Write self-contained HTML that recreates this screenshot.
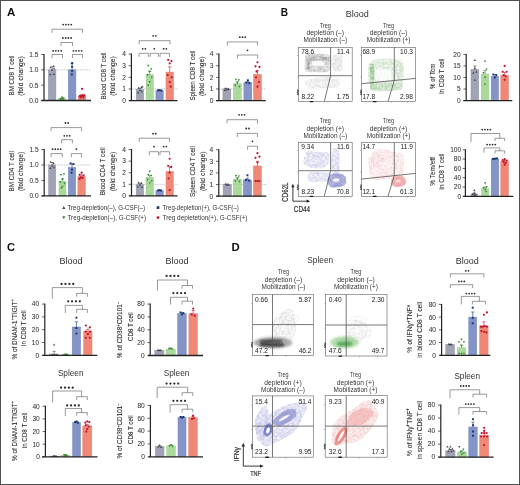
<!DOCTYPE html><html><head><meta charset="utf-8"><style>html,body{margin:0;padding:0;background:#fff;}svg{display:block;will-change:transform;}text{font-family:"Liberation Sans", sans-serif;}</style></head><body>
<svg width="520" height="485" viewBox="0 0 520 485">
<defs><filter id="bl1" x="-50%" y="-50%" width="200%" height="200%"><feGaussianBlur stdDeviation="1.2"/></filter><filter id="bl2" x="-50%" y="-50%" width="200%" height="200%"><feGaussianBlur stdDeviation="2.2"/></filter><filter id="bl05" x="-50%" y="-50%" width="200%" height="200%"><feGaussianBlur stdDeviation="0.5"/></filter><filter id="bl08" x="-50%" y="-50%" width="200%" height="200%"><feGaussianBlur stdDeviation="0.8"/></filter><filter id="tex" x="-20%" y="-20%" width="140%" height="140%"><feTurbulence type="fractalNoise" baseFrequency="0.4" numOctaves="2" seed="3" result="n"/><feColorMatrix in="n" type="matrix" values="0 0 0 0 0  0 0 0 0 0  0 0 0 0 0  0 0 0 1.5 -0.1" result="na"/><feComposite in="SourceGraphic" in2="na" operator="in"/></filter></defs>
<rect x="0.00" y="0.00" width="520.00" height="485.00" fill="#fff"/>
<text x="7.00" y="15.96" font-size="11" text-anchor="start" font-weight="bold" fill="#111" textLength="8.30" lengthAdjust="spacingAndGlyphs">A</text>
<text x="280.80" y="16.46" font-size="11" text-anchor="start" font-weight="bold" fill="#111" textLength="7.30" lengthAdjust="spacingAndGlyphs">B</text>
<text x="7.00" y="250.96" font-size="11" text-anchor="start" font-weight="bold" fill="#111" textLength="8.00" lengthAdjust="spacingAndGlyphs">C</text>
<text x="231.50" y="250.96" font-size="11" text-anchor="start" font-weight="bold" fill="#111" textLength="8.20" lengthAdjust="spacingAndGlyphs">D</text>
<line x1="44.00" y1="69.83" x2="91.00" y2="69.83" stroke="#b4b8c0" stroke-width="0.7" stroke-dasharray="0.9,0.9"/>
<rect x="48.30" y="69.83" width="7.60" height="30.67" fill="#a1a3b4" stroke="#9093a6" stroke-width="0.5"/>
<rect x="58.50" y="98.35" width="7.20" height="2.15" fill="#abd99c" stroke="#98cc88" stroke-width="0.5"/>
<rect x="68.30" y="69.83" width="7.60" height="30.67" fill="#8494c6" stroke="#7385ba" stroke-width="0.5"/>
<rect x="78.20" y="95.90" width="7.60" height="4.60" fill="#f08878" stroke="#e67a6a" stroke-width="0.5"/>
<line x1="44.00" y1="69.83" x2="91.00" y2="69.83" stroke="#a8aebb" stroke-width="0.6" stroke-dasharray="0.9,0.9" opacity="0.6"/>
<line x1="52.10" y1="69.83" x2="52.10" y2="66.77" stroke="#45454f" stroke-width="0.6"/>
<line x1="50.50" y1="66.77" x2="53.70" y2="66.77" stroke="#45454f" stroke-width="0.6"/>
<path d="M50.60 66.23L51.75 68.30L49.45 68.30Z" fill="#45454f"/>
<path d="M53.60 65.00L54.75 67.07L52.45 67.07Z" fill="#45454f"/>
<path d="M52.10 68.68L53.25 70.75L50.95 70.75Z" fill="#45454f"/>
<path d="M50.30 73.28L51.45 75.35L49.15 75.35Z" fill="#45454f"/>
<path d="M53.90 72.98L55.05 75.05L52.75 75.05Z" fill="#45454f"/>
<path d="M54.10 67.15L55.25 69.22L52.95 69.22Z" fill="#45454f"/>
<line x1="62.10" y1="98.35" x2="62.10" y2="97.74" stroke="#3a8332" stroke-width="0.6"/>
<line x1="60.50" y1="97.74" x2="63.70" y2="97.74" stroke="#3a8332" stroke-width="0.6"/>
<path d="M60.60 100.12L61.75 98.05L59.45 98.05Z" fill="#3a8332"/>
<path d="M63.60 99.50L64.75 97.43L62.45 97.43Z" fill="#3a8332"/>
<path d="M62.10 98.58L63.25 96.51L60.95 96.51Z" fill="#3a8332"/>
<path d="M61.10 100.73L62.25 98.66L59.95 98.66Z" fill="#3a8332"/>
<path d="M63.10 100.42L64.25 98.35L61.95 98.35Z" fill="#3a8332"/>
<line x1="72.10" y1="69.83" x2="72.10" y2="63.70" stroke="#1a3673" stroke-width="0.6"/>
<line x1="70.50" y1="63.70" x2="73.70" y2="63.70" stroke="#1a3673" stroke-width="0.6"/>
<rect x="71.12" y="62.11" width="1.95" height="1.95" fill="#1a3673"/>
<rect x="71.12" y="65.79" width="1.95" height="1.95" fill="#1a3673"/>
<rect x="71.12" y="69.78" width="1.95" height="1.95" fill="#1a3673"/>
<rect x="70.82" y="73.46" width="1.95" height="1.95" fill="#1a3673"/>
<line x1="82.00" y1="95.90" x2="82.00" y2="94.37" stroke="#c0102a" stroke-width="0.6"/>
<line x1="80.40" y1="94.37" x2="83.60" y2="94.37" stroke="#c0102a" stroke-width="0.6"/>
<circle cx="82.00" cy="88.85" r="1.09" fill="#c0102a"/>
<circle cx="80.00" cy="95.90" r="1.09" fill="#c0102a"/>
<circle cx="81.50" cy="96.21" r="1.09" fill="#c0102a"/>
<circle cx="83.00" cy="95.59" r="1.09" fill="#c0102a"/>
<circle cx="84.50" cy="95.29" r="1.09" fill="#c0102a"/>
<circle cx="80.50" cy="97.43" r="1.09" fill="#c0102a"/>
<circle cx="83.50" cy="97.43" r="1.09" fill="#c0102a"/>
<line x1="44.00" y1="54.00" x2="44.00" y2="100.50" stroke="#222" stroke-width="1.2"/>
<line x1="41.50" y1="100.50" x2="91.00" y2="100.50" stroke="#222" stroke-width="1.3"/>
<line x1="41.20" y1="100.50" x2="44.00" y2="100.50" stroke="#222" stroke-width="0.7"/>
<text x="38.40" y="102.88" font-size="6.6" text-anchor="end" font-weight="normal" fill="#333" stroke="#333" stroke-width="0.05">0.0</text>
<line x1="41.20" y1="85.17" x2="44.00" y2="85.17" stroke="#222" stroke-width="0.7"/>
<text x="38.40" y="87.54" font-size="6.6" text-anchor="end" font-weight="normal" fill="#333" stroke="#333" stroke-width="0.05">0.5</text>
<line x1="41.20" y1="69.83" x2="44.00" y2="69.83" stroke="#222" stroke-width="0.7"/>
<text x="38.40" y="72.21" font-size="6.6" text-anchor="end" font-weight="normal" fill="#333" stroke="#333" stroke-width="0.05">1.0</text>
<line x1="41.20" y1="54.50" x2="44.00" y2="54.50" stroke="#222" stroke-width="0.7"/>
<text x="38.40" y="56.88" font-size="6.6" text-anchor="end" font-weight="normal" fill="#333" stroke="#333" stroke-width="0.05">1.5</text>
<path d="M52.00 32.80V29.20H82.50V32.80" fill="none" stroke="#555" stroke-width="0.6"/>
<circle cx="63.12" cy="24.60" r="0.89" fill="#2a2a2a"/>
<circle cx="65.84" cy="24.60" r="0.89" fill="#2a2a2a"/>
<circle cx="68.56" cy="24.60" r="0.89" fill="#2a2a2a"/>
<circle cx="71.28" cy="24.60" r="0.89" fill="#2a2a2a"/>
<path d="M61.00 46.10V42.50H72.50V46.10" fill="none" stroke="#555" stroke-width="0.6"/>
<circle cx="62.92" cy="38.00" r="0.89" fill="#2a2a2a"/>
<circle cx="65.64" cy="38.00" r="0.89" fill="#2a2a2a"/>
<circle cx="68.36" cy="38.00" r="0.89" fill="#2a2a2a"/>
<circle cx="71.08" cy="38.00" r="0.89" fill="#2a2a2a"/>
<path d="M52.00 58.10V54.50H62.50V58.10" fill="none" stroke="#555" stroke-width="0.6"/>
<circle cx="53.12" cy="50.80" r="0.89" fill="#2a2a2a"/>
<circle cx="55.84" cy="50.80" r="0.89" fill="#2a2a2a"/>
<circle cx="58.56" cy="50.80" r="0.89" fill="#2a2a2a"/>
<circle cx="61.28" cy="50.80" r="0.89" fill="#2a2a2a"/>
<path d="M72.50 58.10V54.50H82.50V58.10" fill="none" stroke="#555" stroke-width="0.6"/>
<circle cx="73.42" cy="50.80" r="0.89" fill="#2a2a2a"/>
<circle cx="76.14" cy="50.80" r="0.89" fill="#2a2a2a"/>
<circle cx="78.86" cy="50.80" r="0.89" fill="#2a2a2a"/>
<circle cx="81.58" cy="50.80" r="0.89" fill="#2a2a2a"/>
<text transform="translate(13.58,75.50) rotate(-90)" x="0" y="0" font-size="8.0" text-anchor="middle" font-weight="normal" fill="#333" textLength="40.00" lengthAdjust="spacingAndGlyphs" stroke="#333" stroke-width="0.12">BM CD8 T cell</text>
<text transform="translate(23.18,76.00) rotate(-90)" x="0" y="0" font-size="8.0" text-anchor="middle" font-weight="normal" fill="#333" textLength="39.60" lengthAdjust="spacingAndGlyphs" stroke="#333" stroke-width="0.12">(fold change)</text>
<line x1="131.40" y1="88.97" x2="177.50" y2="88.97" stroke="#b4b8c0" stroke-width="0.7" stroke-dasharray="0.9,0.9"/>
<rect x="136.20" y="89.56" width="7.50" height="11.04" fill="#a1a3b4" stroke="#9093a6" stroke-width="0.5"/>
<rect x="146.10" y="74.44" width="7.20" height="26.16" fill="#abd99c" stroke="#98cc88" stroke-width="0.5"/>
<rect x="155.90" y="90.72" width="7.40" height="9.88" fill="#8494c6" stroke="#7385ba" stroke-width="0.5"/>
<rect x="166.00" y="72.12" width="7.40" height="28.48" fill="#f08878" stroke="#e67a6a" stroke-width="0.5"/>
<line x1="131.40" y1="88.97" x2="177.50" y2="88.97" stroke="#a8aebb" stroke-width="0.6" stroke-dasharray="0.9,0.9" opacity="0.6"/>
<line x1="139.95" y1="89.56" x2="139.95" y2="88.16" stroke="#45454f" stroke-width="0.6"/>
<line x1="138.35" y1="88.16" x2="141.55" y2="88.16" stroke="#45454f" stroke-width="0.6"/>
<path d="M138.45 86.66L139.60 88.73L137.30 88.73Z" fill="#45454f"/>
<path d="M141.45 86.08L142.60 88.15L140.30 88.15Z" fill="#45454f"/>
<path d="M139.95 88.99L141.10 91.06L138.80 91.06Z" fill="#45454f"/>
<path d="M138.15 91.31L139.30 93.38L137.00 93.38Z" fill="#45454f"/>
<path d="M141.75 90.15L142.90 92.22L140.60 92.22Z" fill="#45454f"/>
<path d="M142.45 85.50L143.60 87.57L141.30 87.57Z" fill="#45454f"/>
<line x1="149.70" y1="74.44" x2="149.70" y2="71.54" stroke="#3a8332" stroke-width="0.6"/>
<line x1="148.10" y1="71.54" x2="151.30" y2="71.54" stroke="#3a8332" stroke-width="0.6"/>
<path d="M148.20 66.88L149.35 64.80L147.05 64.80Z" fill="#3a8332"/>
<path d="M151.20 70.36L152.35 68.29L150.05 68.29Z" fill="#3a8332"/>
<path d="M149.70 72.69L150.85 70.62L148.55 70.62Z" fill="#3a8332"/>
<path d="M147.70 76.17L148.85 74.10L146.55 74.10Z" fill="#3a8332"/>
<path d="M151.70 78.50L152.85 76.43L150.55 76.43Z" fill="#3a8332"/>
<path d="M149.70 83.15L150.85 81.08L148.55 81.08Z" fill="#3a8332"/>
<path d="M148.20 86.64L149.35 84.57L147.05 84.57Z" fill="#3a8332"/>
<line x1="159.60" y1="90.72" x2="159.60" y2="90.25" stroke="#1a3673" stroke-width="0.6"/>
<line x1="158.00" y1="90.25" x2="161.20" y2="90.25" stroke="#1a3673" stroke-width="0.6"/>
<rect x="157.12" y="89.39" width="1.95" height="1.95" fill="#1a3673"/>
<rect x="158.62" y="89.16" width="1.95" height="1.95" fill="#1a3673"/>
<rect x="160.42" y="89.62" width="1.95" height="1.95" fill="#1a3673"/>
<line x1="169.70" y1="72.12" x2="169.70" y2="66.89" stroke="#c0102a" stroke-width="0.6"/>
<line x1="168.10" y1="66.89" x2="171.30" y2="66.89" stroke="#c0102a" stroke-width="0.6"/>
<circle cx="168.20" cy="59.91" r="1.09" fill="#c0102a"/>
<circle cx="171.50" cy="61.08" r="1.09" fill="#c0102a"/>
<circle cx="169.70" cy="63.40" r="1.09" fill="#c0102a"/>
<circle cx="167.70" cy="75.02" r="1.09" fill="#c0102a"/>
<circle cx="171.70" cy="77.35" r="1.09" fill="#c0102a"/>
<circle cx="169.70" cy="82.00" r="1.09" fill="#c0102a"/>
<circle cx="170.70" cy="86.65" r="1.09" fill="#c0102a"/>
<line x1="131.40" y1="53.60" x2="131.40" y2="100.60" stroke="#222" stroke-width="1.2"/>
<line x1="129.00" y1="100.60" x2="177.50" y2="100.60" stroke="#222" stroke-width="1.3"/>
<line x1="128.60" y1="100.60" x2="131.40" y2="100.60" stroke="#222" stroke-width="0.7"/>
<text x="125.80" y="102.98" font-size="6.6" text-anchor="end" font-weight="normal" fill="#333" stroke="#333" stroke-width="0.05">0</text>
<line x1="128.60" y1="88.97" x2="131.40" y2="88.97" stroke="#222" stroke-width="0.7"/>
<text x="125.80" y="91.35" font-size="6.6" text-anchor="end" font-weight="normal" fill="#333" stroke="#333" stroke-width="0.05">1</text>
<line x1="128.60" y1="77.35" x2="131.40" y2="77.35" stroke="#222" stroke-width="0.7"/>
<text x="125.80" y="79.73" font-size="6.6" text-anchor="end" font-weight="normal" fill="#333" stroke="#333" stroke-width="0.05">2</text>
<line x1="128.60" y1="65.72" x2="131.40" y2="65.72" stroke="#222" stroke-width="0.7"/>
<text x="125.80" y="68.10" font-size="6.6" text-anchor="end" font-weight="normal" fill="#333" stroke="#333" stroke-width="0.05">3</text>
<line x1="128.60" y1="54.10" x2="131.40" y2="54.10" stroke="#222" stroke-width="0.7"/>
<text x="125.80" y="56.48" font-size="6.6" text-anchor="end" font-weight="normal" fill="#333" stroke="#333" stroke-width="0.05">4</text>
<path d="M139.10 44.30V40.70H170.00V44.30" fill="none" stroke="#555" stroke-width="0.6"/>
<circle cx="153.14" cy="35.80" r="0.89" fill="#2a2a2a"/>
<circle cx="155.86" cy="35.80" r="0.89" fill="#2a2a2a"/>
<path d="M139.10 56.90V53.30H148.40V56.90" fill="none" stroke="#555" stroke-width="0.6"/>
<circle cx="142.64" cy="48.80" r="0.89" fill="#2a2a2a"/>
<circle cx="145.36" cy="48.80" r="0.89" fill="#2a2a2a"/>
<path d="M150.20 56.90V53.30H158.40V56.90" fill="none" stroke="#555" stroke-width="0.6"/>
<circle cx="154.30" cy="48.80" r="0.89" fill="#2a2a2a"/>
<path d="M160.10 56.90V53.30H169.40V56.90" fill="none" stroke="#555" stroke-width="0.6"/>
<circle cx="163.64" cy="48.80" r="0.89" fill="#2a2a2a"/>
<circle cx="166.36" cy="48.80" r="0.89" fill="#2a2a2a"/>
<text transform="translate(106.38,76.00) rotate(-90)" x="0" y="0" font-size="8.0" text-anchor="middle" font-weight="normal" fill="#333" textLength="47.00" lengthAdjust="spacingAndGlyphs" stroke="#333" stroke-width="0.12">Blood CD8 T cell</text>
<text transform="translate(114.98,76.00) rotate(-90)" x="0" y="0" font-size="8.0" text-anchor="middle" font-weight="normal" fill="#333" textLength="39.50" lengthAdjust="spacingAndGlyphs" stroke="#333" stroke-width="0.12">(fold change)</text>
<line x1="218.90" y1="88.97" x2="265.80" y2="88.97" stroke="#b4b8c0" stroke-width="0.7" stroke-dasharray="0.9,0.9"/>
<rect x="222.90" y="88.97" width="7.90" height="11.62" fill="#a1a3b4" stroke="#9093a6" stroke-width="0.5"/>
<rect x="233.40" y="83.74" width="7.90" height="16.86" fill="#abd99c" stroke="#98cc88" stroke-width="0.5"/>
<rect x="243.90" y="82.58" width="7.90" height="18.02" fill="#8494c6" stroke="#7385ba" stroke-width="0.5"/>
<rect x="253.60" y="74.44" width="7.80" height="26.16" fill="#f08878" stroke="#e67a6a" stroke-width="0.5"/>
<line x1="218.90" y1="88.97" x2="265.80" y2="88.97" stroke="#a8aebb" stroke-width="0.6" stroke-dasharray="0.9,0.9" opacity="0.6"/>
<line x1="226.85" y1="88.97" x2="226.85" y2="88.39" stroke="#45454f" stroke-width="0.6"/>
<line x1="225.25" y1="88.39" x2="228.45" y2="88.39" stroke="#45454f" stroke-width="0.6"/>
<path d="M225.35 87.24L226.50 89.31L224.20 89.31Z" fill="#45454f"/>
<path d="M228.35 87.82L229.50 89.89L227.20 89.89Z" fill="#45454f"/>
<path d="M226.85 88.41L228.00 90.48L225.70 90.48Z" fill="#45454f"/>
<path d="M224.85 88.99L226.00 91.06L223.70 91.06Z" fill="#45454f"/>
<line x1="237.35" y1="83.74" x2="237.35" y2="81.42" stroke="#3a8332" stroke-width="0.6"/>
<line x1="235.75" y1="81.42" x2="238.95" y2="81.42" stroke="#3a8332" stroke-width="0.6"/>
<path d="M235.85 80.83L237.00 78.75L234.70 78.75Z" fill="#3a8332"/>
<path d="M238.85 81.41L240.00 79.34L237.70 79.34Z" fill="#3a8332"/>
<path d="M237.35 84.31L238.50 82.24L236.20 82.24Z" fill="#3a8332"/>
<path d="M235.35 86.64L236.50 84.57L234.20 84.57Z" fill="#3a8332"/>
<path d="M239.35 87.80L240.50 85.73L238.20 85.73Z" fill="#3a8332"/>
<line x1="247.85" y1="82.58" x2="247.85" y2="81.42" stroke="#1a3673" stroke-width="0.6"/>
<line x1="246.25" y1="81.42" x2="249.45" y2="81.42" stroke="#1a3673" stroke-width="0.6"/>
<rect x="246.87" y="79.28" width="1.95" height="1.95" fill="#1a3673"/>
<rect x="245.37" y="81.60" width="1.95" height="1.95" fill="#1a3673"/>
<rect x="248.37" y="82.18" width="1.95" height="1.95" fill="#1a3673"/>
<line x1="257.50" y1="74.44" x2="257.50" y2="70.38" stroke="#c0102a" stroke-width="0.6"/>
<line x1="255.90" y1="70.38" x2="259.10" y2="70.38" stroke="#c0102a" stroke-width="0.6"/>
<circle cx="255.50" cy="66.31" r="1.09" fill="#c0102a"/>
<circle cx="257.50" cy="62.24" r="1.09" fill="#c0102a"/>
<circle cx="259.50" cy="66.89" r="1.09" fill="#c0102a"/>
<circle cx="256.50" cy="71.54" r="1.09" fill="#c0102a"/>
<circle cx="259.00" cy="82.00" r="1.09" fill="#c0102a"/>
<circle cx="257.50" cy="86.65" r="1.09" fill="#c0102a"/>
<circle cx="256.00" cy="77.35" r="1.09" fill="#c0102a"/>
<line x1="218.90" y1="53.60" x2="218.90" y2="100.60" stroke="#222" stroke-width="1.2"/>
<line x1="216.00" y1="100.60" x2="265.80" y2="100.60" stroke="#222" stroke-width="1.3"/>
<line x1="216.10" y1="100.60" x2="218.90" y2="100.60" stroke="#222" stroke-width="0.7"/>
<text x="213.30" y="102.98" font-size="6.6" text-anchor="end" font-weight="normal" fill="#333" stroke="#333" stroke-width="0.05">0</text>
<line x1="216.10" y1="88.97" x2="218.90" y2="88.97" stroke="#222" stroke-width="0.7"/>
<text x="213.30" y="91.35" font-size="6.6" text-anchor="end" font-weight="normal" fill="#333" stroke="#333" stroke-width="0.05">1</text>
<line x1="216.10" y1="77.35" x2="218.90" y2="77.35" stroke="#222" stroke-width="0.7"/>
<text x="213.30" y="79.73" font-size="6.6" text-anchor="end" font-weight="normal" fill="#333" stroke="#333" stroke-width="0.05">2</text>
<line x1="216.10" y1="65.72" x2="218.90" y2="65.72" stroke="#222" stroke-width="0.7"/>
<text x="213.30" y="68.10" font-size="6.6" text-anchor="end" font-weight="normal" fill="#333" stroke="#333" stroke-width="0.05">3</text>
<line x1="216.10" y1="54.10" x2="218.90" y2="54.10" stroke="#222" stroke-width="0.7"/>
<text x="213.30" y="56.48" font-size="6.6" text-anchor="end" font-weight="normal" fill="#333" stroke="#333" stroke-width="0.05">4</text>
<path d="M227.30 45.50V41.90H257.60V45.50" fill="none" stroke="#555" stroke-width="0.6"/>
<circle cx="239.78" cy="37.20" r="0.89" fill="#2a2a2a"/>
<circle cx="242.50" cy="37.20" r="0.89" fill="#2a2a2a"/>
<circle cx="245.22" cy="37.20" r="0.89" fill="#2a2a2a"/>
<path d="M237.40 58.60V55.00H257.60V58.60" fill="none" stroke="#555" stroke-width="0.6"/>
<circle cx="247.50" cy="50.30" r="0.89" fill="#2a2a2a"/>
<text transform="translate(195.08,75.60) rotate(-90)" x="0" y="0" font-size="8.0" text-anchor="middle" font-weight="normal" fill="#333" textLength="50.00" lengthAdjust="spacingAndGlyphs" stroke="#333" stroke-width="0.12">Spleen CD8 T cell</text>
<text transform="translate(204.38,76.30) rotate(-90)" x="0" y="0" font-size="8.0" text-anchor="middle" font-weight="normal" fill="#333" textLength="39.50" lengthAdjust="spacingAndGlyphs" stroke="#333" stroke-width="0.12">(fold change)</text>
<line x1="44.20" y1="164.97" x2="91.00" y2="164.97" stroke="#b4b8c0" stroke-width="0.7" stroke-dasharray="0.9,0.9"/>
<rect x="48.60" y="164.97" width="7.10" height="30.93" fill="#a1a3b4" stroke="#9093a6" stroke-width="0.5"/>
<rect x="59.00" y="181.36" width="6.90" height="14.54" fill="#abd99c" stroke="#98cc88" stroke-width="0.5"/>
<rect x="68.30" y="167.44" width="7.40" height="28.46" fill="#8494c6" stroke="#7385ba" stroke-width="0.5"/>
<rect x="77.90" y="176.72" width="7.40" height="19.18" fill="#f08878" stroke="#e67a6a" stroke-width="0.5"/>
<line x1="44.20" y1="164.97" x2="91.00" y2="164.97" stroke="#a8aebb" stroke-width="0.6" stroke-dasharray="0.9,0.9" opacity="0.6"/>
<line x1="52.15" y1="164.97" x2="52.15" y2="162.49" stroke="#45454f" stroke-width="0.6"/>
<line x1="50.55" y1="162.49" x2="53.75" y2="162.49" stroke="#45454f" stroke-width="0.6"/>
<path d="M50.65 160.72L51.80 162.79L49.50 162.79Z" fill="#45454f"/>
<path d="M53.65 162.27L54.80 164.34L52.50 164.34Z" fill="#45454f"/>
<path d="M52.15 164.74L53.30 166.81L51.00 166.81Z" fill="#45454f"/>
<path d="M50.35 166.91L51.50 168.98L49.20 168.98Z" fill="#45454f"/>
<path d="M53.95 166.29L55.10 168.36L52.80 168.36Z" fill="#45454f"/>
<line x1="62.45" y1="181.36" x2="62.45" y2="179.51" stroke="#3a8332" stroke-width="0.6"/>
<line x1="60.85" y1="179.51" x2="64.05" y2="179.51" stroke="#3a8332" stroke-width="0.6"/>
<path d="M60.95 176.02L62.10 173.95L59.80 173.95Z" fill="#3a8332"/>
<path d="M63.95 175.40L65.10 173.33L62.80 173.33Z" fill="#3a8332"/>
<path d="M62.45 180.04L63.60 177.97L61.30 177.97Z" fill="#3a8332"/>
<path d="M60.45 183.13L61.60 181.06L59.30 181.06Z" fill="#3a8332"/>
<path d="M64.45 184.68L65.60 182.61L63.30 182.61Z" fill="#3a8332"/>
<path d="M62.45 187.77L63.60 185.70L61.30 185.70Z" fill="#3a8332"/>
<path d="M61.45 189.32L62.60 187.25L60.30 187.25Z" fill="#3a8332"/>
<line x1="72.00" y1="167.44" x2="72.00" y2="163.73" stroke="#1a3673" stroke-width="0.6"/>
<line x1="70.40" y1="163.73" x2="73.60" y2="163.73" stroke="#1a3673" stroke-width="0.6"/>
<rect x="69.52" y="162.44" width="1.95" height="1.95" fill="#1a3673"/>
<rect x="72.52" y="163.06" width="1.95" height="1.95" fill="#1a3673"/>
<rect x="71.02" y="168.63" width="1.95" height="1.95" fill="#1a3673"/>
<rect x="70.52" y="171.72" width="1.95" height="1.95" fill="#1a3673"/>
<line x1="81.60" y1="176.72" x2="81.60" y2="174.87" stroke="#c0102a" stroke-width="0.6"/>
<line x1="80.00" y1="174.87" x2="83.20" y2="174.87" stroke="#c0102a" stroke-width="0.6"/>
<circle cx="81.60" cy="172.70" r="1.09" fill="#c0102a"/>
<circle cx="79.60" cy="174.87" r="1.09" fill="#c0102a"/>
<circle cx="83.60" cy="175.48" r="1.09" fill="#c0102a"/>
<circle cx="80.60" cy="177.34" r="1.09" fill="#c0102a"/>
<circle cx="82.60" cy="177.96" r="1.09" fill="#c0102a"/>
<circle cx="79.60" cy="178.89" r="1.09" fill="#c0102a"/>
<line x1="44.20" y1="149.00" x2="44.20" y2="195.90" stroke="#222" stroke-width="1.2"/>
<line x1="41.70" y1="195.90" x2="91.00" y2="195.90" stroke="#222" stroke-width="1.3"/>
<line x1="41.40" y1="195.90" x2="44.20" y2="195.90" stroke="#222" stroke-width="0.7"/>
<text x="38.60" y="198.28" font-size="6.6" text-anchor="end" font-weight="normal" fill="#333" stroke="#333" stroke-width="0.05">0.0</text>
<line x1="41.40" y1="180.43" x2="44.20" y2="180.43" stroke="#222" stroke-width="0.7"/>
<text x="38.60" y="182.81" font-size="6.6" text-anchor="end" font-weight="normal" fill="#333" stroke="#333" stroke-width="0.05">0.5</text>
<line x1="41.40" y1="164.97" x2="44.20" y2="164.97" stroke="#222" stroke-width="0.7"/>
<text x="38.60" y="167.34" font-size="6.6" text-anchor="end" font-weight="normal" fill="#333" stroke="#333" stroke-width="0.05">1.0</text>
<line x1="41.40" y1="149.50" x2="44.20" y2="149.50" stroke="#222" stroke-width="0.7"/>
<text x="38.60" y="151.88" font-size="6.6" text-anchor="end" font-weight="normal" fill="#333" stroke="#333" stroke-width="0.05">1.5</text>
<path d="M51.00 131.20V127.60H81.60V131.20" fill="none" stroke="#555" stroke-width="0.6"/>
<circle cx="65.44" cy="123.00" r="0.89" fill="#2a2a2a"/>
<circle cx="68.16" cy="123.00" r="0.89" fill="#2a2a2a"/>
<path d="M61.60 143.30V139.70H72.40V143.30" fill="none" stroke="#555" stroke-width="0.6"/>
<circle cx="64.28" cy="135.80" r="0.89" fill="#2a2a2a"/>
<circle cx="67.00" cy="135.80" r="0.89" fill="#2a2a2a"/>
<circle cx="69.72" cy="135.80" r="0.89" fill="#2a2a2a"/>
<path d="M51.00 157.20V153.60H62.20V157.20" fill="none" stroke="#555" stroke-width="0.6"/>
<circle cx="52.52" cy="149.20" r="0.89" fill="#2a2a2a"/>
<circle cx="55.24" cy="149.20" r="0.89" fill="#2a2a2a"/>
<circle cx="57.96" cy="149.20" r="0.89" fill="#2a2a2a"/>
<circle cx="60.68" cy="149.20" r="0.89" fill="#2a2a2a"/>
<path d="M71.40 157.20V153.60H81.60V157.20" fill="none" stroke="#555" stroke-width="0.6"/>
<circle cx="76.40" cy="149.20" r="0.89" fill="#2a2a2a"/>
<text transform="translate(13.78,171.30) rotate(-90)" x="0" y="0" font-size="8.0" text-anchor="middle" font-weight="normal" fill="#333" textLength="40.20" lengthAdjust="spacingAndGlyphs" stroke="#333" stroke-width="0.12">BM CD4 T cell</text>
<text transform="translate(22.88,171.30) rotate(-90)" x="0" y="0" font-size="8.0" text-anchor="middle" font-weight="normal" fill="#333" textLength="39.20" lengthAdjust="spacingAndGlyphs" stroke="#333" stroke-width="0.12">(fold change)</text>
<line x1="131.50" y1="184.30" x2="177.60" y2="184.30" stroke="#b4b8c0" stroke-width="0.7" stroke-dasharray="0.9,0.9"/>
<rect x="136.20" y="184.30" width="7.40" height="11.60" fill="#a1a3b4" stroke="#9093a6" stroke-width="0.5"/>
<rect x="146.00" y="177.34" width="7.40" height="18.56" fill="#abd99c" stroke="#98cc88" stroke-width="0.5"/>
<rect x="155.90" y="190.68" width="7.40" height="5.22" fill="#8494c6" stroke="#7385ba" stroke-width="0.5"/>
<rect x="166.00" y="171.54" width="7.30" height="24.36" fill="#f08878" stroke="#e67a6a" stroke-width="0.5"/>
<line x1="131.50" y1="184.30" x2="177.60" y2="184.30" stroke="#a8aebb" stroke-width="0.6" stroke-dasharray="0.9,0.9" opacity="0.6"/>
<line x1="139.90" y1="184.30" x2="139.90" y2="183.14" stroke="#45454f" stroke-width="0.6"/>
<line x1="138.30" y1="183.14" x2="141.50" y2="183.14" stroke="#45454f" stroke-width="0.6"/>
<path d="M138.40 181.41L139.55 183.48L137.25 183.48Z" fill="#45454f"/>
<path d="M141.40 181.99L142.55 184.06L140.25 184.06Z" fill="#45454f"/>
<path d="M139.90 183.73L141.05 185.80L138.75 185.80Z" fill="#45454f"/>
<path d="M137.90 185.47L139.05 187.54L136.75 187.54Z" fill="#45454f"/>
<path d="M141.90 186.05L143.05 188.12L140.75 188.12Z" fill="#45454f"/>
<line x1="149.70" y1="177.34" x2="149.70" y2="175.60" stroke="#3a8332" stroke-width="0.6"/>
<line x1="148.10" y1="175.60" x2="151.30" y2="175.60" stroke="#3a8332" stroke-width="0.6"/>
<path d="M149.70 172.69L150.85 170.62L148.55 170.62Z" fill="#3a8332"/>
<path d="M148.20 176.17L149.35 174.10L147.05 174.10Z" fill="#3a8332"/>
<path d="M151.20 176.75L152.35 174.68L150.05 174.68Z" fill="#3a8332"/>
<path d="M147.70 180.81L148.85 178.74L146.55 178.74Z" fill="#3a8332"/>
<path d="M151.70 181.97L152.85 179.90L150.55 179.90Z" fill="#3a8332"/>
<path d="M149.70 184.29L150.85 182.22L148.55 182.22Z" fill="#3a8332"/>
<line x1="159.60" y1="190.68" x2="159.60" y2="190.33" stroke="#1a3673" stroke-width="0.6"/>
<line x1="158.00" y1="190.33" x2="161.20" y2="190.33" stroke="#1a3673" stroke-width="0.6"/>
<rect x="157.12" y="189.47" width="1.95" height="1.95" fill="#1a3673"/>
<rect x="158.62" y="189.12" width="1.95" height="1.95" fill="#1a3673"/>
<rect x="160.12" y="189.59" width="1.95" height="1.95" fill="#1a3673"/>
<line x1="169.65" y1="171.54" x2="169.65" y2="166.90" stroke="#c0102a" stroke-width="0.6"/>
<line x1="168.05" y1="166.90" x2="171.25" y2="166.90" stroke="#c0102a" stroke-width="0.6"/>
<circle cx="169.65" cy="158.78" r="1.09" fill="#c0102a"/>
<circle cx="168.15" cy="165.74" r="1.09" fill="#c0102a"/>
<circle cx="171.15" cy="166.90" r="1.09" fill="#c0102a"/>
<circle cx="169.65" cy="172.70" r="1.09" fill="#c0102a"/>
<circle cx="168.65" cy="178.50" r="1.09" fill="#c0102a"/>
<circle cx="169.65" cy="190.10" r="1.09" fill="#c0102a"/>
<line x1="131.50" y1="149.00" x2="131.50" y2="195.90" stroke="#222" stroke-width="1.2"/>
<line x1="129.30" y1="195.90" x2="177.60" y2="195.90" stroke="#222" stroke-width="1.3"/>
<line x1="128.70" y1="195.90" x2="131.50" y2="195.90" stroke="#222" stroke-width="0.7"/>
<text x="125.90" y="198.28" font-size="6.6" text-anchor="end" font-weight="normal" fill="#333" stroke="#333" stroke-width="0.05">0</text>
<line x1="128.70" y1="184.30" x2="131.50" y2="184.30" stroke="#222" stroke-width="0.7"/>
<text x="125.90" y="186.68" font-size="6.6" text-anchor="end" font-weight="normal" fill="#333" stroke="#333" stroke-width="0.05">1</text>
<line x1="128.70" y1="172.70" x2="131.50" y2="172.70" stroke="#222" stroke-width="0.7"/>
<text x="125.90" y="175.08" font-size="6.6" text-anchor="end" font-weight="normal" fill="#333" stroke="#333" stroke-width="0.05">2</text>
<line x1="128.70" y1="161.10" x2="131.50" y2="161.10" stroke="#222" stroke-width="0.7"/>
<text x="125.90" y="163.48" font-size="6.6" text-anchor="end" font-weight="normal" fill="#333" stroke="#333" stroke-width="0.05">3</text>
<line x1="128.70" y1="149.50" x2="131.50" y2="149.50" stroke="#222" stroke-width="0.7"/>
<text x="125.90" y="151.88" font-size="6.6" text-anchor="end" font-weight="normal" fill="#333" stroke="#333" stroke-width="0.05">4</text>
<path d="M139.20 141.80V138.20H169.60V141.80" fill="none" stroke="#555" stroke-width="0.6"/>
<circle cx="153.04" cy="133.70" r="0.89" fill="#2a2a2a"/>
<circle cx="155.76" cy="133.70" r="0.89" fill="#2a2a2a"/>
<path d="M149.40 155.30V151.70H158.50V155.30" fill="none" stroke="#555" stroke-width="0.6"/>
<circle cx="154.00" cy="146.60" r="0.89" fill="#2a2a2a"/>
<path d="M160.00 155.30V151.70H169.60V155.30" fill="none" stroke="#555" stroke-width="0.6"/>
<circle cx="163.64" cy="146.60" r="0.89" fill="#2a2a2a"/>
<circle cx="166.36" cy="146.60" r="0.89" fill="#2a2a2a"/>
<text transform="translate(105.48,171.30) rotate(-90)" x="0" y="0" font-size="8.0" text-anchor="middle" font-weight="normal" fill="#333" textLength="47.70" lengthAdjust="spacingAndGlyphs" stroke="#333" stroke-width="0.12">Blood CD4 T cell</text>
<text transform="translate(114.98,171.60) rotate(-90)" x="0" y="0" font-size="8.0" text-anchor="middle" font-weight="normal" fill="#333" textLength="39.50" lengthAdjust="spacingAndGlyphs" stroke="#333" stroke-width="0.12">(fold change)</text>
<line x1="218.80" y1="184.57" x2="266.30" y2="184.57" stroke="#b4b8c0" stroke-width="0.7" stroke-dasharray="0.9,0.9"/>
<rect x="223.10" y="184.57" width="8.30" height="11.62" fill="#a1a3b4" stroke="#9093a6" stroke-width="0.5"/>
<rect x="233.30" y="179.34" width="8.10" height="16.86" fill="#abd99c" stroke="#98cc88" stroke-width="0.5"/>
<rect x="243.30" y="179.92" width="8.30" height="16.28" fill="#8494c6" stroke="#7385ba" stroke-width="0.5"/>
<rect x="253.50" y="165.97" width="7.90" height="30.22" fill="#f08878" stroke="#e67a6a" stroke-width="0.5"/>
<line x1="218.80" y1="184.57" x2="266.30" y2="184.57" stroke="#a8aebb" stroke-width="0.6" stroke-dasharray="0.9,0.9" opacity="0.6"/>
<line x1="227.25" y1="184.57" x2="227.25" y2="183.99" stroke="#45454f" stroke-width="0.6"/>
<line x1="225.65" y1="183.99" x2="228.85" y2="183.99" stroke="#45454f" stroke-width="0.6"/>
<path d="M225.75 182.84L226.90 184.91L224.60 184.91Z" fill="#45454f"/>
<path d="M228.75 183.42L229.90 185.49L227.60 185.49Z" fill="#45454f"/>
<path d="M227.25 184.01L228.40 186.08L226.10 186.08Z" fill="#45454f"/>
<line x1="237.35" y1="179.34" x2="237.35" y2="177.60" stroke="#3a8332" stroke-width="0.6"/>
<line x1="235.75" y1="177.60" x2="238.95" y2="177.60" stroke="#3a8332" stroke-width="0.6"/>
<path d="M235.85 177.01L237.00 174.94L234.70 174.94Z" fill="#3a8332"/>
<path d="M238.85 177.59L240.00 175.52L237.70 175.52Z" fill="#3a8332"/>
<path d="M237.35 179.91L238.50 177.84L236.20 177.84Z" fill="#3a8332"/>
<path d="M235.35 182.24L236.50 180.17L234.20 180.17Z" fill="#3a8332"/>
<path d="M239.35 182.82L240.50 180.75L238.20 180.75Z" fill="#3a8332"/>
<line x1="247.45" y1="179.92" x2="247.45" y2="178.18" stroke="#1a3673" stroke-width="0.6"/>
<line x1="245.85" y1="178.18" x2="249.05" y2="178.18" stroke="#1a3673" stroke-width="0.6"/>
<rect x="246.47" y="174.30" width="1.95" height="1.95" fill="#1a3673"/>
<rect x="244.97" y="178.95" width="1.95" height="1.95" fill="#1a3673"/>
<rect x="247.97" y="179.53" width="1.95" height="1.95" fill="#1a3673"/>
<line x1="257.45" y1="165.97" x2="257.45" y2="161.32" stroke="#c0102a" stroke-width="0.6"/>
<line x1="255.85" y1="161.32" x2="259.05" y2="161.32" stroke="#c0102a" stroke-width="0.6"/>
<circle cx="257.45" cy="153.19" r="1.09" fill="#c0102a"/>
<circle cx="255.45" cy="157.84" r="1.09" fill="#c0102a"/>
<circle cx="259.45" cy="156.67" r="1.09" fill="#c0102a"/>
<circle cx="257.45" cy="162.49" r="1.09" fill="#c0102a"/>
<circle cx="255.45" cy="181.09" r="1.09" fill="#c0102a"/>
<circle cx="259.45" cy="181.09" r="1.09" fill="#c0102a"/>
<circle cx="257.45" cy="181.09" r="1.09" fill="#c0102a"/>
<line x1="218.80" y1="149.20" x2="218.80" y2="196.20" stroke="#222" stroke-width="1.2"/>
<line x1="216.30" y1="196.20" x2="266.30" y2="196.20" stroke="#222" stroke-width="1.3"/>
<line x1="216.00" y1="196.20" x2="218.80" y2="196.20" stroke="#222" stroke-width="0.7"/>
<text x="213.20" y="198.58" font-size="6.6" text-anchor="end" font-weight="normal" fill="#333" stroke="#333" stroke-width="0.05">0</text>
<line x1="216.00" y1="184.57" x2="218.80" y2="184.57" stroke="#222" stroke-width="0.7"/>
<text x="213.20" y="186.95" font-size="6.6" text-anchor="end" font-weight="normal" fill="#333" stroke="#333" stroke-width="0.05">1</text>
<line x1="216.00" y1="172.95" x2="218.80" y2="172.95" stroke="#222" stroke-width="0.7"/>
<text x="213.20" y="175.33" font-size="6.6" text-anchor="end" font-weight="normal" fill="#333" stroke="#333" stroke-width="0.05">2</text>
<line x1="216.00" y1="161.32" x2="218.80" y2="161.32" stroke="#222" stroke-width="0.7"/>
<text x="213.20" y="163.70" font-size="6.6" text-anchor="end" font-weight="normal" fill="#333" stroke="#333" stroke-width="0.05">3</text>
<line x1="216.00" y1="149.70" x2="218.80" y2="149.70" stroke="#222" stroke-width="0.7"/>
<text x="213.20" y="152.08" font-size="6.6" text-anchor="end" font-weight="normal" fill="#333" stroke="#333" stroke-width="0.05">4</text>
<path d="M227.00 123.30V119.70H257.50V123.30" fill="none" stroke="#555" stroke-width="0.6"/>
<circle cx="239.08" cy="114.80" r="0.89" fill="#2a2a2a"/>
<circle cx="241.80" cy="114.80" r="0.89" fill="#2a2a2a"/>
<circle cx="244.52" cy="114.80" r="0.89" fill="#2a2a2a"/>
<path d="M237.30 137.00V133.40H257.50V137.00" fill="none" stroke="#555" stroke-width="0.6"/>
<circle cx="246.24" cy="128.50" r="0.89" fill="#2a2a2a"/>
<circle cx="248.96" cy="128.50" r="0.89" fill="#2a2a2a"/>
<path d="M247.60 149.80V146.20H257.50V149.80" fill="none" stroke="#555" stroke-width="0.6"/>
<circle cx="252.50" cy="141.30" r="0.89" fill="#2a2a2a"/>
<text transform="translate(195.08,171.60) rotate(-90)" x="0" y="0" font-size="8.0" text-anchor="middle" font-weight="normal" fill="#333" textLength="50.80" lengthAdjust="spacingAndGlyphs" stroke="#333" stroke-width="0.12">Spleen CD4 T cell</text>
<text transform="translate(204.58,171.30) rotate(-90)" x="0" y="0" font-size="8.0" text-anchor="middle" font-weight="normal" fill="#333" textLength="39.50" lengthAdjust="spacingAndGlyphs" stroke="#333" stroke-width="0.12">(fold change)</text>
<path d="M63.80 206.00L65.40 208.88L62.20 208.88Z" fill="#45454f"/>
<text x="67.50" y="210.08" font-size="6.9" text-anchor="start" font-weight="normal" fill="#333" textLength="77.50" lengthAdjust="spacingAndGlyphs">Treg-depletion(–), G-CSF(–)</text>
<path d="M63.80 219.20L65.40 216.32L62.20 216.32Z" fill="#3a8332"/>
<text x="67.50" y="219.98" font-size="6.9" text-anchor="start" font-weight="normal" fill="#333" textLength="78.50" lengthAdjust="spacingAndGlyphs">Treg-depletion(–), G-CSF(+)</text>
<rect x="156.64" y="206.24" width="2.72" height="2.72" fill="#1a3673"/>
<text x="162.50" y="210.08" font-size="6.9" text-anchor="start" font-weight="normal" fill="#333" textLength="76.30" lengthAdjust="spacingAndGlyphs">Treg-depletion(+), G-CSF(–)</text>
<circle cx="158.00" cy="217.60" r="1.38" fill="#c0102a"/>
<text x="162.50" y="219.98" font-size="6.9" text-anchor="start" font-weight="normal" fill="#333" textLength="85.00" lengthAdjust="spacingAndGlyphs">Treg depletetion(+), G-CSF(+)</text>
<text x="357.30" y="17.44" font-size="9" text-anchor="middle" font-weight="normal" fill="#333">Blood</text>
<text x="325.30" y="27.88" font-size="6.9" text-anchor="middle" font-weight="normal" fill="#333" textLength="11.00" lengthAdjust="spacingAndGlyphs">Treg</text>
<text x="325.30" y="35.08" font-size="6.9" text-anchor="middle" font-weight="normal" fill="#333" textLength="37.50" lengthAdjust="spacingAndGlyphs">depletion (–)</text>
<text x="325.30" y="42.28" font-size="6.9" text-anchor="middle" font-weight="normal" fill="#333" textLength="43.80" lengthAdjust="spacingAndGlyphs">Mobilization (–)</text>
<text x="388.60" y="27.88" font-size="6.9" text-anchor="middle" font-weight="normal" fill="#333" textLength="11.00" lengthAdjust="spacingAndGlyphs">Treg</text>
<text x="388.60" y="35.08" font-size="6.9" text-anchor="middle" font-weight="normal" fill="#333" textLength="37.50" lengthAdjust="spacingAndGlyphs">depletion (–)</text>
<text x="388.60" y="42.28" font-size="6.9" text-anchor="middle" font-weight="normal" fill="#333" textLength="43.80" lengthAdjust="spacingAndGlyphs">Mobilization (+)</text>
<text x="325.30" y="123.48" font-size="6.9" text-anchor="middle" font-weight="normal" fill="#333" textLength="11.00" lengthAdjust="spacingAndGlyphs">Treg</text>
<text x="325.30" y="130.58" font-size="6.9" text-anchor="middle" font-weight="normal" fill="#333" textLength="37.50" lengthAdjust="spacingAndGlyphs">depletion (+)</text>
<text x="325.30" y="137.88" font-size="6.9" text-anchor="middle" font-weight="normal" fill="#333" textLength="43.80" lengthAdjust="spacingAndGlyphs">Mobilization (–)</text>
<text x="388.60" y="123.48" font-size="6.9" text-anchor="middle" font-weight="normal" fill="#333" textLength="11.00" lengthAdjust="spacingAndGlyphs">Treg</text>
<text x="388.60" y="130.58" font-size="6.9" text-anchor="middle" font-weight="normal" fill="#333" textLength="37.50" lengthAdjust="spacingAndGlyphs">depletion (+)</text>
<text x="388.60" y="137.88" font-size="6.9" text-anchor="middle" font-weight="normal" fill="#333" textLength="43.80" lengthAdjust="spacingAndGlyphs">Mobilization (+)</text>
<g filter="url(#tex)">
<path d="M330.60 63.00 L330.34 67.01 L330.00 68.19 L329.64 69.00 L329.30 69.66 L328.95 70.24 L328.55 70.77 L328.02 71.23 L327.30 71.58 L326.31 71.81 L324.99 71.92 L323.14 71.92 L317.50 71.87 L311.94 71.80 L310.17 71.73 L308.84 71.67 L307.72 71.57 L306.76 71.39 L305.99 71.09 L305.43 70.63 L305.10 70.00 L304.96 69.20 L304.97 68.20 L305.05 66.89 L305.15 63.00 L305.23 59.17 L305.29 57.93 L305.37 57.00 L305.50 56.23 L305.74 55.56 L306.13 55.00 L306.70 54.56 L307.48 54.22 L308.50 54.00 L309.85 53.89 L311.74 53.89 L317.50 53.98 L323.10 54.14 L324.76 54.36 L325.90 54.60 L326.82 54.84 L327.64 55.08 L328.41 55.33 L329.14 55.64 L329.79 56.06 L330.29 56.68 L330.61 57.56 L330.70 58.87Z" fill="#c4c4c4" opacity="0.85"/>
<path d="M330.60 63.00 L330.34 67.01 L330.00 68.19 L329.64 69.00 L329.30 69.66 L328.95 70.24 L328.55 70.77 L328.02 71.23 L327.30 71.58 L326.31 71.81 L324.99 71.92 L323.14 71.92 L317.50 71.87 L311.94 71.80 L310.17 71.73 L308.84 71.67 L307.72 71.57 L306.76 71.39 L305.99 71.09 L305.43 70.63 L305.10 70.00 L304.96 69.20 L304.97 68.20 L305.05 66.89 L305.15 63.00 L305.23 59.17 L305.29 57.93 L305.37 57.00 L305.50 56.23 L305.74 55.56 L306.13 55.00 L306.70 54.56 L307.48 54.22 L308.50 54.00 L309.85 53.89 L311.74 53.89 L317.50 53.98 L323.10 54.14 L324.76 54.36 L325.90 54.60 L326.82 54.84 L327.64 55.08 L328.41 55.33 L329.14 55.64 L329.79 56.06 L330.29 56.68 L330.61 57.56 L330.70 58.87Z" fill="none" stroke="#999999" stroke-width="0.55" opacity="0.7"/>
<path d="M328.46 63.00 L328.11 66.31 L327.81 67.28 L327.62 68.00 L327.52 68.65 L327.41 69.27 L327.20 69.82 L326.80 70.27 L326.15 70.58 L325.25 70.75 L324.06 70.81 L322.43 70.80 L317.50 70.76 L312.63 70.71 L311.10 70.62 L310.01 70.49 L309.18 70.29 L308.54 70.00 L308.04 69.65 L307.64 69.23 L307.28 68.77 L306.93 68.23 L306.59 67.53 L306.30 66.50 L306.14 63.00 L306.15 59.45 L306.36 58.37 L306.73 57.68 L307.21 57.19 L307.72 56.81 L308.20 56.46 L308.66 56.09 L309.17 55.71 L309.86 55.36 L310.87 55.10 L312.44 55.00 L317.50 55.06 L322.39 55.26 L323.77 55.54 L324.69 55.80 L325.48 56.01 L326.25 56.16 L327.05 56.29 L327.81 56.48 L328.43 56.83 L328.82 57.40 L328.93 58.26 L328.78 59.48Z" fill="none" stroke="#999999" stroke-width="0.55" opacity="0.7"/>
<path d="M326.49 63.00 L326.62 65.85 L326.69 66.82 L326.65 67.52 L326.44 68.05 L326.08 68.43 L325.60 68.69 L325.03 68.89 L324.42 69.06 L323.72 69.22 L322.87 69.39 L321.63 69.53 L317.50 69.62 L313.31 69.63 L312.01 69.54 L311.12 69.38 L310.47 69.16 L309.94 68.91 L309.49 68.63 L309.10 68.31 L308.78 67.92 L308.53 67.43 L308.39 66.78 L308.34 65.86 L308.36 63.00 L308.42 60.16 L308.47 59.25 L308.51 58.56 L308.58 57.97 L308.74 57.46 L309.06 57.07 L309.57 56.80 L310.29 56.69 L311.19 56.69 L312.27 56.77 L313.61 56.85 L317.50 56.88 L321.40 56.83 L322.77 56.73 L323.87 56.63 L324.80 56.60 L325.54 56.72 L326.03 57.00 L326.29 57.44 L326.37 57.99 L326.36 58.62 L326.34 59.33 L326.38 60.22Z" fill="none" stroke="#999999" stroke-width="0.55" opacity="0.7"/>
<path d="M324.88 63.00 L324.90 65.31 L324.84 66.05 L324.71 66.56 L324.54 66.97 L324.32 67.32 L324.08 67.63 L323.78 67.91 L323.38 68.15 L322.82 68.32 L322.04 68.41 L320.91 68.40 L317.50 68.32 L314.22 68.18 L313.26 68.04 L312.59 67.92 L312.01 67.81 L311.48 67.71 L310.99 67.57 L310.59 67.37 L310.29 67.07 L310.11 66.65 L310.03 66.10 L310.00 65.34 L310.00 63.00 L310.00 60.66 L310.00 59.89 L310.04 59.31 L310.17 58.86 L310.44 58.53 L310.84 58.32 L311.37 58.21 L311.98 58.17 L312.65 58.15 L313.38 58.10 L314.34 58.00 L317.50 57.86 L320.84 57.71 L322.03 57.61 L322.90 57.60 L323.54 57.71 L323.97 57.94 L324.23 58.27 L324.38 58.65 L324.48 59.06 L324.58 59.50 L324.69 60.02 L324.80 60.72Z" fill="none" stroke="#999999" stroke-width="0.55" opacity="0.7"/>
<path d="M323.36 63.00 L323.37 64.83 L323.31 65.41 L323.19 65.81 L323.03 66.12 L322.82 66.36 L322.56 66.56 L322.24 66.71 L321.86 66.81 L321.38 66.89 L320.80 66.93 L319.99 66.94 L317.50 66.95 L315.00 66.95 L314.19 66.94 L313.58 66.92 L313.09 66.86 L312.69 66.76 L312.38 66.60 L312.15 66.38 L311.99 66.11 L311.88 65.78 L311.81 65.36 L311.77 64.79 L311.75 63.00 L311.76 61.21 L311.82 60.64 L311.93 60.25 L312.11 59.96 L312.34 59.74 L312.61 59.56 L312.90 59.41 L313.23 59.26 L313.61 59.11 L314.11 58.97 L314.88 58.85 L317.50 58.79 L320.16 58.79 L320.98 58.86 L321.50 59.00 L321.86 59.18 L322.12 59.39 L322.33 59.60 L322.53 59.82 L322.74 60.04 L322.94 60.31 L323.13 60.66 L323.27 61.20Z" fill="none" stroke="#999999" stroke-width="0.55" opacity="0.7"/>
</g>
<path d="M306.5 57.5 Q317 55.5 329 57.5 L329 61 Q317 59.5 310.5 61.5 L310 69.5 L306.5 69.5 Z" fill="#9a9a9a" opacity="0.7" filter="url(#tex)"/>
<path d="M324.63 63.50 L324.56 64.42 L324.43 64.78 L324.24 65.04 L324.00 65.25 L323.74 65.43 L323.42 65.59 L323.04 65.71 L322.58 65.82 L322.01 65.90 L321.29 65.95 L320.33 65.97 L318.00 65.99 L315.66 65.98 L314.68 65.96 L313.94 65.93 L313.33 65.86 L312.84 65.76 L312.46 65.63 L312.18 65.46 L311.98 65.26 L311.84 65.03 L311.73 64.75 L311.64 64.39 L311.57 63.50 L311.54 62.60 L311.56 62.22 L311.67 61.93 L311.87 61.71 L312.17 61.54 L312.54 61.40 L312.97 61.29 L313.45 61.20 L314.01 61.12 L314.70 61.05 L315.63 60.99 L318.00 60.96 L320.38 60.97 L321.34 61.02 L322.03 61.09 L322.55 61.20 L322.98 61.31 L323.35 61.44 L323.68 61.59 L323.99 61.75 L324.26 61.95 L324.47 62.21 L324.60 62.58Z" fill="#ffffff" opacity="0.85" filter="url(#bl05)"/>
<path d="M324.63 63.50 L324.56 64.42 L324.43 64.78 L324.24 65.04 L324.00 65.25 L323.74 65.43 L323.42 65.59 L323.04 65.71 L322.58 65.82 L322.01 65.90 L321.29 65.95 L320.33 65.97 L318.00 65.99 L315.66 65.98 L314.68 65.96 L313.94 65.93 L313.33 65.86 L312.84 65.76 L312.46 65.63 L312.18 65.46 L311.98 65.26 L311.84 65.03 L311.73 64.75 L311.64 64.39 L311.57 63.50 L311.54 62.60 L311.56 62.22 L311.67 61.93 L311.87 61.71 L312.17 61.54 L312.54 61.40 L312.97 61.29 L313.45 61.20 L314.01 61.12 L314.70 61.05 L315.63 60.99 L318.00 60.96 L320.38 60.97 L321.34 61.02 L322.03 61.09 L322.55 61.20 L322.98 61.31 L323.35 61.44 L323.68 61.59 L323.99 61.75 L324.26 61.95 L324.47 62.21 L324.60 62.58Z" fill="none" stroke="#cfcfcf" stroke-width="0.4" opacity="0.5"/>
<g filter="url(#tex)">
<path d="M341.73 63.00 L341.76 65.64 L341.89 66.88 L342.03 67.99 L342.10 68.97 L342.03 69.77 L341.79 70.33 L341.42 70.65 L340.97 70.80 L340.47 70.88 L339.92 70.97 L339.22 71.11 L337.50 71.26 L335.73 71.33 L335.00 71.27 L334.48 71.02 L334.12 70.60 L333.86 70.09 L333.66 69.56 L333.46 69.05 L333.23 68.54 L332.99 67.96 L332.76 67.19 L332.59 66.04 L332.52 63.00 L332.55 59.93 L332.67 58.73 L332.83 57.86 L333.00 57.16 L333.18 56.54 L333.39 55.98 L333.66 55.51 L334.03 55.19 L334.52 55.08 L335.12 55.15 L335.87 55.34 L337.50 55.53 L339.07 55.60 L339.77 55.51 L340.41 55.29 L341.03 55.06 L341.61 54.98 L342.06 55.21 L342.32 55.78 L342.37 56.68 L342.23 57.79 L342.02 59.01 L341.82 60.32Z" fill="#dedede" opacity="0.8"/>
<path d="M341.73 63.00 L341.76 65.64 L341.89 66.88 L342.03 67.99 L342.10 68.97 L342.03 69.77 L341.79 70.33 L341.42 70.65 L340.97 70.80 L340.47 70.88 L339.92 70.97 L339.22 71.11 L337.50 71.26 L335.73 71.33 L335.00 71.27 L334.48 71.02 L334.12 70.60 L333.86 70.09 L333.66 69.56 L333.46 69.05 L333.23 68.54 L332.99 67.96 L332.76 67.19 L332.59 66.04 L332.52 63.00 L332.55 59.93 L332.67 58.73 L332.83 57.86 L333.00 57.16 L333.18 56.54 L333.39 55.98 L333.66 55.51 L334.03 55.19 L334.52 55.08 L335.12 55.15 L335.87 55.34 L337.50 55.53 L339.07 55.60 L339.77 55.51 L340.41 55.29 L341.03 55.06 L341.61 54.98 L342.06 55.21 L342.32 55.78 L342.37 56.68 L342.23 57.79 L342.02 59.01 L341.82 60.32Z" fill="none" stroke="#b8b8b8" stroke-width="0.45" opacity="0.7"/>
<path d="M340.98 63.00 L340.91 65.12 L340.88 65.99 L340.86 66.69 L340.83 67.32 L340.75 67.86 L340.60 68.29 L340.37 68.60 L340.07 68.78 L339.72 68.89 L339.30 68.96 L338.78 69.03 L337.50 69.11 L336.19 69.17 L335.63 69.18 L335.21 69.09 L334.89 68.88 L334.65 68.55 L334.49 68.14 L334.37 67.68 L334.26 67.20 L334.16 66.68 L334.04 66.06 L333.94 65.21 L333.87 63.00 L333.85 60.74 L333.90 59.82 L334.00 59.15 L334.13 58.63 L334.29 58.20 L334.47 57.82 L334.67 57.47 L334.91 57.18 L335.23 56.97 L335.64 56.86 L336.20 56.86 L337.50 56.96 L338.75 57.11 L339.24 57.26 L339.62 57.37 L339.97 57.44 L340.31 57.52 L340.62 57.66 L340.88 57.94 L341.06 58.38 L341.13 59.00 L341.12 59.79 L341.06 60.79Z" fill="none" stroke="#b8b8b8" stroke-width="0.45" opacity="0.7"/>
<path d="M339.75 63.00 L339.68 64.35 L339.65 64.90 L339.66 65.38 L339.70 65.86 L339.72 66.32 L339.68 66.72 L339.55 66.99 L339.33 67.11 L339.04 67.10 L338.71 67.00 L338.33 66.90 L337.50 66.84 L336.68 66.86 L336.31 66.93 L336.00 66.98 L335.74 66.95 L335.55 66.81 L335.43 66.54 L335.37 66.19 L335.35 65.79 L335.32 65.39 L335.27 64.97 L335.18 64.44 L335.08 63.00 L335.00 61.45 L334.97 60.76 L335.02 60.28 L335.15 59.95 L335.33 59.75 L335.53 59.63 L335.72 59.53 L335.91 59.42 L336.09 59.26 L336.32 59.10 L336.64 58.95 L337.50 58.87 L338.38 58.87 L338.73 58.94 L338.99 59.05 L339.20 59.17 L339.40 59.30 L339.58 59.45 L339.74 59.65 L339.85 59.95 L339.91 60.35 L339.90 60.88 L339.83 61.55Z" fill="none" stroke="#b8b8b8" stroke-width="0.45" opacity="0.7"/>
</g>
<g filter="url(#tex)">
<path d="M339.30 82.15 L338.98 83.43 L338.72 84.17 L338.61 84.82 L338.54 85.45 L338.30 86.08 L337.66 86.66 L336.47 87.13 L334.72 87.45 L332.54 87.62 L330.10 87.67 L327.42 87.70 L323.25 87.83 L319.18 88.03 L316.65 88.20 L314.37 88.35 L312.30 88.41 L310.55 88.30 L309.25 88.01 L308.40 87.57 L307.90 87.04 L307.53 86.47 L307.10 85.87 L306.53 85.18 L305.90 83.90 L305.42 82.53 L305.37 81.69 L305.86 81.00 L306.88 80.45 L308.28 80.04 L309.83 79.72 L311.36 79.43 L312.81 79.13 L314.27 78.78 L315.99 78.39 L318.30 78.01 L322.72 77.61 L327.29 77.36 L329.89 77.35 L331.89 77.48 L333.50 77.69 L334.90 77.94 L336.19 78.20 L337.40 78.49 L338.44 78.87 L339.20 79.37 L339.56 80.01 L339.55 80.81Z" fill="#e4e4e4" opacity="0.7"/>
<path d="M339.30 82.15 L338.98 83.43 L338.72 84.17 L338.61 84.82 L338.54 85.45 L338.30 86.08 L337.66 86.66 L336.47 87.13 L334.72 87.45 L332.54 87.62 L330.10 87.67 L327.42 87.70 L323.25 87.83 L319.18 88.03 L316.65 88.20 L314.37 88.35 L312.30 88.41 L310.55 88.30 L309.25 88.01 L308.40 87.57 L307.90 87.04 L307.53 86.47 L307.10 85.87 L306.53 85.18 L305.90 83.90 L305.42 82.53 L305.37 81.69 L305.86 81.00 L306.88 80.45 L308.28 80.04 L309.83 79.72 L311.36 79.43 L312.81 79.13 L314.27 78.78 L315.99 78.39 L318.30 78.01 L322.72 77.61 L327.29 77.36 L329.89 77.35 L331.89 77.48 L333.50 77.69 L334.90 77.94 L336.19 78.20 L337.40 78.49 L338.44 78.87 L339.20 79.37 L339.56 80.01 L339.55 80.81Z" fill="none" stroke="#c4c4c4" stroke-width="0.45" opacity="0.6"/>
<path d="M336.64 82.28 L336.50 83.36 L336.33 83.99 L336.09 84.52 L335.68 85.00 L335.02 85.42 L334.06 85.76 L332.84 86.02 L331.44 86.21 L329.94 86.36 L328.35 86.52 L326.50 86.72 L323.21 87.02 L319.71 87.33 L317.48 87.53 L315.57 87.61 L313.98 87.56 L312.75 87.36 L311.87 87.05 L311.29 86.66 L310.92 86.23 L310.65 85.77 L310.44 85.27 L310.26 84.68 L310.12 83.67 L310.08 82.66 L310.16 82.05 L310.36 81.53 L310.65 81.05 L311.06 80.60 L311.63 80.16 L312.44 79.76 L313.57 79.42 L315.06 79.16 L316.93 79.00 L319.19 78.95 L322.79 78.91 L326.10 78.93 L327.87 79.01 L329.34 79.07 L330.75 79.09 L332.18 79.09 L333.59 79.15 L334.85 79.29 L335.83 79.57 L336.45 79.98 L336.73 80.52 L336.74 81.18Z" fill="none" stroke="#c4c4c4" stroke-width="0.45" opacity="0.6"/>
<path d="M332.14 82.52 L332.43 83.25 L332.83 83.73 L333.15 84.18 L333.21 84.61 L332.87 84.99 L332.12 85.27 L331.03 85.46 L329.75 85.56 L328.41 85.62 L327.06 85.67 L325.58 85.75 L323.15 85.90 L320.67 86.06 L319.16 86.15 L317.88 86.18 L316.79 86.14 L315.85 86.04 L315.02 85.90 L314.26 85.74 L313.54 85.53 L312.91 85.26 L312.45 84.91 L312.23 84.42 L312.31 83.56 L312.68 82.73 L313.25 82.28 L313.87 81.94 L314.43 81.65 L314.87 81.36 L315.25 81.07 L315.69 80.76 L316.32 80.46 L317.24 80.21 L318.49 80.03 L320.11 79.93 L322.83 79.84 L325.45 79.78 L326.93 79.78 L328.19 79.78 L329.37 79.78 L330.46 79.83 L331.36 79.96 L331.98 80.19 L332.27 80.52 L332.28 80.92 L332.15 81.35 L332.06 81.80Z" fill="none" stroke="#c4c4c4" stroke-width="0.45" opacity="0.6"/>
<path d="M329.42 82.66 L329.60 83.18 L329.71 83.50 L329.65 83.78 L329.40 84.01 L328.99 84.20 L328.46 84.36 L327.90 84.50 L327.31 84.64 L326.68 84.78 L325.92 84.92 L324.93 85.05 L323.11 85.17 L321.30 85.23 L320.33 85.19 L319.61 85.10 L319.04 85.00 L318.52 84.91 L317.97 84.83 L317.39 84.76 L316.82 84.65 L316.35 84.49 L316.07 84.25 L316.00 83.93 L316.11 83.36 L316.32 82.82 L316.55 82.52 L316.73 82.27 L316.87 82.03 L317.03 81.80 L317.29 81.58 L317.75 81.39 L318.43 81.26 L319.27 81.19 L320.22 81.17 L321.27 81.16 L322.90 81.10 L324.52 81.01 L325.55 80.91 L326.52 80.81 L327.44 80.76 L328.22 80.78 L328.79 80.89 L329.10 81.09 L329.21 81.34 L329.20 81.61 L329.19 81.88 L329.26 82.17Z" fill="none" stroke="#c4c4c4" stroke-width="0.45" opacity="0.6"/>
</g>
<rect x="298.30" y="47.40" width="53.90" height="54.10" fill="none" stroke="#6a6a6a" stroke-width="0.65"/>
<line x1="297.10" y1="55.52" x2="298.30" y2="55.52" stroke="#777" stroke-width="0.5"/>
<line x1="297.10" y1="77.16" x2="298.30" y2="77.16" stroke="#777" stroke-width="0.5"/>
<line x1="327.94" y1="101.50" x2="327.94" y2="102.70" stroke="#777" stroke-width="0.5"/>
<line x1="344.12" y1="101.50" x2="344.12" y2="102.70" stroke="#777" stroke-width="0.5"/>
<rect x="309.62" y="100.90" width="3.8" height="1.3" rx="0.6" fill="#1a1a1a"/>
<path d="M297.00 90.14h1.2v1.6h-0.9v1.2h0.9v1.6h-1.2" fill="none" stroke="#222" stroke-width="0.8"/>
<path d="M298.30 75.7H352.20M330.6 47.40V75.7L324.3 101.50" fill="none" stroke="#555" stroke-width="0.8"/>
<text x="301.30" y="53.88" font-size="6.6" text-anchor="start" font-weight="normal" fill="#222">78.6</text>
<text x="349.30" y="53.88" font-size="6.6" text-anchor="end" font-weight="normal" fill="#222">11.4</text>
<text x="301.40" y="98.68" font-size="6.6" text-anchor="start" font-weight="normal" fill="#222">8.22</text>
<text x="349.30" y="98.68" font-size="6.6" text-anchor="end" font-weight="normal" fill="#222">1.75</text>
<g filter="url(#tex)">
<path d="M403.28 75.00 L403.18 81.96 L402.96 84.13 L402.63 85.66 L402.14 86.81 L401.46 87.68 L400.60 88.31 L399.58 88.77 L398.43 89.12 L397.15 89.47 L395.62 89.86 L393.46 90.31 L386.00 90.74 L378.18 91.04 L375.58 91.08 L373.83 90.79 L372.66 90.15 L371.94 89.25 L371.51 88.21 L371.19 87.15 L370.80 86.12 L370.28 85.08 L369.63 83.81 L369.00 81.89 L368.53 75.00 L368.38 67.86 L368.61 65.64 L369.17 64.21 L369.95 63.26 L370.82 62.55 L371.65 61.92 L372.45 61.27 L373.30 60.58 L374.36 59.91 L375.88 59.37 L378.23 59.07 L386.00 59.06 L393.65 59.31 L395.87 59.76 L397.35 60.28 L398.50 60.81 L399.51 61.31 L400.46 61.81 L401.35 62.41 L402.11 63.21 L402.70 64.30 L403.08 65.81 L403.26 68.01Z" fill="#d8e8d4" opacity="0.9"/>
<path d="M403.28 75.00 L403.18 81.96 L402.96 84.13 L402.63 85.66 L402.14 86.81 L401.46 87.68 L400.60 88.31 L399.58 88.77 L398.43 89.12 L397.15 89.47 L395.62 89.86 L393.46 90.31 L386.00 90.74 L378.18 91.04 L375.58 91.08 L373.83 90.79 L372.66 90.15 L371.94 89.25 L371.51 88.21 L371.19 87.15 L370.80 86.12 L370.28 85.08 L369.63 83.81 L369.00 81.89 L368.53 75.00 L368.38 67.86 L368.61 65.64 L369.17 64.21 L369.95 63.26 L370.82 62.55 L371.65 61.92 L372.45 61.27 L373.30 60.58 L374.36 59.91 L375.88 59.37 L378.23 59.07 L386.00 59.06 L393.65 59.31 L395.87 59.76 L397.35 60.28 L398.50 60.81 L399.51 61.31 L400.46 61.81 L401.35 62.41 L402.11 63.21 L402.70 64.30 L403.08 65.81 L403.26 68.01Z" fill="none" stroke="#9fc497" stroke-width="0.5" opacity="0.7"/>
<path d="M400.97 75.00 L401.01 81.08 L401.06 83.11 L401.05 84.65 L400.89 85.90 L400.47 86.86 L399.72 87.51 L398.67 87.85 L397.38 87.92 L395.91 87.86 L394.28 87.78 L392.24 87.81 L386.00 87.97 L379.55 88.24 L377.25 88.52 L375.45 88.68 L374.01 88.62 L372.90 88.28 L372.12 87.65 L371.63 86.78 L371.35 85.72 L371.22 84.47 L371.18 82.98 L371.20 81.00 L371.28 75.00 L371.43 69.09 L371.64 67.27 L371.90 65.97 L372.20 64.90 L372.51 63.94 L372.89 63.05 L373.39 62.22 L374.12 61.50 L375.19 60.97 L376.73 60.69 L379.02 60.68 L386.00 60.90 L392.69 61.27 L394.62 61.70 L395.94 62.10 L397.04 62.46 L398.04 62.79 L398.96 63.18 L399.74 63.73 L400.33 64.51 L400.71 65.57 L400.89 66.98 L400.95 68.94Z" fill="none" stroke="#9fc497" stroke-width="0.5" opacity="0.7"/>
<path d="M398.99 75.00 L398.86 80.21 L398.84 81.91 L398.88 83.25 L398.85 84.40 L398.61 85.34 L398.06 85.99 L397.18 86.33 L396.04 86.40 L394.73 86.32 L393.28 86.23 L391.49 86.26 L386.00 86.46 L380.27 86.76 L378.19 87.06 L376.60 87.19 L375.38 87.06 L374.53 86.63 L374.00 85.94 L373.72 85.07 L373.56 84.10 L373.42 83.06 L373.24 81.87 L373.05 80.25 L372.91 75.00 L372.90 69.69 L373.06 68.03 L373.36 66.90 L373.75 66.03 L374.16 65.29 L374.58 64.59 L375.05 63.90 L375.66 63.25 L376.55 62.74 L377.87 62.45 L379.88 62.44 L386.00 62.68 L391.80 63.10 L393.42 63.55 L394.54 63.92 L395.53 64.18 L396.51 64.34 L397.48 64.54 L398.33 64.89 L398.95 65.52 L399.28 66.49 L399.32 67.83 L399.18 69.66Z" fill="none" stroke="#9fc497" stroke-width="0.5" opacity="0.7"/>
<path d="M397.48 75.00 L397.43 79.63 L397.33 81.10 L397.18 82.17 L396.95 83.02 L396.59 83.68 L396.06 84.17 L395.35 84.48 L394.50 84.65 L393.51 84.75 L392.37 84.84 L390.86 84.97 L386.00 85.16 L380.96 85.35 L379.22 85.47 L377.96 85.43 L377.03 85.19 L376.39 84.74 L375.99 84.13 L375.73 83.42 L375.51 82.68 L375.27 81.88 L374.97 80.94 L374.67 79.59 L374.44 75.00 L374.38 70.29 L374.52 68.82 L374.88 67.87 L375.37 67.22 L375.92 66.73 L376.46 66.30 L376.96 65.84 L377.49 65.34 L378.17 64.84 L379.15 64.42 L380.72 64.18 L386.00 64.15 L391.20 64.34 L392.68 64.68 L393.63 65.10 L394.35 65.51 L394.98 65.90 L395.59 66.26 L396.18 66.65 L396.70 67.17 L397.10 67.89 L397.36 68.88 L397.48 70.35Z" fill="none" stroke="#9fc497" stroke-width="0.5" opacity="0.7"/>
<path d="M394.85 75.00 L394.80 78.57 L394.89 79.79 L395.02 80.78 L395.07 81.64 L394.92 82.32 L394.55 82.79 L393.96 83.07 L393.23 83.21 L392.40 83.30 L391.46 83.43 L390.19 83.60 L386.00 83.80 L381.64 83.94 L380.21 83.94 L379.26 83.74 L378.65 83.35 L378.28 82.83 L378.04 82.26 L377.82 81.71 L377.54 81.19 L377.18 80.65 L376.77 79.97 L376.42 78.88 L376.20 75.00 L376.16 71.01 L376.30 69.78 L376.58 68.96 L376.91 68.35 L377.27 67.84 L377.64 67.38 L378.08 66.97 L378.66 66.66 L379.44 66.49 L380.48 66.48 L381.91 66.60 L386.00 66.79 L389.93 66.94 L391.19 66.99 L392.23 66.92 L393.22 66.80 L394.16 66.73 L394.94 66.84 L395.48 67.23 L395.69 67.90 L395.62 68.83 L395.36 69.96 L395.06 71.33Z" fill="none" stroke="#9fc497" stroke-width="0.5" opacity="0.7"/>
<path d="M393.82 75.00 L393.81 78.16 L393.66 79.13 L393.41 79.75 L393.11 80.21 L392.81 80.59 L392.52 80.94 L392.20 81.29 L391.82 81.61 L391.29 81.86 L390.55 82.02 L389.45 82.08 L386.00 82.06 L382.60 81.98 L381.55 81.87 L380.80 81.74 L380.20 81.59 L379.71 81.38 L379.33 81.08 L379.07 80.69 L378.91 80.19 L378.81 79.61 L378.73 78.91 L378.61 78.00 L378.44 75.00 L378.25 71.86 L378.11 70.75 L378.11 69.94 L378.30 69.37 L378.70 69.01 L379.26 68.86 L379.91 68.83 L380.57 68.84 L381.21 68.78 L381.86 68.61 L382.76 68.35 L386.00 68.04 L389.52 67.79 L390.74 67.69 L391.56 67.79 L392.09 68.08 L392.40 68.51 L392.58 69.00 L392.73 69.48 L392.91 69.94 L393.16 70.41 L393.44 71.00 L393.68 71.89Z" fill="none" stroke="#9fc497" stroke-width="0.5" opacity="0.7"/>
</g>
<g filter="url(#tex)"><path d="M369.5 64 L374 64 L374.2 89.5 L370 89.5 Z" fill="#7fb877" opacity="0.75"/>
<path d="M370 84 Q386 82 402 84 L402 90 Q386 91.5 370 90 Z" fill="#a9d1a1" opacity="0.6"/></g>
<path d="M391.68 75.00 L391.69 77.23 L391.57 78.13 L391.32 78.78 L390.96 79.27 L390.52 79.65 L390.02 79.96 L389.48 80.22 L388.87 80.45 L388.16 80.66 L387.28 80.83 L386.06 80.95 L383.00 81.02 L379.91 81.02 L378.63 80.96 L377.68 80.84 L376.91 80.66 L376.27 80.42 L375.75 80.12 L375.34 79.74 L375.04 79.27 L374.85 78.70 L374.74 78.02 L374.70 77.12 L374.71 75.00 L374.73 72.88 L374.78 72.00 L374.87 71.31 L375.03 70.73 L375.30 70.24 L375.71 69.85 L376.24 69.55 L376.91 69.34 L377.72 69.21 L378.69 69.12 L379.95 69.06 L383.00 69.04 L386.06 69.04 L387.33 69.10 L388.27 69.22 L389.01 69.41 L389.60 69.68 L390.07 70.01 L390.45 70.39 L390.78 70.83 L391.07 71.33 L391.34 71.95 L391.55 72.81Z" fill="#ffffff" opacity="0.75" filter="url(#bl05)"/>
<path d="M391.68 75.00 L391.69 77.23 L391.57 78.13 L391.32 78.78 L390.96 79.27 L390.52 79.65 L390.02 79.96 L389.48 80.22 L388.87 80.45 L388.16 80.66 L387.28 80.83 L386.06 80.95 L383.00 81.02 L379.91 81.02 L378.63 80.96 L377.68 80.84 L376.91 80.66 L376.27 80.42 L375.75 80.12 L375.34 79.74 L375.04 79.27 L374.85 78.70 L374.74 78.02 L374.70 77.12 L374.71 75.00 L374.73 72.88 L374.78 72.00 L374.87 71.31 L375.03 70.73 L375.30 70.24 L375.71 69.85 L376.24 69.55 L376.91 69.34 L377.72 69.21 L378.69 69.12 L379.95 69.06 L383.00 69.04 L386.06 69.04 L387.33 69.10 L388.27 69.22 L389.01 69.41 L389.60 69.68 L390.07 70.01 L390.45 70.39 L390.78 70.83 L391.07 71.33 L391.34 71.95 L391.55 72.81Z" fill="none" stroke="#d6e8d2" stroke-width="0.4" opacity="0.4"/>
<path d="M402.66 68.00 L402.59 71.16 L402.44 72.32 L402.24 73.06 L402.03 73.59 L401.85 74.06 L401.70 74.56 L401.58 75.16 L401.44 75.81 L401.24 76.44 L400.90 76.92 L400.37 77.17 L399.00 77.15 L397.67 76.89 L397.19 76.49 L396.87 76.05 L396.61 75.63 L396.38 75.27 L396.15 74.92 L395.94 74.51 L395.77 73.96 L395.65 73.23 L395.59 72.28 L395.58 71.01 L395.59 68.00 L395.59 64.99 L395.58 63.70 L395.58 62.66 L395.61 61.75 L395.70 60.99 L395.88 60.42 L396.14 60.08 L396.48 59.93 L396.86 59.92 L397.29 59.97 L397.80 59.99 L399.00 59.96 L400.21 59.89 L400.74 59.84 L401.15 59.88 L401.49 60.05 L401.76 60.35 L401.97 60.78 L402.15 61.30 L402.31 61.89 L402.45 62.60 L402.58 63.51 L402.65 64.78Z" fill="none" stroke="#b5d6ae" stroke-width="0.45" opacity="0.6"/>
<path d="M401.20 68.00 L401.09 69.84 L400.97 70.47 L400.86 70.91 L400.80 71.32 L400.76 71.74 L400.72 72.18 L400.66 72.60 L400.54 72.93 L400.36 73.12 L400.10 73.18 L399.77 73.14 L399.00 73.05 L398.26 72.97 L397.95 72.91 L397.71 72.88 L397.49 72.82 L397.31 72.69 L397.17 72.44 L397.08 72.08 L397.04 71.62 L397.02 71.09 L397.02 70.49 L397.01 69.76 L396.98 68.00 L396.95 66.20 L396.93 65.40 L396.95 64.79 L397.00 64.30 L397.08 63.93 L397.20 63.64 L397.34 63.41 L397.50 63.21 L397.68 63.03 L397.91 62.89 L398.22 62.81 L399.00 62.81 L399.76 62.93 L400.04 63.12 L400.23 63.36 L400.38 63.58 L400.53 63.76 L400.69 63.90 L400.87 64.03 L401.04 64.24 L401.18 64.59 L401.26 65.16 L401.26 66.01Z" fill="none" stroke="#b5d6ae" stroke-width="0.45" opacity="0.6"/>
<rect x="361.50" y="47.40" width="54.10" height="54.10" fill="none" stroke="#6a6a6a" stroke-width="0.65"/>
<line x1="360.30" y1="55.52" x2="361.50" y2="55.52" stroke="#777" stroke-width="0.5"/>
<line x1="360.30" y1="77.16" x2="361.50" y2="77.16" stroke="#777" stroke-width="0.5"/>
<line x1="391.25" y1="101.50" x2="391.25" y2="102.70" stroke="#777" stroke-width="0.5"/>
<line x1="407.49" y1="101.50" x2="407.49" y2="102.70" stroke="#777" stroke-width="0.5"/>
<rect x="372.86" y="100.90" width="3.8" height="1.3" rx="0.6" fill="#1a1a1a"/>
<path d="M360.20 90.14h1.2v1.6h-0.9v1.2h0.9v1.6h-1.2" fill="none" stroke="#222" stroke-width="0.8"/>
<path d="M361.50 83.7L415.60 78.4M394.3 47.40V80.4L388.0 101.50" fill="none" stroke="#555" stroke-width="0.8"/>
<text x="362.40" y="53.88" font-size="6.6" text-anchor="start" font-weight="normal" fill="#222">68.9</text>
<text x="412.90" y="53.88" font-size="6.6" text-anchor="end" font-weight="normal" fill="#222">10.3</text>
<text x="362.40" y="98.68" font-size="6.6" text-anchor="start" font-weight="normal" fill="#222">17.8</text>
<text x="412.90" y="98.68" font-size="6.6" text-anchor="end" font-weight="normal" fill="#222">2.98</text>
<g filter="url(#tex)">
<path d="M328.67 159.50 L328.54 161.49 L328.36 162.65 L328.04 163.60 L327.53 164.40 L326.85 165.05 L326.05 165.61 L325.18 166.13 L324.24 166.64 L323.15 167.16 L321.77 167.62 L319.91 167.95 L316.50 168.05 L313.10 167.91 L311.29 167.53 L309.98 167.01 L308.96 166.46 L308.04 165.96 L307.09 165.53 L306.07 165.10 L305.08 164.57 L304.27 163.85 L303.82 162.87 L303.77 161.61 L304.09 159.50 L304.58 157.53 L305.04 156.45 L305.34 155.53 L305.47 154.60 L305.57 153.64 L305.88 152.70 L306.58 151.93 L307.77 151.45 L309.41 151.33 L311.33 151.54 L313.44 151.93 L316.50 152.32 L319.30 152.57 L320.98 152.60 L322.60 152.48 L324.26 152.34 L325.88 152.34 L327.26 152.61 L328.26 153.19 L328.82 154.03 L329.00 155.05 L328.94 156.19 L328.80 157.46Z" fill="#d7d8ef" opacity="0.9"/>
<path d="M328.67 159.50 L328.54 161.49 L328.36 162.65 L328.04 163.60 L327.53 164.40 L326.85 165.05 L326.05 165.61 L325.18 166.13 L324.24 166.64 L323.15 167.16 L321.77 167.62 L319.91 167.95 L316.50 168.05 L313.10 167.91 L311.29 167.53 L309.98 167.01 L308.96 166.46 L308.04 165.96 L307.09 165.53 L306.07 165.10 L305.08 164.57 L304.27 163.85 L303.82 162.87 L303.77 161.61 L304.09 159.50 L304.58 157.53 L305.04 156.45 L305.34 155.53 L305.47 154.60 L305.57 153.64 L305.88 152.70 L306.58 151.93 L307.77 151.45 L309.41 151.33 L311.33 151.54 L313.44 151.93 L316.50 152.32 L319.30 152.57 L320.98 152.60 L322.60 152.48 L324.26 152.34 L325.88 152.34 L327.26 152.61 L328.26 153.19 L328.82 154.03 L329.00 155.05 L328.94 156.19 L328.80 157.46Z" fill="none" stroke="#a3a5d6" stroke-width="0.45" opacity="0.7"/>
<path d="M326.57 159.50 L326.26 161.12 L325.85 161.99 L325.44 162.68 L325.10 163.31 L324.78 163.94 L324.40 164.55 L323.83 165.09 L322.98 165.48 L321.86 165.67 L320.49 165.65 L318.92 165.49 L316.50 165.30 L314.20 165.18 L312.81 165.18 L311.49 165.27 L310.17 165.35 L308.91 165.30 L307.87 165.02 L307.19 164.49 L306.94 163.74 L307.04 162.87 L307.33 161.94 L307.61 160.97 L307.74 159.50 L307.67 158.04 L307.47 157.10 L307.31 156.23 L307.33 155.43 L307.64 154.75 L308.26 154.23 L309.13 153.87 L310.16 153.65 L311.29 153.50 L312.53 153.39 L313.99 153.30 L316.50 153.25 L319.01 153.28 L320.45 153.42 L321.57 153.66 L322.49 153.98 L323.27 154.33 L324.00 154.70 L324.73 155.09 L325.44 155.53 L326.06 156.10 L326.49 156.84 L326.67 157.82Z" fill="none" stroke="#a3a5d6" stroke-width="0.45" opacity="0.7"/>
<path d="M323.23 159.50 L323.53 160.67 L323.78 161.44 L323.81 162.10 L323.53 162.62 L322.95 162.96 L322.16 163.12 L321.30 163.17 L320.50 163.19 L319.79 163.28 L319.10 163.50 L318.24 163.81 L316.50 164.14 L314.53 164.38 L313.29 164.44 L312.34 164.30 L311.67 163.96 L311.26 163.50 L311.01 163.01 L310.81 162.55 L310.59 162.12 L310.29 161.71 L309.97 161.24 L309.67 160.63 L309.47 159.50 L309.39 158.32 L309.45 157.62 L309.61 157.05 L309.85 156.55 L310.17 156.10 L310.60 155.72 L311.17 155.43 L311.89 155.24 L312.74 155.17 L313.71 155.20 L314.79 155.27 L316.50 155.33 L318.19 155.33 L319.25 155.27 L320.23 155.20 L321.16 155.20 L321.97 155.32 L322.57 155.61 L322.91 156.06 L323.00 156.61 L322.96 157.20 L322.93 157.79 L323.01 158.42Z" fill="none" stroke="#a3a5d6" stroke-width="0.45" opacity="0.7"/>
<path d="M321.43 159.50 L321.39 160.31 L321.16 160.74 L320.81 161.03 L320.43 161.24 L320.09 161.43 L319.80 161.61 L319.52 161.81 L319.20 162.00 L318.80 162.14 L318.27 162.23 L317.61 162.25 L316.50 162.21 L315.43 162.16 L314.80 162.11 L314.25 162.09 L313.73 162.06 L313.22 162.00 L312.79 161.88 L312.46 161.67 L312.27 161.38 L312.21 161.03 L312.22 160.64 L312.26 160.20 L312.30 159.50 L312.31 158.81 L312.34 158.39 L312.42 158.05 L312.59 157.76 L312.84 157.54 L313.16 157.36 L313.51 157.22 L313.86 157.07 L314.23 156.89 L314.67 156.69 L315.28 156.49 L316.50 156.36 L317.77 156.35 L318.47 156.47 L318.91 156.72 L319.17 157.04 L319.30 157.36 L319.43 157.63 L319.64 157.82 L319.98 157.96 L320.42 158.11 L320.88 158.33 L321.25 158.71Z" fill="none" stroke="#a3a5d6" stroke-width="0.45" opacity="0.7"/>
</g>
<g filter="url(#tex)">
<path d="M339.17 162.00 L339.10 165.31 L339.04 167.23 L339.00 168.91 L338.93 170.45 L338.80 171.83 L338.59 172.97 L338.29 173.82 L337.92 174.40 L337.49 174.75 L337.02 175.00 L336.46 175.21 L335.50 175.40 L334.51 175.53 L333.92 175.49 L333.44 175.19 L333.04 174.59 L332.73 173.72 L332.50 172.65 L332.32 171.46 L332.17 170.21 L332.02 168.88 L331.87 167.36 L331.75 165.45 L331.67 162.00 L331.66 158.47 L331.72 156.42 L331.85 154.80 L332.03 153.45 L332.24 152.30 L332.48 151.26 L332.75 150.33 L333.07 149.53 L333.46 148.93 L333.93 148.59 L334.52 148.55 L335.50 148.75 L336.44 149.09 L336.97 149.47 L337.41 149.79 L337.83 150.08 L338.23 150.42 L338.61 150.94 L338.93 151.77 L339.17 152.97 L339.29 154.53 L339.30 156.38 L339.25 158.55Z" fill="#d6d7ef" opacity="0.85"/>
<path d="M339.17 162.00 L339.10 165.31 L339.04 167.23 L339.00 168.91 L338.93 170.45 L338.80 171.83 L338.59 172.97 L338.29 173.82 L337.92 174.40 L337.49 174.75 L337.02 175.00 L336.46 175.21 L335.50 175.40 L334.51 175.53 L333.92 175.49 L333.44 175.19 L333.04 174.59 L332.73 173.72 L332.50 172.65 L332.32 171.46 L332.17 170.21 L332.02 168.88 L331.87 167.36 L331.75 165.45 L331.67 162.00 L331.66 158.47 L331.72 156.42 L331.85 154.80 L332.03 153.45 L332.24 152.30 L332.48 151.26 L332.75 150.33 L333.07 149.53 L333.46 148.93 L333.93 148.59 L334.52 148.55 L335.50 148.75 L336.44 149.09 L336.97 149.47 L337.41 149.79 L337.83 150.08 L338.23 150.42 L338.61 150.94 L338.93 151.77 L339.17 152.97 L339.29 154.53 L339.30 156.38 L339.25 158.55Z" fill="none" stroke="#a9abd9" stroke-width="0.45" opacity="0.7"/>
<path d="M338.17 162.00 L338.08 164.37 L338.04 165.75 L338.04 167.01 L338.05 168.29 L338.04 169.55 L337.94 170.66 L337.74 171.48 L337.44 171.91 L337.06 171.98 L336.65 171.82 L336.20 171.61 L335.50 171.49 L334.81 171.52 L334.37 171.64 L333.98 171.69 L333.64 171.53 L333.37 171.05 L333.18 170.26 L333.07 169.25 L333.00 168.15 L332.95 167.04 L332.87 165.89 L332.75 164.53 L332.63 162.00 L332.53 159.27 L332.51 157.59 L332.60 156.27 L332.77 155.28 L333.02 154.61 L333.29 154.14 L333.56 153.76 L333.81 153.36 L334.08 152.90 L334.38 152.42 L334.77 152.02 L335.50 151.81 L336.24 151.81 L336.67 152.02 L337.01 152.37 L337.30 152.77 L337.57 153.22 L337.83 153.73 L338.05 154.39 L338.23 155.28 L338.32 156.43 L338.33 157.82 L338.27 159.46Z" fill="none" stroke="#a9abd9" stroke-width="0.45" opacity="0.7"/>
<path d="M337.44 162.00 L337.43 163.78 L337.37 164.76 L337.28 165.51 L337.17 166.11 L337.06 166.65 L336.97 167.21 L336.86 167.78 L336.74 168.34 L336.56 168.80 L336.33 169.07 L336.02 169.11 L335.50 168.94 L335.02 168.63 L334.77 168.27 L334.57 167.95 L334.39 167.70 L334.21 167.49 L334.02 167.24 L333.86 166.89 L333.73 166.37 L333.64 165.68 L333.59 164.82 L333.57 163.77 L333.58 162.00 L333.59 160.24 L333.61 159.21 L333.65 158.36 L333.73 157.64 L333.84 157.07 L334.00 156.67 L334.18 156.40 L334.37 156.23 L334.57 156.05 L334.78 155.83 L335.03 155.54 L335.50 155.22 L336.01 154.99 L336.33 154.92 L336.58 155.09 L336.77 155.48 L336.90 156.05 L336.99 156.70 L337.06 157.35 L337.14 157.97 L337.22 158.60 L337.32 159.32 L337.40 160.26Z" fill="none" stroke="#a9abd9" stroke-width="0.45" opacity="0.7"/>
</g>
<g filter="url(#tex)">
<path d="M330.57 177.00 L330.37 178.23 L330.20 178.94 L330.01 179.55 L329.68 180.09 L329.10 180.53 L328.24 180.86 L327.14 181.05 L325.90 181.15 L324.60 181.21 L323.26 181.28 L321.73 181.41 L319.00 181.60 L316.02 181.80 L314.07 181.95 L312.39 181.97 L310.99 181.82 L309.95 181.51 L309.27 181.06 L308.89 180.54 L308.69 179.98 L308.57 179.42 L308.47 178.83 L308.37 178.15 L308.30 177.00 L308.28 175.84 L308.35 175.15 L308.49 174.56 L308.70 174.02 L308.98 173.50 L309.41 173.00 L310.06 172.55 L311.01 172.19 L312.31 171.98 L313.96 171.93 L315.94 172.06 L319.00 172.30 L321.74 172.58 L323.16 172.82 L324.35 172.98 L325.54 173.06 L326.81 173.11 L328.10 173.20 L329.27 173.41 L330.16 173.77 L330.69 174.29 L330.86 174.94 L330.77 175.73Z" fill="#d8d9f0" opacity="0.85"/>
<path d="M330.57 177.00 L330.37 178.23 L330.20 178.94 L330.01 179.55 L329.68 180.09 L329.10 180.53 L328.24 180.86 L327.14 181.05 L325.90 181.15 L324.60 181.21 L323.26 181.28 L321.73 181.41 L319.00 181.60 L316.02 181.80 L314.07 181.95 L312.39 181.97 L310.99 181.82 L309.95 181.51 L309.27 181.06 L308.89 180.54 L308.69 179.98 L308.57 179.42 L308.47 178.83 L308.37 178.15 L308.30 177.00 L308.28 175.84 L308.35 175.15 L308.49 174.56 L308.70 174.02 L308.98 173.50 L309.41 173.00 L310.06 172.55 L311.01 172.19 L312.31 171.98 L313.96 171.93 L315.94 172.06 L319.00 172.30 L321.74 172.58 L323.16 172.82 L324.35 172.98 L325.54 173.06 L326.81 173.11 L328.10 173.20 L329.27 173.41 L330.16 173.77 L330.69 174.29 L330.86 174.94 L330.77 175.73Z" fill="none" stroke="#adafdb" stroke-width="0.45" opacity="0.7"/>
<path d="M325.95 177.00 L326.23 177.78 L326.66 178.33 L327.05 178.87 L327.20 179.37 L326.96 179.79 L326.32 180.06 L325.37 180.17 L324.26 180.17 L323.13 180.10 L322.03 180.04 L320.87 180.02 L319.00 180.05 L317.07 180.11 L315.88 180.13 L314.86 180.11 L313.99 180.01 L313.25 179.86 L312.59 179.68 L311.96 179.46 L311.36 179.21 L310.82 178.90 L310.43 178.49 L310.28 177.94 L310.42 177.00 L310.84 176.12 L311.41 175.68 L312.01 175.38 L312.50 175.12 L312.85 174.85 L313.09 174.53 L313.37 174.19 L313.81 173.87 L314.51 173.63 L315.52 173.50 L316.83 173.49 L319.00 173.57 L321.06 173.68 L322.22 173.77 L323.22 173.83 L324.18 173.88 L325.08 173.97 L325.82 174.15 L326.29 174.45 L326.44 174.85 L326.32 175.30 L326.08 175.77 L325.91 176.25Z" fill="none" stroke="#adafdb" stroke-width="0.45" opacity="0.7"/>
<path d="M323.26 177.00 L323.42 177.48 L323.52 177.78 L323.50 178.04 L323.33 178.25 L323.02 178.41 L322.64 178.52 L322.24 178.61 L321.84 178.71 L321.42 178.82 L320.92 178.93 L320.25 179.01 L319.00 179.04 L317.76 179.00 L317.11 178.89 L316.66 178.76 L316.31 178.62 L315.98 178.51 L315.60 178.42 L315.18 178.34 L314.75 178.23 L314.40 178.07 L314.19 177.83 L314.17 177.52 L314.31 177.00 L314.51 176.52 L314.71 176.26 L314.85 176.04 L314.92 175.82 L314.99 175.60 L315.15 175.39 L315.45 175.23 L315.93 175.15 L316.53 175.15 L317.21 175.20 L317.92 175.26 L319.00 175.30 L320.06 175.28 L320.77 175.22 L321.47 175.15 L322.14 175.11 L322.71 175.15 L323.10 175.29 L323.27 175.50 L323.28 175.76 L323.20 176.03 L323.13 176.28 L323.15 176.55Z" fill="none" stroke="#adafdb" stroke-width="0.45" opacity="0.7"/>
</g>
<path d="M345.69 179.72 L345.79 181.01 L345.78 181.98 L345.66 182.86 L345.39 183.68 L344.92 184.41 L344.26 185.03 L343.41 185.52 L342.43 185.88 L341.36 186.14 L340.24 186.35 L339.01 186.55 L337.35 186.78 L335.65 187.00 L334.33 187.13 L333.12 187.15 L332.00 187.03 L331.02 186.74 L330.19 186.30 L329.51 185.73 L328.99 185.06 L328.60 184.31 L328.32 183.48 L328.13 182.54 L328.02 181.27 L328.01 180.00 L328.14 179.07 L328.37 178.25 L328.69 177.50 L329.09 176.79 L329.59 176.13 L330.21 175.50 L330.98 174.94 L331.93 174.48 L333.06 174.13 L334.40 173.92 L336.22 173.81 L337.99 173.82 L339.24 173.95 L340.32 174.14 L341.31 174.36 L342.23 174.64 L343.08 174.99 L343.84 175.44 L344.48 176.01 L344.97 176.71 L345.31 177.51 L345.54 178.44Z" fill="#c0c2e6" opacity="0.85" filter="url(#bl05)"/>
<path d="M345.69 179.72 L345.79 181.01 L345.78 181.98 L345.66 182.86 L345.39 183.68 L344.92 184.41 L344.26 185.03 L343.41 185.52 L342.43 185.88 L341.36 186.14 L340.24 186.35 L339.01 186.55 L337.35 186.78 L335.65 187.00 L334.33 187.13 L333.12 187.15 L332.00 187.03 L331.02 186.74 L330.19 186.30 L329.51 185.73 L328.99 185.06 L328.60 184.31 L328.32 183.48 L328.13 182.54 L328.02 181.27 L328.01 180.00 L328.14 179.07 L328.37 178.25 L328.69 177.50 L329.09 176.79 L329.59 176.13 L330.21 175.50 L330.98 174.94 L331.93 174.48 L333.06 174.13 L334.40 173.92 L336.22 173.81 L337.99 173.82 L339.24 173.95 L340.32 174.14 L341.31 174.36 L342.23 174.64 L343.08 174.99 L343.84 175.44 L344.48 176.01 L344.97 176.71 L345.31 177.51 L345.54 178.44Z" fill="none" stroke="#6466b8" stroke-width="0.6" opacity="0.75"/>
<path d="M344.30 179.84 L344.31 180.93 L344.28 181.73 L344.19 182.47 L344.01 183.17 L343.68 183.81 L343.15 184.35 L342.45 184.78 L341.61 185.09 L340.69 185.31 L339.73 185.48 L338.68 185.66 L337.27 185.87 L335.81 186.08 L334.67 186.21 L333.63 186.23 L332.69 186.09 L331.89 185.80 L331.24 185.38 L330.73 184.86 L330.32 184.29 L329.98 183.67 L329.68 183.00 L329.44 182.23 L329.25 181.16 L329.19 180.07 L329.28 179.26 L329.51 178.56 L329.84 177.93 L330.24 177.35 L330.70 176.80 L331.24 176.28 L331.88 175.80 L332.67 175.39 L333.62 175.08 L334.76 174.91 L336.30 174.83 L337.80 174.87 L338.85 175.01 L339.75 175.17 L340.59 175.34 L341.40 175.53 L342.18 175.78 L342.89 176.12 L343.48 176.60 L343.90 177.20 L344.15 177.92 L344.26 178.75Z" fill="none" stroke="#6466b8" stroke-width="0.6" opacity="0.75"/>
<path d="M343.11 179.95 L343.14 180.86 L343.08 181.53 L342.94 182.14 L342.71 182.68 L342.37 183.18 L341.92 183.61 L341.36 183.96 L340.72 184.24 L340.01 184.47 L339.25 184.66 L338.39 184.84 L337.20 185.03 L335.97 185.18 L335.03 185.24 L334.20 185.20 L333.46 185.05 L332.83 184.78 L332.32 184.43 L331.90 184.02 L331.54 183.57 L331.21 183.10 L330.91 182.57 L330.65 181.95 L330.45 181.06 L330.37 180.14 L330.46 179.46 L330.69 178.87 L331.03 178.36 L331.43 177.92 L331.88 177.51 L332.36 177.13 L332.88 176.75 L333.49 176.40 L334.22 176.10 L335.11 175.88 L336.38 175.74 L337.65 175.71 L338.55 175.81 L339.30 175.98 L339.97 176.19 L340.57 176.43 L341.14 176.69 L341.67 177.00 L342.14 177.38 L342.53 177.84 L342.82 178.39 L343.00 179.04Z" fill="none" stroke="#6466b8" stroke-width="0.6" opacity="0.75"/>
<path d="M341.47 180.09 L341.49 180.77 L341.51 181.27 L341.50 181.75 L341.41 182.20 L341.20 182.62 L340.87 182.97 L340.43 183.26 L339.92 183.48 L339.36 183.66 L338.76 183.83 L338.08 183.99 L337.12 184.15 L336.13 184.27 L335.39 184.29 L334.75 184.20 L334.21 184.02 L333.77 183.77 L333.41 183.48 L333.08 183.17 L332.77 182.85 L332.46 182.51 L332.17 182.12 L331.93 181.65 L331.76 180.94 L331.70 180.21 L331.78 179.67 L331.95 179.21 L332.18 178.79 L332.47 178.42 L332.80 178.07 L333.18 177.76 L333.64 177.48 L334.19 177.28 L334.83 177.14 L335.55 177.07 L336.50 177.03 L337.42 177.01 L338.10 177.01 L338.73 177.01 L339.35 177.03 L339.96 177.09 L340.51 177.25 L340.95 177.52 L341.26 177.89 L341.43 178.35 L341.48 178.86 L341.47 179.40Z" fill="none" stroke="#6466b8" stroke-width="0.6" opacity="0.75"/>
<path d="M340.44 180.18 L340.47 180.71 L340.41 181.09 L340.27 181.43 L340.09 181.72 L339.88 181.98 L339.65 182.23 L339.38 182.46 L339.07 182.67 L338.70 182.85 L338.26 182.99 L337.75 183.09 L337.03 183.15 L336.32 183.18 L335.81 183.16 L335.36 183.11 L334.94 183.02 L334.58 182.90 L334.25 182.73 L333.99 182.52 L333.78 182.27 L333.61 181.98 L333.48 181.66 L333.36 181.31 L333.24 180.81 L333.15 180.29 L333.11 179.89 L333.16 179.53 L333.31 179.21 L333.56 178.94 L333.88 178.73 L334.26 178.57 L334.64 178.44 L335.03 178.32 L335.44 178.18 L335.90 178.03 L336.57 177.87 L337.29 177.75 L337.84 177.71 L338.32 177.75 L338.72 177.88 L339.05 178.07 L339.32 178.29 L339.55 178.52 L339.77 178.77 L339.98 179.02 L340.17 179.32 L340.34 179.67Z" fill="none" stroke="#6466b8" stroke-width="0.6" opacity="0.75"/>
<path d="M339.46 179.70 L339.50 179.96 L339.48 180.23 L339.38 180.49 L339.20 180.75 L338.94 180.99 L338.62 181.21 L338.25 181.39 L337.86 181.54 L337.46 181.68 L337.04 181.80 L336.62 181.90 L336.17 181.98 L335.72 182.03 L335.25 182.04 L334.80 182.00 L334.38 181.91 L334.00 181.78 L333.66 181.62 L333.37 181.44 L333.11 181.24 L332.89 181.03 L332.71 180.80 L332.56 180.56 L332.48 180.31 L332.47 180.04 L332.53 179.78 L332.68 179.51 L332.88 179.27 L333.14 179.03 L333.45 178.82 L333.78 178.63 L334.14 178.45 L334.52 178.30 L334.94 178.17 L335.37 178.06 L335.82 177.99 L336.29 177.95 L336.75 177.96 L337.19 178.01 L337.62 178.09 L338.00 178.22 L338.34 178.38 L338.63 178.56 L338.87 178.77 L339.08 178.98 L339.24 179.21 L339.37 179.45Z" fill="#f5f5fb" opacity="0.9"/>
<path d="M339.46 179.70 L339.50 179.96 L339.48 180.23 L339.38 180.49 L339.20 180.75 L338.94 180.99 L338.62 181.21 L338.25 181.39 L337.86 181.54 L337.46 181.68 L337.04 181.80 L336.62 181.90 L336.17 181.98 L335.72 182.03 L335.25 182.04 L334.80 182.00 L334.38 181.91 L334.00 181.78 L333.66 181.62 L333.37 181.44 L333.11 181.24 L332.89 181.03 L332.71 180.80 L332.56 180.56 L332.48 180.31 L332.47 180.04 L332.53 179.78 L332.68 179.51 L332.88 179.27 L333.14 179.03 L333.45 178.82 L333.78 178.63 L334.14 178.45 L334.52 178.30 L334.94 178.17 L335.37 178.06 L335.82 177.99 L336.29 177.95 L336.75 177.96 L337.19 178.01 L337.62 178.09 L338.00 178.22 L338.34 178.38 L338.63 178.56 L338.87 178.77 L339.08 178.98 L339.24 179.21 L339.37 179.45Z" fill="none" stroke="#8e90cf" stroke-width="0.5" opacity="0.6"/>
<rect x="298.30" y="142.40" width="53.90" height="54.00" fill="none" stroke="#6a6a6a" stroke-width="0.65"/>
<line x1="297.10" y1="150.50" x2="298.30" y2="150.50" stroke="#777" stroke-width="0.5"/>
<line x1="297.10" y1="172.10" x2="298.30" y2="172.10" stroke="#777" stroke-width="0.5"/>
<line x1="327.94" y1="196.40" x2="327.94" y2="197.60" stroke="#777" stroke-width="0.5"/>
<line x1="344.12" y1="196.40" x2="344.12" y2="197.60" stroke="#777" stroke-width="0.5"/>
<rect x="309.62" y="195.80" width="3.8" height="1.3" rx="0.6" fill="#1a1a1a"/>
<path d="M297.00 185.06h1.2v1.6h-0.9v1.2h0.9v1.6h-1.2" fill="none" stroke="#222" stroke-width="0.8"/>
<path d="M298.30 170.7H352.20M330.6 142.40V170.7L324.3 196.40" fill="none" stroke="#555" stroke-width="0.8"/>
<text x="301.30" y="148.88" font-size="6.6" text-anchor="start" font-weight="normal" fill="#222">9.34</text>
<text x="349.30" y="148.88" font-size="6.6" text-anchor="end" font-weight="normal" fill="#222">11.6</text>
<text x="301.40" y="193.68" font-size="6.6" text-anchor="start" font-weight="normal" fill="#222">8.23</text>
<text x="349.30" y="193.68" font-size="6.6" text-anchor="end" font-weight="normal" fill="#222">70.8</text>
<g filter="url(#tex)">
<path d="M402.96 165.00 L402.70 168.58 L402.64 170.73 L402.66 172.67 L402.53 174.50 L401.97 176.09 L400.82 177.28 L399.11 177.96 L397.01 178.16 L394.76 178.06 L392.49 177.94 L390.06 178.01 L386.00 178.36 L381.66 178.90 L378.77 179.40 L376.21 179.60 L374.03 179.30 L372.38 178.46 L371.29 177.19 L370.65 175.66 L370.25 174.05 L369.91 172.41 L369.52 170.68 L369.12 168.62 L368.84 165.00 L368.83 161.32 L369.16 159.20 L369.80 157.54 L370.61 156.16 L371.47 154.91 L372.34 153.68 L373.29 152.44 L374.49 151.25 L376.13 150.28 L378.33 149.71 L381.21 149.66 L386.00 150.09 L390.42 150.84 L392.69 151.67 L394.47 152.37 L396.17 152.85 L397.95 153.19 L399.77 153.59 L401.45 154.27 L402.73 155.39 L403.44 156.97 L403.59 158.94 L403.33 161.28Z" fill="#fae4e4" opacity="0.85"/>
<path d="M402.96 165.00 L402.70 168.58 L402.64 170.73 L402.66 172.67 L402.53 174.50 L401.97 176.09 L400.82 177.28 L399.11 177.96 L397.01 178.16 L394.76 178.06 L392.49 177.94 L390.06 178.01 L386.00 178.36 L381.66 178.90 L378.77 179.40 L376.21 179.60 L374.03 179.30 L372.38 178.46 L371.29 177.19 L370.65 175.66 L370.25 174.05 L369.91 172.41 L369.52 170.68 L369.12 168.62 L368.84 165.00 L368.83 161.32 L369.16 159.20 L369.80 157.54 L370.61 156.16 L371.47 154.91 L372.34 153.68 L373.29 152.44 L374.49 151.25 L376.13 150.28 L378.33 149.71 L381.21 149.66 L386.00 150.09 L390.42 150.84 L392.69 151.67 L394.47 152.37 L396.17 152.85 L397.95 153.19 L399.77 153.59 L401.45 154.27 L402.73 155.39 L403.44 156.97 L403.59 158.94 L403.33 161.28Z" fill="none" stroke="#e79c9c" stroke-width="0.45" opacity="0.75"/>
<path d="M400.84 165.00 L400.72 168.16 L400.50 169.99 L400.18 171.53 L399.69 172.86 L398.94 173.98 L397.88 174.85 L396.55 175.43 L395.02 175.78 L393.36 175.98 L391.60 176.16 L389.56 176.41 L386.00 176.75 L382.23 177.08 L379.85 177.26 L377.85 177.16 L376.22 176.69 L375.02 175.86 L374.20 174.78 L373.64 173.58 L373.18 172.37 L372.67 171.14 L372.07 169.80 L371.47 168.12 L371.02 165.00 L370.90 161.76 L371.22 159.91 L371.93 158.52 L372.91 157.48 L373.99 156.66 L375.02 155.90 L375.98 155.10 L376.97 154.21 L378.16 153.31 L379.76 152.55 L381.97 152.10 L386.00 152.04 L389.94 152.37 L392.02 153.00 L393.54 153.75 L394.78 154.50 L395.92 155.19 L397.06 155.84 L398.19 156.54 L399.21 157.41 L400.03 158.54 L400.56 159.98 L400.81 161.82Z" fill="none" stroke="#e79c9c" stroke-width="0.45" opacity="0.75"/>
<path d="M396.57 165.00 L396.48 167.25 L396.63 168.66 L396.84 169.99 L396.88 171.25 L396.55 172.33 L395.82 173.13 L394.74 173.64 L393.46 173.92 L392.11 174.11 L390.68 174.34 L389.01 174.65 L386.00 174.99 L382.81 175.22 L380.88 175.20 L379.40 174.83 L378.34 174.15 L377.65 173.26 L377.18 172.31 L376.75 171.42 L376.21 170.62 L375.52 169.82 L374.76 168.87 L374.08 167.56 L373.66 165.00 L373.60 162.34 L373.89 160.83 L374.43 159.67 L375.09 158.73 L375.78 157.90 L376.50 157.13 L377.33 156.43 L378.36 155.87 L379.66 155.54 L381.23 155.50 L383.09 155.69 L386.00 156.00 L388.73 156.26 L390.34 156.36 L391.86 156.26 L393.45 156.10 L395.06 156.04 L396.49 156.31 L397.52 157.00 L398.00 158.11 L397.93 159.51 L397.49 161.04 L396.96 162.65Z" fill="none" stroke="#e79c9c" stroke-width="0.45" opacity="0.75"/>
<path d="M395.26 165.00 L395.24 166.98 L394.97 168.09 L394.51 168.92 L393.96 169.57 L393.42 170.15 L392.89 170.71 L392.33 171.26 L391.68 171.78 L390.84 172.21 L389.76 172.49 L388.37 172.60 L386.00 172.56 L383.68 172.43 L382.37 172.24 L381.29 172.02 L380.35 171.75 L379.53 171.40 L378.86 170.91 L378.38 170.29 L378.07 169.55 L377.88 168.74 L377.71 167.85 L377.49 166.82 L377.19 165.00 L376.86 163.04 L376.64 161.78 L376.67 160.70 L377.05 159.86 L377.77 159.29 L378.76 159.00 L379.85 158.92 L380.89 158.90 L381.84 158.79 L382.75 158.52 L383.84 158.08 L386.00 157.59 L388.44 157.20 L389.99 157.05 L391.20 157.24 L392.08 157.74 L392.64 158.44 L392.99 159.21 L393.28 159.94 L393.63 160.62 L394.07 161.28 L394.57 162.05 L395.01 163.07Z" fill="none" stroke="#e79c9c" stroke-width="0.45" opacity="0.75"/>
<path d="M392.45 165.00 L392.43 166.38 L392.26 167.16 L391.96 167.74 L391.58 168.20 L391.17 168.59 L390.75 168.94 L390.32 169.27 L389.83 169.57 L389.24 169.83 L388.51 170.01 L387.58 170.07 L386.00 170.03 L384.47 169.90 L383.62 169.74 L382.93 169.57 L382.29 169.43 L381.65 169.30 L381.02 169.12 L380.44 168.86 L379.97 168.46 L379.68 167.91 L379.60 167.20 L379.71 166.35 L379.95 165.00 L380.24 163.77 L380.51 163.11 L380.73 162.57 L380.89 162.06 L381.03 161.55 L381.23 161.05 L381.52 160.57 L381.96 160.18 L382.57 159.88 L383.34 159.70 L384.32 159.63 L386.00 159.67 L387.62 159.80 L388.51 160.01 L389.17 160.27 L389.70 160.57 L390.15 160.90 L390.55 161.23 L390.93 161.58 L391.31 161.95 L391.70 162.38 L392.05 162.92 L392.31 163.65Z" fill="none" stroke="#e79c9c" stroke-width="0.45" opacity="0.75"/>
</g>
<g filter="url(#tex)">
<path d="M382.54 160.00 L382.68 160.95 L382.65 161.93 L382.44 162.87 L382.04 163.71 L381.52 164.42 L380.93 165.01 L380.31 165.50 L379.69 165.93 L379.05 166.31 L378.39 166.62 L377.71 166.83 L377.00 166.91 L376.29 166.84 L375.61 166.62 L374.95 166.29 L374.33 165.90 L373.72 165.45 L373.12 164.93 L372.55 164.34 L372.05 163.64 L371.64 162.82 L371.38 161.92 L371.29 160.96 L371.35 160.00 L371.54 159.09 L371.81 158.23 L372.13 157.43 L372.48 156.68 L372.86 155.96 L373.28 155.27 L373.76 154.63 L374.30 154.05 L374.90 153.55 L375.56 153.15 L376.26 152.85 L377.00 152.68 L377.76 152.66 L378.51 152.82 L379.22 153.18 L379.84 153.73 L380.36 154.42 L380.77 155.20 L381.10 156.00 L381.38 156.78 L381.67 157.54 L381.97 158.31 L382.28 159.12Z" fill="none" stroke="#e59a9a" stroke-width="0.45" opacity="0.7"/>
<path d="M380.84 160.00 L380.78 160.63 L380.66 161.25 L380.48 161.84 L380.25 162.38 L379.96 162.89 L379.63 163.35 L379.28 163.78 L378.90 164.18 L378.49 164.56 L378.03 164.89 L377.53 165.13 L377.00 165.22 L376.47 165.15 L375.97 164.90 L375.53 164.52 L375.15 164.08 L374.81 163.63 L374.48 163.20 L374.14 162.79 L373.78 162.37 L373.43 161.88 L373.14 161.32 L372.96 160.68 L372.93 160.00 L373.04 159.34 L373.24 158.72 L373.50 158.16 L373.77 157.63 L374.05 157.12 L374.33 156.61 L374.66 156.11 L375.04 155.67 L375.48 155.34 L375.98 155.15 L376.49 155.10 L377.00 155.16 L377.49 155.29 L377.96 155.46 L378.42 155.63 L378.89 155.84 L379.35 156.11 L379.78 156.46 L380.16 156.91 L380.46 157.46 L380.67 158.06 L380.80 158.71 L380.85 159.36Z" fill="none" stroke="#e59a9a" stroke-width="0.45" opacity="0.7"/>
<path d="M379.26 160.00 L379.32 160.39 L379.31 160.79 L379.20 161.16 L379.00 161.47 L378.74 161.69 L378.46 161.85 L378.20 161.98 L377.97 162.13 L377.76 162.33 L377.54 162.56 L377.29 162.80 L377.00 162.97 L376.69 163.04 L376.37 162.98 L376.09 162.80 L375.85 162.54 L375.65 162.24 L375.48 161.94 L375.32 161.64 L375.18 161.34 L375.05 161.03 L374.96 160.70 L374.90 160.35 L374.88 160.00 L374.88 159.65 L374.91 159.29 L374.96 158.93 L375.04 158.56 L375.16 158.20 L375.33 157.88 L375.56 157.62 L375.84 157.45 L376.15 157.37 L376.45 157.36 L376.73 157.38 L377.00 157.40 L377.27 157.39 L377.55 157.39 L377.84 157.41 L378.13 157.50 L378.39 157.69 L378.60 157.96 L378.75 158.29 L378.86 158.63 L378.95 158.97 L379.04 159.30 L379.15 159.64Z" fill="none" stroke="#e59a9a" stroke-width="0.45" opacity="0.7"/>
</g>
<path d="M405.51 180.89 L405.73 181.85 L405.82 182.61 L405.74 183.30 L405.46 183.91 L404.98 184.43 L404.35 184.85 L403.64 185.19 L402.89 185.47 L402.10 185.73 L401.27 185.99 L400.31 186.23 L398.93 186.47 L397.51 186.63 L396.45 186.65 L395.53 186.55 L394.73 186.35 L394.04 186.06 L393.43 185.72 L392.89 185.33 L392.40 184.90 L391.98 184.40 L391.63 183.81 L391.40 183.12 L391.26 182.13 L391.25 181.14 L391.37 180.42 L391.59 179.79 L391.89 179.21 L392.27 178.68 L392.74 178.21 L393.32 177.78 L394.00 177.43 L394.79 177.14 L395.67 176.92 L396.68 176.74 L398.07 176.57 L399.47 176.44 L400.53 176.39 L401.49 176.42 L402.35 176.54 L403.10 176.79 L403.71 177.16 L404.18 177.62 L404.51 178.15 L404.77 178.72 L405.00 179.31 L405.25 179.97Z" fill="#f5b4b4" opacity="0.85" filter="url(#bl05)"/>
<path d="M405.51 180.89 L405.73 181.85 L405.82 182.61 L405.74 183.30 L405.46 183.91 L404.98 184.43 L404.35 184.85 L403.64 185.19 L402.89 185.47 L402.10 185.73 L401.27 185.99 L400.31 186.23 L398.93 186.47 L397.51 186.63 L396.45 186.65 L395.53 186.55 L394.73 186.35 L394.04 186.06 L393.43 185.72 L392.89 185.33 L392.40 184.90 L391.98 184.40 L391.63 183.81 L391.40 183.12 L391.26 182.13 L391.25 181.14 L391.37 180.42 L391.59 179.79 L391.89 179.21 L392.27 178.68 L392.74 178.21 L393.32 177.78 L394.00 177.43 L394.79 177.14 L395.67 176.92 L396.68 176.74 L398.07 176.57 L399.47 176.44 L400.53 176.39 L401.49 176.42 L402.35 176.54 L403.10 176.79 L403.71 177.16 L404.18 177.62 L404.51 178.15 L404.77 178.72 L405.00 179.31 L405.25 179.97Z" fill="none" stroke="#e98c8c" stroke-width="0.6" opacity="0.75"/>
<path d="M404.42 180.98 L404.43 181.79 L404.31 182.38 L404.09 182.89 L403.78 183.33 L403.42 183.73 L403.04 184.10 L402.62 184.45 L402.15 184.80 L401.59 185.13 L400.91 185.42 L400.07 185.63 L398.87 185.77 L397.67 185.80 L396.83 185.70 L396.14 185.52 L395.54 185.31 L395.00 185.08 L394.50 184.83 L394.02 184.56 L393.57 184.25 L393.17 183.87 L392.86 183.40 L392.66 182.83 L392.55 182.02 L392.54 181.21 L392.63 180.61 L392.80 180.08 L393.03 179.61 L393.34 179.17 L393.74 178.78 L394.23 178.44 L394.81 178.16 L395.47 177.95 L396.21 177.78 L397.03 177.65 L398.15 177.53 L399.28 177.43 L400.13 177.41 L400.89 177.44 L401.58 177.54 L402.19 177.72 L402.73 177.98 L403.18 178.30 L403.56 178.68 L403.87 179.12 L404.12 179.61 L404.30 180.18Z" fill="none" stroke="#e98c8c" stroke-width="0.6" opacity="0.75"/>
<path d="M402.94 181.11 L402.96 181.72 L402.94 182.17 L402.87 182.58 L402.73 182.97 L402.51 183.31 L402.21 183.62 L401.82 183.88 L401.37 184.09 L400.86 184.27 L400.30 184.42 L399.67 184.56 L398.78 184.69 L397.87 184.78 L397.19 184.79 L396.61 184.71 L396.12 184.56 L395.72 184.34 L395.39 184.09 L395.11 183.82 L394.83 183.54 L394.54 183.26 L394.23 182.94 L393.95 182.54 L393.72 181.92 L393.62 181.26 L393.68 180.77 L393.89 180.36 L394.21 180.01 L394.60 179.74 L395.01 179.50 L395.41 179.28 L395.81 179.06 L396.23 178.84 L396.73 178.63 L397.33 178.44 L398.22 178.29 L399.13 178.20 L399.81 178.21 L400.39 178.28 L400.90 178.41 L401.36 178.58 L401.76 178.78 L402.12 179.03 L402.40 179.33 L402.62 179.67 L402.78 180.06 L402.87 180.51Z" fill="none" stroke="#e98c8c" stroke-width="0.6" opacity="0.75"/>
<path d="M401.71 181.22 L401.71 181.66 L401.67 181.98 L401.58 182.27 L401.46 182.52 L401.29 182.76 L401.07 182.97 L400.82 183.16 L400.52 183.33 L400.18 183.48 L399.79 183.60 L399.34 183.70 L398.70 183.77 L398.06 183.81 L397.59 183.79 L397.19 183.74 L396.83 183.65 L396.51 183.54 L396.22 183.40 L395.96 183.23 L395.74 183.04 L395.55 182.81 L395.41 182.54 L395.32 182.22 L395.28 181.78 L395.29 181.34 L395.34 181.02 L395.43 180.74 L395.54 180.47 L395.68 180.22 L395.87 179.99 L396.11 179.78 L396.41 179.61 L396.78 179.48 L397.20 179.39 L397.68 179.34 L398.31 179.30 L398.92 179.29 L399.37 179.30 L399.78 179.33 L400.15 179.37 L400.51 179.44 L400.83 179.56 L401.11 179.71 L401.34 179.92 L401.51 180.17 L401.62 180.45 L401.68 180.78Z" fill="none" stroke="#e98c8c" stroke-width="0.6" opacity="0.75"/>
<path d="M400.95 180.74 L400.95 180.95 L400.90 181.16 L400.80 181.37 L400.64 181.57 L400.45 181.76 L400.22 181.95 L399.95 182.12 L399.65 182.28 L399.31 182.41 L398.93 182.51 L398.54 182.57 L398.14 182.60 L397.75 182.60 L397.38 182.57 L397.01 182.53 L396.66 182.47 L396.32 182.40 L395.99 182.31 L395.70 182.18 L395.46 182.03 L395.27 181.86 L395.13 181.67 L395.05 181.47 L395.02 181.26 L395.02 181.05 L395.05 180.84 L395.14 180.63 L395.29 180.42 L395.49 180.22 L395.76 180.05 L396.08 179.90 L396.42 179.78 L396.77 179.68 L397.13 179.59 L397.49 179.51 L397.86 179.44 L398.25 179.38 L398.65 179.36 L399.05 179.37 L399.43 179.43 L399.76 179.53 L400.05 179.66 L400.29 179.82 L400.49 179.99 L400.66 180.16 L400.79 180.35 L400.89 180.54Z" fill="#fbe0e0" opacity="0.9"/>
<path d="M400.95 180.74 L400.95 180.95 L400.90 181.16 L400.80 181.37 L400.64 181.57 L400.45 181.76 L400.22 181.95 L399.95 182.12 L399.65 182.28 L399.31 182.41 L398.93 182.51 L398.54 182.57 L398.14 182.60 L397.75 182.60 L397.38 182.57 L397.01 182.53 L396.66 182.47 L396.32 182.40 L395.99 182.31 L395.70 182.18 L395.46 182.03 L395.27 181.86 L395.13 181.67 L395.05 181.47 L395.02 181.26 L395.02 181.05 L395.05 180.84 L395.14 180.63 L395.29 180.42 L395.49 180.22 L395.76 180.05 L396.08 179.90 L396.42 179.78 L396.77 179.68 L397.13 179.59 L397.49 179.51 L397.86 179.44 L398.25 179.38 L398.65 179.36 L399.05 179.37 L399.43 179.43 L399.76 179.53 L400.05 179.66 L400.29 179.82 L400.49 179.99 L400.66 180.16 L400.79 180.35 L400.89 180.54Z" fill="none" stroke="#f09a9a" stroke-width="0.5" opacity="0.6"/>
<rect x="361.50" y="142.40" width="54.10" height="54.00" fill="none" stroke="#6a6a6a" stroke-width="0.65"/>
<line x1="360.30" y1="150.50" x2="361.50" y2="150.50" stroke="#777" stroke-width="0.5"/>
<line x1="360.30" y1="172.10" x2="361.50" y2="172.10" stroke="#777" stroke-width="0.5"/>
<line x1="391.25" y1="196.40" x2="391.25" y2="197.60" stroke="#777" stroke-width="0.5"/>
<line x1="407.49" y1="196.40" x2="407.49" y2="197.60" stroke="#777" stroke-width="0.5"/>
<rect x="372.86" y="195.80" width="3.8" height="1.3" rx="0.6" fill="#1a1a1a"/>
<path d="M360.20 185.06h1.2v1.6h-0.9v1.2h0.9v1.6h-1.2" fill="none" stroke="#222" stroke-width="0.8"/>
<path d="M361.50 179.1L415.60 173.4M394.3 142.40V175.4L388.0 196.40" fill="none" stroke="#555" stroke-width="0.8"/>
<text x="362.40" y="148.88" font-size="6.6" text-anchor="start" font-weight="normal" fill="#222">14.7</text>
<text x="412.90" y="148.88" font-size="6.6" text-anchor="end" font-weight="normal" fill="#222">11.9</text>
<text x="362.40" y="193.68" font-size="6.6" text-anchor="start" font-weight="normal" fill="#222">12.1</text>
<text x="412.90" y="193.68" font-size="6.6" text-anchor="end" font-weight="normal" fill="#222">61.3</text>
<path d="M292.9 201.2V186.5M292.9 201.2H307.5" fill="none" stroke="#222" stroke-width="0.9"/>
<path d="M292.9 183.8L291.3 187.3L294.5 187.3Z M310.2 201.2L306.7 199.6L306.7 202.8Z" fill="#222"/>
<text transform="translate(288.07,192.10) rotate(-90)" x="0" y="0" font-size="8.8" text-anchor="middle" font-weight="normal" fill="#333" textLength="19.20" lengthAdjust="spacingAndGlyphs" stroke="#333" stroke-width="0.22">CD62L</text>
<text x="302.00" y="211.77" font-size="8.8" text-anchor="middle" font-weight="normal" fill="#333" textLength="16.40" lengthAdjust="spacingAndGlyphs" stroke="#333" stroke-width="0.22">CD44</text>
<rect x="471.00" y="69.41" width="7.70" height="31.19" fill="#a1a3b4" stroke="#9093a6" stroke-width="0.5"/>
<rect x="481.20" y="74.03" width="7.60" height="26.56" fill="#abd99c" stroke="#98cc88" stroke-width="0.5"/>
<rect x="491.20" y="76.34" width="7.30" height="24.25" fill="#8494c6" stroke="#7385ba" stroke-width="0.5"/>
<rect x="500.80" y="75.19" width="7.70" height="25.41" fill="#f08878" stroke="#e67a6a" stroke-width="0.5"/>
<line x1="474.85" y1="69.41" x2="474.85" y2="65.95" stroke="#45454f" stroke-width="0.6"/>
<line x1="473.25" y1="65.95" x2="476.45" y2="65.95" stroke="#45454f" stroke-width="0.6"/>
<path d="M474.85 59.03L476.00 61.10L473.70 61.10Z" fill="#45454f"/>
<path d="M474.85 67.11L476.00 69.18L473.70 69.18Z" fill="#45454f"/>
<path d="M473.35 71.73L474.50 73.80L472.20 73.80Z" fill="#45454f"/>
<path d="M476.35 70.57L477.50 72.64L475.20 72.64Z" fill="#45454f"/>
<path d="M474.85 78.66L476.00 80.73L473.70 80.73Z" fill="#45454f"/>
<line x1="485.00" y1="74.03" x2="485.00" y2="70.57" stroke="#3a8332" stroke-width="0.6"/>
<line x1="483.40" y1="70.57" x2="486.60" y2="70.57" stroke="#3a8332" stroke-width="0.6"/>
<path d="M485.00 62.48L486.15 60.41L483.85 60.41Z" fill="#3a8332"/>
<path d="M486.50 70.56L487.65 68.49L485.35 68.49Z" fill="#3a8332"/>
<path d="M483.50 74.03L484.65 71.96L482.35 71.96Z" fill="#3a8332"/>
<path d="M485.00 78.65L486.15 76.58L483.85 76.58Z" fill="#3a8332"/>
<path d="M485.00 85.58L486.15 83.51L483.85 83.51Z" fill="#3a8332"/>
<line x1="494.85" y1="76.34" x2="494.85" y2="74.50" stroke="#1a3673" stroke-width="0.6"/>
<line x1="493.25" y1="74.50" x2="496.45" y2="74.50" stroke="#1a3673" stroke-width="0.6"/>
<rect x="492.37" y="73.52" width="1.95" height="1.95" fill="#1a3673"/>
<rect x="495.37" y="74.21" width="1.95" height="1.95" fill="#1a3673"/>
<rect x="493.87" y="76.52" width="1.95" height="1.95" fill="#1a3673"/>
<line x1="504.65" y1="75.19" x2="504.65" y2="72.42" stroke="#c0102a" stroke-width="0.6"/>
<line x1="503.05" y1="72.42" x2="506.25" y2="72.42" stroke="#c0102a" stroke-width="0.6"/>
<circle cx="504.65" cy="65.95" r="1.09" fill="#c0102a"/>
<circle cx="502.65" cy="71.72" r="1.09" fill="#c0102a"/>
<circle cx="506.65" cy="71.72" r="1.09" fill="#c0102a"/>
<circle cx="503.65" cy="75.19" r="1.09" fill="#c0102a"/>
<circle cx="505.65" cy="76.34" r="1.09" fill="#c0102a"/>
<circle cx="504.65" cy="79.81" r="1.09" fill="#c0102a"/>
<line x1="466.20" y1="53.90" x2="466.20" y2="100.60" stroke="#222" stroke-width="1.2"/>
<line x1="463.30" y1="100.60" x2="512.30" y2="100.60" stroke="#222" stroke-width="1.3"/>
<line x1="463.40" y1="100.60" x2="466.20" y2="100.60" stroke="#222" stroke-width="0.7"/>
<text x="460.60" y="102.98" font-size="6.6" text-anchor="end" font-weight="normal" fill="#333" stroke="#333" stroke-width="0.05">0</text>
<line x1="463.40" y1="89.05" x2="466.20" y2="89.05" stroke="#222" stroke-width="0.7"/>
<text x="460.60" y="91.43" font-size="6.6" text-anchor="end" font-weight="normal" fill="#333" stroke="#333" stroke-width="0.05">5</text>
<line x1="463.40" y1="77.50" x2="466.20" y2="77.50" stroke="#222" stroke-width="0.7"/>
<text x="460.60" y="79.88" font-size="6.6" text-anchor="end" font-weight="normal" fill="#333" stroke="#333" stroke-width="0.05">10</text>
<line x1="463.40" y1="65.95" x2="466.20" y2="65.95" stroke="#222" stroke-width="0.7"/>
<text x="460.60" y="68.33" font-size="6.6" text-anchor="end" font-weight="normal" fill="#333" stroke="#333" stroke-width="0.05">15</text>
<line x1="463.40" y1="54.40" x2="466.20" y2="54.40" stroke="#222" stroke-width="0.7"/>
<text x="460.60" y="56.78" font-size="6.6" text-anchor="end" font-weight="normal" fill="#333" stroke="#333" stroke-width="0.05">20</text>
<text transform="translate(435.38,76.30) rotate(-90)" x="0" y="0" font-size="8.0" text-anchor="middle" font-weight="normal" fill="#333" textLength="25.30" lengthAdjust="spacingAndGlyphs" stroke="#333" stroke-width="0.12">% of Tcm</text>
<text transform="translate(444.18,76.20) rotate(-90)" x="0" y="0" font-size="8.0" text-anchor="middle" font-weight="normal" fill="#333" textLength="35.30" lengthAdjust="spacingAndGlyphs" stroke="#333" stroke-width="0.12">in CD8 T cell</text>
<rect x="471.00" y="193.98" width="6.70" height="2.32" fill="#a1a3b4" stroke="#9093a6" stroke-width="0.5"/>
<rect x="481.50" y="188.40" width="7.30" height="7.91" fill="#abd99c" stroke="#98cc88" stroke-width="0.5"/>
<rect x="491.20" y="159.10" width="7.60" height="37.20" fill="#8494c6" stroke="#7385ba" stroke-width="0.5"/>
<rect x="500.80" y="160.96" width="7.70" height="35.34" fill="#f08878" stroke="#e67a6a" stroke-width="0.5"/>
<line x1="474.35" y1="193.98" x2="474.35" y2="193.05" stroke="#45454f" stroke-width="0.6"/>
<line x1="472.75" y1="193.05" x2="475.95" y2="193.05" stroke="#45454f" stroke-width="0.6"/>
<path d="M474.35 189.11L475.50 191.18L473.20 191.18Z" fill="#45454f"/>
<path d="M474.35 191.90L475.50 193.97L473.20 193.97Z" fill="#45454f"/>
<path d="M472.85 192.83L474.00 194.90L471.70 194.90Z" fill="#45454f"/>
<path d="M475.85 193.29L477.00 195.36L474.70 195.36Z" fill="#45454f"/>
<path d="M474.35 194.22L475.50 196.29L473.20 196.29Z" fill="#45454f"/>
<line x1="485.15" y1="188.40" x2="485.15" y2="187.00" stroke="#3a8332" stroke-width="0.6"/>
<line x1="483.55" y1="187.00" x2="486.75" y2="187.00" stroke="#3a8332" stroke-width="0.6"/>
<path d="M485.15 184.43L486.30 182.36L484.00 182.36Z" fill="#3a8332"/>
<path d="M486.65 188.15L487.80 186.08L485.50 186.08Z" fill="#3a8332"/>
<path d="M483.65 189.08L484.80 187.01L482.50 187.01Z" fill="#3a8332"/>
<path d="M485.15 190.94L486.30 188.87L484.00 188.87Z" fill="#3a8332"/>
<path d="M486.15 192.80L487.30 190.73L485.00 190.73Z" fill="#3a8332"/>
<line x1="495.00" y1="159.10" x2="495.00" y2="158.73" stroke="#1a3673" stroke-width="0.6"/>
<line x1="493.40" y1="158.73" x2="496.60" y2="158.73" stroke="#1a3673" stroke-width="0.6"/>
<rect x="492.02" y="157.89" width="1.95" height="1.95" fill="#1a3673"/>
<rect x="494.02" y="157.66" width="1.95" height="1.95" fill="#1a3673"/>
<rect x="496.02" y="157.43" width="1.95" height="1.95" fill="#1a3673"/>
<line x1="504.65" y1="160.96" x2="504.65" y2="160.03" stroke="#c0102a" stroke-width="0.6"/>
<line x1="503.05" y1="160.03" x2="506.25" y2="160.03" stroke="#c0102a" stroke-width="0.6"/>
<circle cx="502.65" cy="160.03" r="1.09" fill="#c0102a"/>
<circle cx="504.65" cy="159.10" r="1.09" fill="#c0102a"/>
<circle cx="506.65" cy="160.50" r="1.09" fill="#c0102a"/>
<circle cx="503.65" cy="161.89" r="1.09" fill="#c0102a"/>
<circle cx="505.65" cy="162.82" r="1.09" fill="#c0102a"/>
<circle cx="504.65" cy="164.68" r="1.09" fill="#c0102a"/>
<line x1="465.40" y1="149.30" x2="465.40" y2="196.30" stroke="#222" stroke-width="1.2"/>
<line x1="463.30" y1="196.30" x2="513.30" y2="196.30" stroke="#222" stroke-width="1.3"/>
<line x1="462.60" y1="196.30" x2="465.40" y2="196.30" stroke="#222" stroke-width="0.7"/>
<text x="461.20" y="198.68" font-size="6.6" text-anchor="end" font-weight="normal" fill="#333" stroke="#333" stroke-width="0.05">0</text>
<line x1="462.60" y1="187.00" x2="465.40" y2="187.00" stroke="#222" stroke-width="0.7"/>
<text x="461.20" y="189.38" font-size="6.6" text-anchor="end" font-weight="normal" fill="#333" stroke="#333" stroke-width="0.05">20</text>
<line x1="462.60" y1="177.70" x2="465.40" y2="177.70" stroke="#222" stroke-width="0.7"/>
<text x="461.20" y="180.08" font-size="6.6" text-anchor="end" font-weight="normal" fill="#333" stroke="#333" stroke-width="0.05">40</text>
<line x1="462.60" y1="168.40" x2="465.40" y2="168.40" stroke="#222" stroke-width="0.7"/>
<text x="461.20" y="170.78" font-size="6.6" text-anchor="end" font-weight="normal" fill="#333" stroke="#333" stroke-width="0.05">60</text>
<line x1="462.60" y1="159.10" x2="465.40" y2="159.10" stroke="#222" stroke-width="0.7"/>
<text x="461.20" y="161.48" font-size="6.6" text-anchor="end" font-weight="normal" fill="#333" stroke="#333" stroke-width="0.05">80</text>
<line x1="462.60" y1="149.80" x2="465.40" y2="149.80" stroke="#222" stroke-width="0.7"/>
<text x="461.20" y="152.18" font-size="6.6" text-anchor="end" font-weight="normal" fill="#333" stroke="#333" stroke-width="0.05">100</text>
<path d="M471.00 142.00V133.50H499.80V138.30M495.00 141.00V138.30H504.60V141.00" fill="none" stroke="#555" stroke-width="0.6"/>
<circle cx="482.22" cy="129.60" r="0.89" fill="#2a2a2a"/>
<circle cx="484.94" cy="129.60" r="0.89" fill="#2a2a2a"/>
<circle cx="487.66" cy="129.60" r="0.89" fill="#2a2a2a"/>
<circle cx="490.38" cy="129.60" r="0.89" fill="#2a2a2a"/>
<path d="M484.00 152.70V147.90H499.80V150.80M495.00 153.50V150.80H504.60V153.50" fill="none" stroke="#555" stroke-width="0.6"/>
<circle cx="487.12" cy="144.60" r="0.89" fill="#2a2a2a"/>
<circle cx="489.84" cy="144.60" r="0.89" fill="#2a2a2a"/>
<circle cx="492.56" cy="144.60" r="0.89" fill="#2a2a2a"/>
<circle cx="495.28" cy="144.60" r="0.89" fill="#2a2a2a"/>
<text transform="translate(435.08,171.50) rotate(-90)" x="0" y="0" font-size="8.0" text-anchor="middle" font-weight="normal" fill="#333" textLength="28.50" lengthAdjust="spacingAndGlyphs" stroke="#333" stroke-width="0.12">% Tem/eff</text>
<text transform="translate(444.28,171.50) rotate(-90)" x="0" y="0" font-size="8.0" text-anchor="middle" font-weight="normal" fill="#333" textLength="35.90" lengthAdjust="spacingAndGlyphs" stroke="#333" stroke-width="0.12">in CD8 T cell</text>
<text x="71.00" y="263.74" font-size="9" text-anchor="middle" font-weight="normal" fill="#333">Blood</text>
<rect x="49.70" y="354.02" width="8.80" height="1.28" fill="#a1a3b4" stroke="#9093a6" stroke-width="0.5"/>
<rect x="61.30" y="354.66" width="8.90" height="0.64" fill="#abd99c" stroke="#98cc88" stroke-width="0.5"/>
<rect x="72.20" y="327.01" width="8.40" height="28.29" fill="#8494c6" stroke="#7385ba" stroke-width="0.5"/>
<rect x="83.70" y="331.11" width="8.30" height="24.19" fill="#f08878" stroke="#e67a6a" stroke-width="0.5"/>
<line x1="54.10" y1="354.02" x2="54.10" y2="351.33" stroke="#45454f" stroke-width="0.6"/>
<line x1="52.50" y1="351.33" x2="55.70" y2="351.33" stroke="#45454f" stroke-width="0.6"/>
<path d="M54.10 343.40L55.25 345.47L52.95 345.47Z" fill="#45454f"/>
<path d="M52.10 353.51L53.25 355.58L50.95 355.58Z" fill="#45454f"/>
<path d="M54.10 353.77L55.25 355.84L52.95 355.84Z" fill="#45454f"/>
<path d="M56.10 353.51L57.25 355.58L54.95 355.58Z" fill="#45454f"/>
<line x1="65.75" y1="354.66" x2="65.75" y2="354.53" stroke="#3a8332" stroke-width="0.6"/>
<line x1="64.15" y1="354.53" x2="67.35" y2="354.53" stroke="#3a8332" stroke-width="0.6"/>
<path d="M64.25 355.94L65.40 353.87L63.10 353.87Z" fill="#3a8332"/>
<path d="M67.25 355.81L68.40 353.74L66.10 353.74Z" fill="#3a8332"/>
<path d="M65.75 355.68L66.90 353.61L64.60 353.61Z" fill="#3a8332"/>
<line x1="76.40" y1="327.01" x2="76.40" y2="321.76" stroke="#1a3673" stroke-width="0.6"/>
<line x1="74.80" y1="321.76" x2="78.00" y2="321.76" stroke="#1a3673" stroke-width="0.6"/>
<rect x="75.42" y="316.69" width="1.95" height="1.95" fill="#1a3673"/>
<rect x="75.42" y="327.06" width="1.95" height="1.95" fill="#1a3673"/>
<rect x="75.42" y="332.56" width="1.95" height="1.95" fill="#1a3673"/>
<line x1="87.85" y1="331.11" x2="87.85" y2="329.19" stroke="#c0102a" stroke-width="0.6"/>
<line x1="86.25" y1="329.19" x2="89.45" y2="329.19" stroke="#c0102a" stroke-width="0.6"/>
<circle cx="85.85" cy="325.48" r="1.09" fill="#c0102a"/>
<circle cx="89.85" cy="327.40" r="1.09" fill="#c0102a"/>
<circle cx="85.85" cy="331.62" r="1.09" fill="#c0102a"/>
<circle cx="89.85" cy="331.62" r="1.09" fill="#c0102a"/>
<circle cx="87.85" cy="334.18" r="1.09" fill="#c0102a"/>
<circle cx="85.85" cy="337.76" r="1.09" fill="#c0102a"/>
<circle cx="89.85" cy="337.76" r="1.09" fill="#c0102a"/>
<line x1="44.80" y1="303.60" x2="44.80" y2="355.30" stroke="#222" stroke-width="1.2"/>
<line x1="42.30" y1="355.30" x2="97.30" y2="355.30" stroke="#222" stroke-width="1.3"/>
<line x1="42.00" y1="355.30" x2="44.80" y2="355.30" stroke="#222" stroke-width="0.7"/>
<text x="39.20" y="357.68" font-size="6.6" text-anchor="end" font-weight="normal" fill="#333" stroke="#333" stroke-width="0.05">0</text>
<line x1="42.00" y1="342.50" x2="44.80" y2="342.50" stroke="#222" stroke-width="0.7"/>
<text x="39.20" y="344.88" font-size="6.6" text-anchor="end" font-weight="normal" fill="#333" stroke="#333" stroke-width="0.05">10</text>
<line x1="42.00" y1="329.70" x2="44.80" y2="329.70" stroke="#222" stroke-width="0.7"/>
<text x="39.20" y="332.08" font-size="6.6" text-anchor="end" font-weight="normal" fill="#333" stroke="#333" stroke-width="0.05">20</text>
<line x1="42.00" y1="316.90" x2="44.80" y2="316.90" stroke="#222" stroke-width="0.7"/>
<text x="39.20" y="319.28" font-size="6.6" text-anchor="end" font-weight="normal" fill="#333" stroke="#333" stroke-width="0.05">30</text>
<line x1="42.00" y1="304.10" x2="44.80" y2="304.10" stroke="#222" stroke-width="0.7"/>
<text x="39.20" y="306.48" font-size="6.6" text-anchor="end" font-weight="normal" fill="#333" stroke="#333" stroke-width="0.05">40</text>
<path d="M52.30 298.70V287.60H82.40V293.40M76.70 296.80V293.40H87.40V296.80" fill="none" stroke="#555" stroke-width="0.6"/>
<circle cx="61.59" cy="283.90" r="1.14" fill="#2a2a2a"/>
<circle cx="65.46" cy="283.90" r="1.14" fill="#2a2a2a"/>
<circle cx="69.34" cy="283.90" r="1.14" fill="#2a2a2a"/>
<circle cx="73.21" cy="283.90" r="1.14" fill="#2a2a2a"/>
<path d="M65.30 313.00V305.40H82.40V309.30M76.70 313.00V309.30H87.40V313.00" fill="none" stroke="#555" stroke-width="0.6"/>
<circle cx="68.19" cy="301.30" r="1.14" fill="#2a2a2a"/>
<circle cx="72.06" cy="301.30" r="1.14" fill="#2a2a2a"/>
<circle cx="75.94" cy="301.30" r="1.14" fill="#2a2a2a"/>
<circle cx="79.81" cy="301.30" r="1.14" fill="#2a2a2a"/>
<text transform="translate(16.88,329.40) rotate(-90)" x="0" y="0" font-size="8.0" text-anchor="middle" font-weight="normal" fill="#333" textLength="60.30" lengthAdjust="spacingAndGlyphs" stroke="#333" stroke-width="0.12">% of DNAM-1<tspan font-size="5" dy="-2.5">+</tspan><tspan dy="2.5">TIGIT</tspan><tspan font-size="5" dy="-2.5">+</tspan></text>
<text transform="translate(26.48,328.20) rotate(-90)" x="0" y="0" font-size="8.0" text-anchor="middle" font-weight="normal" fill="#333" textLength="35.50" lengthAdjust="spacingAndGlyphs" stroke="#333" stroke-width="0.12">in CD8 T cell</text>
<text x="177.00" y="264.24" font-size="9" text-anchor="middle" font-weight="normal" fill="#333">Blood</text>
<rect x="154.80" y="350.36" width="9.10" height="5.14" fill="#a1a3b4" stroke="#9093a6" stroke-width="0.5"/>
<rect x="166.00" y="349.07" width="9.20" height="6.43" fill="#abd99c" stroke="#98cc88" stroke-width="0.5"/>
<rect x="177.70" y="313.74" width="8.50" height="41.76" fill="#8494c6" stroke="#7385ba" stroke-width="0.5"/>
<rect x="188.90" y="313.74" width="8.50" height="41.76" fill="#f08878" stroke="#e67a6a" stroke-width="0.5"/>
<line x1="159.35" y1="350.36" x2="159.35" y2="350.04" stroke="#45454f" stroke-width="0.6"/>
<line x1="157.75" y1="350.04" x2="160.95" y2="350.04" stroke="#45454f" stroke-width="0.6"/>
<path d="M157.85 348.89L159.00 350.96L156.70 350.96Z" fill="#45454f"/>
<path d="M159.35 349.21L160.50 351.28L158.20 351.28Z" fill="#45454f"/>
<path d="M160.85 348.89L162.00 350.96L159.70 350.96Z" fill="#45454f"/>
<line x1="170.60" y1="349.07" x2="170.60" y2="348.56" stroke="#3a8332" stroke-width="0.6"/>
<line x1="169.00" y1="348.56" x2="172.20" y2="348.56" stroke="#3a8332" stroke-width="0.6"/>
<path d="M169.10 349.90L170.25 347.83L167.95 347.83Z" fill="#3a8332"/>
<path d="M170.60 349.58L171.75 347.51L169.45 347.51Z" fill="#3a8332"/>
<path d="M172.10 350.22L173.25 348.15L170.95 348.15Z" fill="#3a8332"/>
<line x1="181.95" y1="313.74" x2="181.95" y2="312.45" stroke="#1a3673" stroke-width="0.6"/>
<line x1="180.35" y1="312.45" x2="183.55" y2="312.45" stroke="#1a3673" stroke-width="0.6"/>
<rect x="179.47" y="311.47" width="1.95" height="1.95" fill="#1a3673"/>
<rect x="180.97" y="313.40" width="1.95" height="1.95" fill="#1a3673"/>
<rect x="182.47" y="312.12" width="1.95" height="1.95" fill="#1a3673"/>
<line x1="193.15" y1="313.74" x2="193.15" y2="310.53" stroke="#c0102a" stroke-width="0.6"/>
<line x1="191.55" y1="310.53" x2="194.75" y2="310.53" stroke="#c0102a" stroke-width="0.6"/>
<circle cx="193.15" cy="308.60" r="1.09" fill="#c0102a"/>
<circle cx="191.65" cy="314.38" r="1.09" fill="#c0102a"/>
<circle cx="194.65" cy="315.67" r="1.09" fill="#c0102a"/>
<line x1="150.20" y1="303.60" x2="150.20" y2="355.50" stroke="#222" stroke-width="1.2"/>
<line x1="148.00" y1="355.50" x2="203.00" y2="355.50" stroke="#222" stroke-width="1.3"/>
<line x1="147.40" y1="355.50" x2="150.20" y2="355.50" stroke="#222" stroke-width="0.7"/>
<text x="144.60" y="357.88" font-size="6.6" text-anchor="end" font-weight="normal" fill="#333" stroke="#333" stroke-width="0.05">0</text>
<line x1="147.40" y1="342.65" x2="150.20" y2="342.65" stroke="#222" stroke-width="0.7"/>
<text x="144.60" y="345.03" font-size="6.6" text-anchor="end" font-weight="normal" fill="#333" stroke="#333" stroke-width="0.05">20</text>
<line x1="147.40" y1="329.80" x2="150.20" y2="329.80" stroke="#222" stroke-width="0.7"/>
<text x="144.60" y="332.18" font-size="6.6" text-anchor="end" font-weight="normal" fill="#333" stroke="#333" stroke-width="0.05">40</text>
<line x1="147.40" y1="316.95" x2="150.20" y2="316.95" stroke="#222" stroke-width="0.7"/>
<text x="144.60" y="319.33" font-size="6.6" text-anchor="end" font-weight="normal" fill="#333" stroke="#333" stroke-width="0.05">60</text>
<line x1="147.40" y1="304.10" x2="150.20" y2="304.10" stroke="#222" stroke-width="0.7"/>
<text x="144.60" y="306.48" font-size="6.6" text-anchor="end" font-weight="normal" fill="#333" stroke="#333" stroke-width="0.05">80</text>
<path d="M157.50 290.60V280.00H187.50V285.50M182.00 288.70V285.50H192.50V288.70" fill="none" stroke="#555" stroke-width="0.6"/>
<circle cx="166.59" cy="275.90" r="1.14" fill="#2a2a2a"/>
<circle cx="170.46" cy="275.90" r="1.14" fill="#2a2a2a"/>
<circle cx="174.34" cy="275.90" r="1.14" fill="#2a2a2a"/>
<circle cx="178.21" cy="275.90" r="1.14" fill="#2a2a2a"/>
<path d="M170.50 304.50V297.30H187.50V301.20M182.00 304.50V301.20H192.50V304.50" fill="none" stroke="#555" stroke-width="0.6"/>
<circle cx="173.39" cy="293.10" r="1.14" fill="#2a2a2a"/>
<circle cx="177.26" cy="293.10" r="1.14" fill="#2a2a2a"/>
<circle cx="181.14" cy="293.10" r="1.14" fill="#2a2a2a"/>
<circle cx="185.01" cy="293.10" r="1.14" fill="#2a2a2a"/>
<text transform="translate(122.38,330.00) rotate(-90)" x="0" y="0" font-size="8.0" text-anchor="middle" font-weight="normal" fill="#333" textLength="56.40" lengthAdjust="spacingAndGlyphs" stroke="#333" stroke-width="0.12">% of CD38<tspan font-size="5" dy="-2.5">+</tspan><tspan dy="2.5">CD101</tspan><tspan font-size="5" dy="-2.5">–</tspan></text>
<text transform="translate(132.68,326.70) rotate(-90)" x="0" y="0" font-size="8.0" text-anchor="middle" font-weight="normal" fill="#333" textLength="28.60" lengthAdjust="spacingAndGlyphs" stroke="#333" stroke-width="0.12">CD8 T cell</text>
<text x="70.70" y="375.64" font-size="9" text-anchor="middle" font-weight="normal" fill="#333" textLength="25.60" lengthAdjust="spacingAndGlyphs">Spleen</text>
<rect x="49.90" y="456.17" width="9.50" height="0.63" fill="#a1a3b4" stroke="#9093a6" stroke-width="0.5"/>
<rect x="60.80" y="455.54" width="9.50" height="1.26" fill="#abd99c" stroke="#98cc88" stroke-width="0.5"/>
<rect x="72.60" y="422.71" width="7.90" height="34.09" fill="#8494c6" stroke="#7385ba" stroke-width="0.5"/>
<rect x="82.80" y="425.87" width="9.00" height="30.93" fill="#f08878" stroke="#e67a6a" stroke-width="0.5"/>
<line x1="54.65" y1="456.17" x2="54.65" y2="456.04" stroke="#45454f" stroke-width="0.6"/>
<line x1="53.05" y1="456.04" x2="56.25" y2="456.04" stroke="#45454f" stroke-width="0.6"/>
<path d="M53.15 454.89L54.30 456.96L52.00 456.96Z" fill="#45454f"/>
<path d="M54.65 454.64L55.80 456.71L53.50 456.71Z" fill="#45454f"/>
<path d="M56.15 455.02L57.30 457.09L55.00 457.09Z" fill="#45454f"/>
<line x1="65.55" y1="455.54" x2="65.55" y2="455.16" stroke="#3a8332" stroke-width="0.6"/>
<line x1="63.95" y1="455.16" x2="67.15" y2="455.16" stroke="#3a8332" stroke-width="0.6"/>
<path d="M64.05 456.44L65.20 454.37L62.90 454.37Z" fill="#3a8332"/>
<path d="M65.55 456.06L66.70 453.99L64.40 453.99Z" fill="#3a8332"/>
<path d="M67.05 456.81L68.20 454.74L65.90 454.74Z" fill="#3a8332"/>
<path d="M65.55 457.19L66.70 455.12L64.40 455.12Z" fill="#3a8332"/>
<line x1="76.55" y1="422.71" x2="76.55" y2="421.96" stroke="#1a3673" stroke-width="0.6"/>
<line x1="74.95" y1="421.96" x2="78.15" y2="421.96" stroke="#1a3673" stroke-width="0.6"/>
<rect x="74.07" y="421.10" width="1.95" height="1.95" fill="#1a3673"/>
<rect x="75.57" y="420.47" width="1.95" height="1.95" fill="#1a3673"/>
<rect x="77.07" y="421.74" width="1.95" height="1.95" fill="#1a3673"/>
<line x1="87.30" y1="425.87" x2="87.30" y2="424.35" stroke="#c0102a" stroke-width="0.6"/>
<line x1="85.70" y1="424.35" x2="88.90" y2="424.35" stroke="#c0102a" stroke-width="0.6"/>
<circle cx="85.30" cy="422.71" r="1.09" fill="#c0102a"/>
<circle cx="87.30" cy="421.45" r="1.09" fill="#c0102a"/>
<circle cx="89.30" cy="422.08" r="1.09" fill="#c0102a"/>
<circle cx="85.80" cy="425.24" r="1.09" fill="#c0102a"/>
<circle cx="88.80" cy="426.50" r="1.09" fill="#c0102a"/>
<circle cx="87.30" cy="429.03" r="1.09" fill="#c0102a"/>
<circle cx="86.30" cy="431.55" r="1.09" fill="#c0102a"/>
<line x1="45.40" y1="405.80" x2="45.40" y2="456.80" stroke="#222" stroke-width="1.2"/>
<line x1="42.00" y1="456.80" x2="97.50" y2="456.80" stroke="#222" stroke-width="1.3"/>
<line x1="42.60" y1="456.80" x2="45.40" y2="456.80" stroke="#222" stroke-width="0.7"/>
<text x="39.80" y="459.18" font-size="6.6" text-anchor="end" font-weight="normal" fill="#333" stroke="#333" stroke-width="0.05">0</text>
<line x1="42.60" y1="444.18" x2="45.40" y2="444.18" stroke="#222" stroke-width="0.7"/>
<text x="39.80" y="446.55" font-size="6.6" text-anchor="end" font-weight="normal" fill="#333" stroke="#333" stroke-width="0.05">10</text>
<line x1="42.60" y1="431.55" x2="45.40" y2="431.55" stroke="#222" stroke-width="0.7"/>
<text x="39.80" y="433.93" font-size="6.6" text-anchor="end" font-weight="normal" fill="#333" stroke="#333" stroke-width="0.05">20</text>
<line x1="42.60" y1="418.93" x2="45.40" y2="418.93" stroke="#222" stroke-width="0.7"/>
<text x="39.80" y="421.30" font-size="6.6" text-anchor="end" font-weight="normal" fill="#333" stroke="#333" stroke-width="0.05">30</text>
<line x1="42.60" y1="406.30" x2="45.40" y2="406.30" stroke="#222" stroke-width="0.7"/>
<text x="39.80" y="408.68" font-size="6.6" text-anchor="end" font-weight="normal" fill="#333" stroke="#333" stroke-width="0.05">40</text>
<path d="M52.60 402.40V391.00H81.60V396.70M76.60 400.00V396.70H87.30V400.00" fill="none" stroke="#555" stroke-width="0.6"/>
<circle cx="61.09" cy="387.70" r="1.14" fill="#2a2a2a"/>
<circle cx="64.96" cy="387.70" r="1.14" fill="#2a2a2a"/>
<circle cx="68.84" cy="387.70" r="1.14" fill="#2a2a2a"/>
<circle cx="72.71" cy="387.70" r="1.14" fill="#2a2a2a"/>
<path d="M65.30 416.00V408.50H81.60V412.60M76.60 415.50V412.60H87.30V415.50" fill="none" stroke="#555" stroke-width="0.6"/>
<circle cx="67.19" cy="405.40" r="1.14" fill="#2a2a2a"/>
<circle cx="71.06" cy="405.40" r="1.14" fill="#2a2a2a"/>
<circle cx="74.94" cy="405.40" r="1.14" fill="#2a2a2a"/>
<circle cx="78.81" cy="405.40" r="1.14" fill="#2a2a2a"/>
<text transform="translate(16.88,431.00) rotate(-90)" x="0" y="0" font-size="8.0" text-anchor="middle" font-weight="normal" fill="#333" textLength="60.00" lengthAdjust="spacingAndGlyphs" stroke="#333" stroke-width="0.12">% of DNAM-1<tspan font-size="5" dy="-2.5">+</tspan><tspan dy="2.5">TIGIT</tspan><tspan font-size="5" dy="-2.5">+</tspan></text>
<text transform="translate(27.18,430.50) rotate(-90)" x="0" y="0" font-size="8.0" text-anchor="middle" font-weight="normal" fill="#333" textLength="35.50" lengthAdjust="spacingAndGlyphs" stroke="#333" stroke-width="0.12">in CD8 T cell</text>
<text x="176.50" y="375.64" font-size="9" text-anchor="middle" font-weight="normal" fill="#333" textLength="25.60" lengthAdjust="spacingAndGlyphs">Spleen</text>
<rect x="155.40" y="446.52" width="8.60" height="10.28" fill="#a1a3b4" stroke="#9093a6" stroke-width="0.5"/>
<rect x="166.70" y="445.88" width="8.60" height="10.92" fill="#abd99c" stroke="#98cc88" stroke-width="0.5"/>
<rect x="178.00" y="417.61" width="8.00" height="39.19" fill="#8494c6" stroke="#7385ba" stroke-width="0.5"/>
<rect x="188.70" y="417.61" width="8.60" height="39.19" fill="#f08878" stroke="#e67a6a" stroke-width="0.5"/>
<line x1="159.70" y1="446.52" x2="159.70" y2="445.88" stroke="#45454f" stroke-width="0.6"/>
<line x1="158.10" y1="445.88" x2="161.30" y2="445.88" stroke="#45454f" stroke-width="0.6"/>
<path d="M159.70 444.09L160.85 446.16L158.55 446.16Z" fill="#45454f"/>
<path d="M158.20 445.37L159.35 447.44L157.05 447.44Z" fill="#45454f"/>
<path d="M161.20 446.01L162.35 448.08L160.05 448.08Z" fill="#45454f"/>
<line x1="171.00" y1="445.88" x2="171.00" y2="445.24" stroke="#3a8332" stroke-width="0.6"/>
<line x1="169.40" y1="445.24" x2="172.60" y2="445.24" stroke="#3a8332" stroke-width="0.6"/>
<path d="M171.00 446.06L172.15 443.99L169.85 443.99Z" fill="#3a8332"/>
<path d="M169.50 447.03L170.65 444.96L168.35 444.96Z" fill="#3a8332"/>
<path d="M172.50 447.67L173.65 445.60L171.35 445.60Z" fill="#3a8332"/>
<line x1="182.00" y1="417.61" x2="182.00" y2="416.96" stroke="#1a3673" stroke-width="0.6"/>
<line x1="180.40" y1="416.96" x2="183.60" y2="416.96" stroke="#1a3673" stroke-width="0.6"/>
<rect x="179.52" y="415.99" width="1.95" height="1.95" fill="#1a3673"/>
<rect x="181.02" y="416.63" width="1.95" height="1.95" fill="#1a3673"/>
<rect x="182.52" y="415.99" width="1.95" height="1.95" fill="#1a3673"/>
<line x1="193.00" y1="417.61" x2="193.00" y2="416.32" stroke="#c0102a" stroke-width="0.6"/>
<line x1="191.40" y1="416.32" x2="194.60" y2="416.32" stroke="#c0102a" stroke-width="0.6"/>
<circle cx="193.00" cy="415.68" r="1.09" fill="#c0102a"/>
<circle cx="192.00" cy="418.89" r="1.09" fill="#c0102a"/>
<circle cx="194.00" cy="418.25" r="1.09" fill="#c0102a"/>
<line x1="150.40" y1="404.90" x2="150.40" y2="456.80" stroke="#222" stroke-width="1.2"/>
<line x1="148.50" y1="456.80" x2="203.00" y2="456.80" stroke="#222" stroke-width="1.3"/>
<line x1="147.60" y1="456.80" x2="150.40" y2="456.80" stroke="#222" stroke-width="0.7"/>
<text x="144.80" y="459.18" font-size="6.6" text-anchor="end" font-weight="normal" fill="#333" stroke="#333" stroke-width="0.05">0</text>
<line x1="147.60" y1="443.95" x2="150.40" y2="443.95" stroke="#222" stroke-width="0.7"/>
<text x="144.80" y="446.33" font-size="6.6" text-anchor="end" font-weight="normal" fill="#333" stroke="#333" stroke-width="0.05">20</text>
<line x1="147.60" y1="431.10" x2="150.40" y2="431.10" stroke="#222" stroke-width="0.7"/>
<text x="144.80" y="433.48" font-size="6.6" text-anchor="end" font-weight="normal" fill="#333" stroke="#333" stroke-width="0.05">40</text>
<line x1="147.60" y1="418.25" x2="150.40" y2="418.25" stroke="#222" stroke-width="0.7"/>
<text x="144.80" y="420.63" font-size="6.6" text-anchor="end" font-weight="normal" fill="#333" stroke="#333" stroke-width="0.05">60</text>
<line x1="147.60" y1="405.40" x2="150.40" y2="405.40" stroke="#222" stroke-width="0.7"/>
<text x="144.80" y="407.78" font-size="6.6" text-anchor="end" font-weight="normal" fill="#333" stroke="#333" stroke-width="0.05">80</text>
<path d="M157.20 397.90V387.20H187.60V392.70M182.10 396.00V392.70H192.80V396.00" fill="none" stroke="#555" stroke-width="0.6"/>
<circle cx="166.59" cy="383.60" r="1.14" fill="#2a2a2a"/>
<circle cx="170.46" cy="383.60" r="1.14" fill="#2a2a2a"/>
<circle cx="174.34" cy="383.60" r="1.14" fill="#2a2a2a"/>
<circle cx="178.21" cy="383.60" r="1.14" fill="#2a2a2a"/>
<path d="M170.10 412.60V404.70H187.60V409.20M182.10 412.40V409.20H192.80V412.40" fill="none" stroke="#555" stroke-width="0.6"/>
<circle cx="173.39" cy="400.80" r="1.14" fill="#2a2a2a"/>
<circle cx="177.26" cy="400.80" r="1.14" fill="#2a2a2a"/>
<circle cx="181.14" cy="400.80" r="1.14" fill="#2a2a2a"/>
<circle cx="185.01" cy="400.80" r="1.14" fill="#2a2a2a"/>
<text transform="translate(122.28,431.00) rotate(-90)" x="0" y="0" font-size="8.0" text-anchor="middle" font-weight="normal" fill="#333" textLength="55.00" lengthAdjust="spacingAndGlyphs" stroke="#333" stroke-width="0.12">% of CD38<tspan font-size="5" dy="-2.5">+</tspan><tspan dy="2.5">CD101</tspan><tspan font-size="5" dy="-2.5">–</tspan></text>
<text transform="translate(132.68,429.70) rotate(-90)" x="0" y="0" font-size="8.0" text-anchor="middle" font-weight="normal" fill="#333" textLength="28.60" lengthAdjust="spacingAndGlyphs" stroke="#333" stroke-width="0.12">CD8 T cell</text>
<text x="320.20" y="263.34" font-size="9" text-anchor="middle" font-weight="normal" fill="#333" textLength="25.80" lengthAdjust="spacingAndGlyphs">Spleen</text>
<text x="283.50" y="274.08" font-size="6.9" text-anchor="middle" font-weight="normal" fill="#333" textLength="11.00" lengthAdjust="spacingAndGlyphs">Treg</text>
<text x="283.50" y="281.58" font-size="6.9" text-anchor="middle" font-weight="normal" fill="#333" textLength="37.50" lengthAdjust="spacingAndGlyphs">depletion (–)</text>
<text x="283.50" y="289.08" font-size="6.9" text-anchor="middle" font-weight="normal" fill="#333" textLength="43.80" lengthAdjust="spacingAndGlyphs">Mobilization (–)</text>
<text x="355.90" y="274.08" font-size="6.9" text-anchor="middle" font-weight="normal" fill="#333" textLength="11.00" lengthAdjust="spacingAndGlyphs">Treg</text>
<text x="355.90" y="281.58" font-size="6.9" text-anchor="middle" font-weight="normal" fill="#333" textLength="37.50" lengthAdjust="spacingAndGlyphs">depletion (–)</text>
<text x="355.90" y="289.08" font-size="6.9" text-anchor="middle" font-weight="normal" fill="#333" textLength="43.80" lengthAdjust="spacingAndGlyphs">Mobilization (+)</text>
<text x="283.00" y="377.28" font-size="6.9" text-anchor="middle" font-weight="normal" fill="#333" textLength="11.00" lengthAdjust="spacingAndGlyphs">Treg</text>
<text x="283.00" y="384.58" font-size="6.9" text-anchor="middle" font-weight="normal" fill="#333" textLength="37.50" lengthAdjust="spacingAndGlyphs">depletion (+)</text>
<text x="283.00" y="392.28" font-size="6.9" text-anchor="middle" font-weight="normal" fill="#333" textLength="43.80" lengthAdjust="spacingAndGlyphs">Mobilization (–)</text>
<text x="355.50" y="377.28" font-size="6.9" text-anchor="middle" font-weight="normal" fill="#333" textLength="11.00" lengthAdjust="spacingAndGlyphs">Treg</text>
<text x="355.50" y="384.58" font-size="6.9" text-anchor="middle" font-weight="normal" fill="#333" textLength="37.50" lengthAdjust="spacingAndGlyphs">depletion (+)</text>
<text x="355.50" y="392.28" font-size="6.9" text-anchor="middle" font-weight="normal" fill="#333" textLength="43.80" lengthAdjust="spacingAndGlyphs">Mobilization (+)</text>
<g filter="url(#tex)">
<path d="M295.21 330.00 L294.62 332.64 L293.77 334.83 L292.71 336.72 L291.51 338.33 L290.23 339.67 L288.87 340.74 L287.46 341.52 L286.01 341.96 L284.56 342.07 L283.15 341.90 L281.75 341.58 L280.20 341.20 L278.63 340.85 L277.18 340.55 L275.75 340.13 L274.40 339.44 L273.27 338.36 L272.46 336.85 L272.04 335.02 L271.96 332.99 L272.14 330.88 L272.46 328.77 L272.87 326.60 L273.42 324.16 L274.09 321.74 L274.89 319.70 L275.90 317.96 L277.09 316.58 L278.37 315.54 L279.65 314.72 L280.89 313.92 L282.12 312.99 L283.43 311.87 L284.93 310.71 L286.66 309.79 L288.69 309.49 L290.61 309.96 L291.98 311.16 L292.83 312.95 L293.23 315.03 L293.36 317.09 L293.46 318.93 L293.69 320.51 L294.12 321.97 L294.67 323.50 L295.17 325.29 L295.41 327.41Z" fill="#ececec" opacity="0.5"/>
<path d="M295.21 330.00 L294.62 332.64 L293.77 334.83 L292.71 336.72 L291.51 338.33 L290.23 339.67 L288.87 340.74 L287.46 341.52 L286.01 341.96 L284.56 342.07 L283.15 341.90 L281.75 341.58 L280.20 341.20 L278.63 340.85 L277.18 340.55 L275.75 340.13 L274.40 339.44 L273.27 338.36 L272.46 336.85 L272.04 335.02 L271.96 332.99 L272.14 330.88 L272.46 328.77 L272.87 326.60 L273.42 324.16 L274.09 321.74 L274.89 319.70 L275.90 317.96 L277.09 316.58 L278.37 315.54 L279.65 314.72 L280.89 313.92 L282.12 312.99 L283.43 311.87 L284.93 310.71 L286.66 309.79 L288.69 309.49 L290.61 309.96 L291.98 311.16 L292.83 312.95 L293.23 315.03 L293.36 317.09 L293.46 318.93 L293.69 320.51 L294.12 321.97 L294.67 323.50 L295.17 325.29 L295.41 327.41Z" fill="none" stroke="#a0a0a0" stroke-width="0.4" opacity="0.75"/>
<path d="M292.34 329.24 L291.44 330.95 L290.73 332.39 L290.13 333.84 L289.54 335.34 L288.83 336.83 L287.96 338.18 L286.92 339.28 L285.76 340.08 L284.51 340.57 L283.21 340.79 L281.88 340.73 L280.42 340.35 L279.09 339.66 L278.10 338.71 L277.38 337.53 L276.87 336.24 L276.45 334.98 L276.01 333.82 L275.45 332.73 L274.78 331.59 L274.12 330.24 L273.68 328.58 L273.66 326.63 L274.22 324.38 L275.21 322.34 L276.41 320.91 L277.63 319.89 L278.72 319.03 L279.62 318.09 L280.42 316.89 L281.26 315.48 L282.27 314.09 L283.48 313.05 L284.82 312.65 L286.16 313.00 L287.49 313.98 L288.56 315.25 L289.33 316.41 L290.09 317.31 L290.99 317.93 L292.07 318.46 L293.19 319.16 L294.12 320.22 L294.65 321.71 L294.65 323.51 L294.16 325.44 L293.33 327.33Z" fill="none" stroke="#a0a0a0" stroke-width="0.4" opacity="0.75"/>
<path d="M291.40 328.98 L290.81 330.62 L290.10 331.89 L289.29 332.90 L288.45 333.70 L287.63 334.38 L286.84 335.03 L286.07 335.71 L285.26 336.41 L284.38 337.04 L283.40 337.49 L282.36 337.63 L281.21 337.42 L280.15 336.91 L279.34 336.25 L278.65 335.51 L278.02 334.76 L277.41 333.97 L276.84 333.11 L276.40 332.10 L276.15 330.91 L276.16 329.57 L276.44 328.16 L276.93 326.75 L277.55 325.27 L278.15 323.89 L278.63 322.70 L279.06 321.48 L279.49 320.20 L280.02 318.90 L280.71 317.71 L281.57 316.79 L282.56 316.24 L283.59 316.09 L284.61 316.29 L285.59 316.71 L286.61 317.27 L287.55 317.85 L288.33 318.40 L289.05 318.96 L289.71 319.59 L290.31 320.33 L290.82 321.18 L291.24 322.15 L291.57 323.24 L291.79 324.45 L291.87 325.79 L291.77 327.28Z" fill="none" stroke="#a0a0a0" stroke-width="0.4" opacity="0.75"/>
<path d="M288.87 328.31 L288.88 329.59 L288.79 330.84 L288.49 332.01 L287.96 332.97 L287.23 333.56 L286.40 333.76 L285.58 333.64 L284.86 333.40 L284.23 333.24 L283.64 333.32 L282.97 333.64 L282.11 334.05 L281.15 334.35 L280.29 334.37 L279.61 333.99 L279.19 333.24 L279.02 332.26 L279.03 331.25 L279.05 330.31 L278.99 329.49 L278.81 328.70 L278.56 327.83 L278.39 326.80 L278.45 325.51 L278.79 324.24 L279.34 323.27 L280.04 322.58 L280.78 322.14 L281.46 321.82 L282.05 321.48 L282.58 321.02 L283.12 320.42 L283.73 319.78 L284.44 319.23 L285.25 318.90 L286.17 318.89 L287.04 319.17 L287.69 319.67 L288.20 320.32 L288.56 321.08 L288.81 321.91 L288.93 322.79 L288.96 323.68 L288.91 324.56 L288.85 325.41 L288.81 326.26 L288.84 327.17Z" fill="none" stroke="#a0a0a0" stroke-width="0.4" opacity="0.75"/>
<path d="M287.08 327.83 L287.16 328.68 L287.12 329.50 L286.88 330.22 L286.47 330.72 L285.94 330.94 L285.40 330.94 L284.91 330.84 L284.51 330.79 L284.15 330.90 L283.76 331.17 L283.30 331.52 L282.72 331.79 L282.11 331.88 L281.62 331.73 L281.25 331.37 L281.02 330.86 L280.89 330.29 L280.80 329.73 L280.72 329.20 L280.65 328.66 L280.62 328.11 L280.64 327.51 L280.75 326.88 L280.94 326.18 L281.17 325.50 L281.38 324.90 L281.59 324.31 L281.82 323.71 L282.10 323.13 L282.45 322.63 L282.89 322.32 L283.36 322.22 L283.82 322.32 L284.26 322.53 L284.66 322.74 L285.11 322.86 L285.60 322.87 L286.11 322.81 L286.63 322.81 L287.09 322.99 L287.40 323.40 L287.50 324.01 L287.41 324.71 L287.21 325.40 L287.02 326.01 L286.93 326.55 L286.98 327.11Z" fill="none" stroke="#a0a0a0" stroke-width="0.4" opacity="0.75"/>
</g>
<g filter="url(#tex)">
<path d="M298.75 318.00 L298.63 319.33 L297.94 320.36 L296.93 321.11 L295.89 321.66 L295.02 322.14 L294.34 322.67 L293.76 323.30 L293.12 323.94 L292.32 324.47 L291.33 324.75 L290.23 324.78 L289.00 324.62 L287.84 324.41 L286.84 324.27 L285.81 324.23 L284.69 324.21 L283.54 324.08 L282.47 323.71 L281.67 323.04 L281.22 322.13 L281.11 321.10 L281.24 320.05 L281.42 319.05 L281.54 318.00 L281.58 316.97 L281.61 316.05 L281.77 315.16 L282.17 314.37 L282.79 313.73 L283.55 313.23 L284.33 312.80 L285.05 312.31 L285.75 311.67 L286.54 310.88 L287.57 310.10 L289.00 309.56 L290.54 309.48 L291.77 309.98 L292.61 310.97 L293.02 312.21 L293.15 313.38 L293.27 314.27 L293.67 314.79 L294.51 315.07 L295.74 315.35 L297.09 315.86 L298.20 316.73Z" fill="none" stroke="#b0b0b0" stroke-width="0.4" opacity="0.7"/>
<path d="M295.76 318.00 L295.51 318.90 L294.88 319.55 L294.08 319.99 L293.31 320.29 L292.74 320.57 L292.38 320.96 L292.16 321.52 L291.91 322.20 L291.48 322.84 L290.82 323.28 L289.98 323.41 L289.00 323.23 L288.12 322.85 L287.47 322.44 L286.89 322.12 L286.27 321.94 L285.54 321.85 L284.74 321.73 L283.98 321.45 L283.43 320.96 L283.20 320.28 L283.28 319.51 L283.58 318.75 L283.94 318.00 L284.21 317.34 L284.32 316.76 L284.31 316.16 L284.29 315.50 L284.38 314.82 L284.66 314.20 L285.15 313.71 L285.79 313.37 L286.51 313.15 L287.28 313.01 L288.08 312.92 L289.00 312.90 L289.91 312.97 L290.66 313.19 L291.27 313.57 L291.74 314.04 L292.11 314.54 L292.46 314.97 L292.91 315.31 L293.52 315.60 L294.27 315.93 L295.02 316.41 L295.57 317.09Z" fill="none" stroke="#b0b0b0" stroke-width="0.4" opacity="0.7"/>
<path d="M291.95 318.00 L291.85 318.40 L291.82 318.75 L291.85 319.12 L291.89 319.54 L291.86 319.97 L291.69 320.36 L291.37 320.64 L290.93 320.78 L290.42 320.77 L289.93 320.68 L289.46 320.56 L289.00 320.47 L288.56 320.43 L288.16 320.42 L287.77 320.41 L287.37 320.34 L287.01 320.22 L286.68 320.03 L286.38 319.80 L286.09 319.54 L285.82 319.25 L285.56 318.91 L285.38 318.50 L285.34 318.00 L285.47 317.51 L285.76 317.14 L286.17 316.89 L286.59 316.72 L286.94 316.58 L287.17 316.40 L287.32 316.13 L287.44 315.75 L287.63 315.33 L287.95 314.96 L288.41 314.72 L289.00 314.69 L289.57 314.84 L289.99 315.12 L290.32 315.43 L290.59 315.70 L290.88 315.91 L291.20 316.08 L291.53 316.26 L291.84 316.49 L292.04 316.81 L292.10 317.18 L292.05 317.58Z" fill="none" stroke="#b0b0b0" stroke-width="0.4" opacity="0.7"/>
</g>
<ellipse cx="273.00" cy="342.80" rx="19.50" ry="6.00" fill="#9a9a9a" opacity="0.75" filter="url(#bl1)"/>
<path d="M286.27 342.30 L286.21 342.93 L286.11 343.50 L285.87 344.05 L285.35 344.59 L284.49 345.10 L283.29 345.54 L281.81 345.91 L280.16 346.22 L278.39 346.48 L276.52 346.70 L274.50 346.89 L272.15 347.03 L269.76 347.10 L267.71 347.07 L265.86 346.94 L264.21 346.73 L262.75 346.46 L261.42 346.17 L260.18 345.84 L259.03 345.47 L258.03 345.05 L257.27 344.57 L256.84 344.00 L256.79 343.33 L257.07 342.66 L257.61 342.09 L258.28 341.56 L259.02 341.06 L259.84 340.57 L260.82 340.09 L262.05 339.64 L263.58 339.27 L265.40 338.99 L267.41 338.84 L269.54 338.78 L271.86 338.78 L274.08 338.79 L276.02 338.81 L277.92 338.81 L279.84 338.84 L281.73 338.94 L283.45 339.16 L284.82 339.51 L285.75 339.97 L286.23 340.51 L286.37 341.08 L286.34 341.66Z" fill="none" stroke="#6a6a6a" stroke-width="0.45" opacity="0.6"/>
<path d="M283.11 342.41 L283.27 342.91 L283.18 343.35 L282.80 343.78 L282.13 344.16 L281.23 344.50 L280.19 344.79 L279.07 345.04 L277.91 345.28 L276.69 345.50 L275.36 345.70 L273.88 345.88 L272.11 346.00 L270.31 346.06 L268.74 346.04 L267.33 345.95 L266.05 345.80 L264.90 345.61 L263.87 345.38 L262.99 345.12 L262.27 344.81 L261.72 344.46 L261.36 344.07 L261.16 343.66 L261.08 343.18 L261.08 342.70 L261.15 342.26 L261.35 341.84 L261.72 341.42 L262.36 341.03 L263.28 340.68 L264.47 340.41 L265.84 340.21 L267.29 340.09 L268.76 340.00 L270.24 339.92 L271.90 339.83 L273.60 339.73 L275.16 339.65 L276.71 339.63 L278.16 339.69 L279.44 339.85 L280.45 340.11 L281.20 340.44 L281.72 340.80 L282.12 341.17 L282.47 341.55 L282.81 341.94Z" fill="none" stroke="#6a6a6a" stroke-width="0.45" opacity="0.6"/>
<path d="M279.69 342.53 L279.45 342.87 L279.11 343.15 L278.73 343.41 L278.34 343.65 L277.92 343.89 L277.43 344.12 L276.84 344.34 L276.12 344.53 L275.26 344.68 L274.31 344.79 L273.26 344.86 L272.07 344.90 L270.90 344.92 L269.89 344.90 L268.94 344.86 L268.05 344.79 L267.24 344.68 L266.53 344.54 L265.94 344.36 L265.48 344.14 L265.12 343.91 L264.86 343.66 L264.67 343.38 L264.58 343.06 L264.58 342.73 L264.71 342.44 L264.97 342.17 L265.37 341.91 L265.88 341.67 L266.48 341.46 L267.16 341.26 L267.91 341.09 L268.75 340.93 L269.69 340.80 L270.72 340.71 L271.93 340.67 L273.11 340.68 L274.08 340.73 L274.95 340.81 L275.75 340.91 L276.52 341.01 L277.28 341.12 L278.02 341.25 L278.70 341.42 L279.26 341.63 L279.62 341.89 L279.77 342.18Z" fill="none" stroke="#6a6a6a" stroke-width="0.45" opacity="0.6"/>
<path d="M260 340.8 Q270 339.2 282 340.6 L282 342.6 Q270 341.6 260 342.8 Z M260 343.6 Q270 343.0 284 343.8 L284 346.0 Q270 346.6 260 345.8 Z" fill="#1a1a1a" opacity="0.85" filter="url(#bl08)"/>
<rect x="252.40" y="294.30" width="60.90" height="61.20" fill="none" stroke="#6a6a6a" stroke-width="0.65"/>
<line x1="251.20" y1="303.48" x2="252.40" y2="303.48" stroke="#777" stroke-width="0.5"/>
<line x1="251.20" y1="327.96" x2="252.40" y2="327.96" stroke="#777" stroke-width="0.5"/>
<line x1="285.89" y1="355.50" x2="285.89" y2="356.70" stroke="#777" stroke-width="0.5"/>
<line x1="304.17" y1="355.50" x2="304.17" y2="356.70" stroke="#777" stroke-width="0.5"/>
<rect x="265.19" y="354.90" width="3.8" height="1.3" rx="0.6" fill="#1a1a1a"/>
<path d="M251.10 342.65h1.2v1.6h-0.9v1.2h0.9v1.6h-1.2" fill="none" stroke="#222" stroke-width="0.8"/>
<path d="M252.40 324.6H313.30M272.5 294.30V355.50" fill="none" stroke="#555" stroke-width="0.8"/>
<text x="255.00" y="302.08" font-size="6.6" text-anchor="start" font-weight="normal" fill="#222">0.66</text>
<text x="311.50" y="302.08" font-size="6.6" text-anchor="end" font-weight="normal" fill="#222">5.87</text>
<text x="255.00" y="353.08" font-size="6.6" text-anchor="start" font-weight="normal" fill="#222">47.2</text>
<text x="311.50" y="353.08" font-size="6.6" text-anchor="end" font-weight="normal" fill="#222">46.2</text>
<g filter="url(#tex)">
<path d="M371.20 333.50 L370.43 335.43 L368.92 336.68 L366.99 337.33 L365.09 337.57 L363.55 337.73 L362.50 338.17 L361.79 339.10 L361.13 340.48 L360.18 342.02 L358.78 343.29 L356.95 343.94 L354.75 343.76 L352.71 342.91 L351.26 341.69 L350.18 340.36 L349.28 339.13 L348.42 338.05 L347.52 337.04 L346.66 335.99 L345.99 334.81 L345.61 333.50 L345.54 332.10 L345.68 330.66 L345.91 329.04 L346.09 327.40 L346.21 325.86 L346.42 324.30 L346.90 322.79 L347.77 321.52 L349.05 320.63 L350.61 320.20 L352.28 320.15 L353.92 320.30 L355.48 320.47 L357.04 320.54 L358.84 320.58 L360.70 320.72 L362.33 321.08 L363.72 321.78 L364.78 322.80 L365.54 323.99 L366.15 325.17 L366.85 326.25 L367.80 327.26 L369.00 328.37 L370.22 329.73 L371.09 331.43Z" fill="#f0f0f0" opacity="0.5"/>
<path d="M371.20 333.50 L370.43 335.43 L368.92 336.68 L366.99 337.33 L365.09 337.57 L363.55 337.73 L362.50 338.17 L361.79 339.10 L361.13 340.48 L360.18 342.02 L358.78 343.29 L356.95 343.94 L354.75 343.76 L352.71 342.91 L351.26 341.69 L350.18 340.36 L349.28 339.13 L348.42 338.05 L347.52 337.04 L346.66 335.99 L345.99 334.81 L345.61 333.50 L345.54 332.10 L345.68 330.66 L345.91 329.04 L346.09 327.40 L346.21 325.86 L346.42 324.30 L346.90 322.79 L347.77 321.52 L349.05 320.63 L350.61 320.20 L352.28 320.15 L353.92 320.30 L355.48 320.47 L357.04 320.54 L358.84 320.58 L360.70 320.72 L362.33 321.08 L363.72 321.78 L364.78 322.80 L365.54 323.99 L366.15 325.17 L366.85 326.25 L367.80 327.26 L369.00 328.37 L370.22 329.73 L371.09 331.43Z" fill="none" stroke="#b4b4b4" stroke-width="0.4" opacity="0.7"/>
<path d="M366.88 332.74 L366.62 334.17 L366.21 335.39 L365.58 336.44 L364.74 337.29 L363.72 337.91 L362.62 338.33 L361.53 338.65 L360.47 338.99 L359.43 339.43 L358.30 339.99 L356.97 340.56 L355.25 340.91 L353.44 340.89 L351.95 340.41 L350.84 339.45 L350.19 338.17 L349.94 336.80 L349.88 335.54 L349.74 334.50 L349.31 333.66 L348.53 332.86 L347.52 331.91 L346.57 330.68 L346.00 329.06 L346.01 327.37 L346.60 326.04 L347.67 325.09 L348.99 324.49 L350.33 324.15 L351.54 323.88 L352.58 323.54 L353.55 323.07 L354.56 322.53 L355.70 322.04 L357.03 321.75 L358.63 321.78 L360.21 322.09 L361.51 322.60 L362.63 323.27 L363.61 324.03 L364.48 324.86 L365.24 325.75 L365.89 326.71 L366.39 327.75 L366.73 328.87 L366.93 330.05 L366.98 331.30Z" fill="none" stroke="#b4b4b4" stroke-width="0.4" opacity="0.7"/>
<path d="M365.32 332.47 L365.67 333.86 L365.52 335.06 L364.85 335.98 L363.82 336.54 L362.65 336.81 L361.53 336.90 L360.54 336.98 L359.66 337.12 L358.83 337.34 L357.95 337.57 L356.98 337.71 L355.82 337.71 L354.64 337.57 L353.58 337.36 L352.55 337.10 L351.53 336.76 L350.55 336.30 L349.71 335.65 L349.13 334.80 L348.92 333.79 L349.09 332.73 L349.50 331.72 L349.99 330.79 L350.38 329.83 L350.54 328.87 L350.52 327.91 L350.47 326.86 L350.61 325.81 L351.07 324.91 L351.87 324.32 L352.91 324.09 L354.02 324.15 L355.07 324.31 L356.04 324.39 L357.02 324.26 L358.23 324.01 L359.60 323.77 L360.90 323.74 L362.02 324.11 L362.79 324.90 L363.12 325.97 L363.08 327.12 L362.90 328.15 L362.84 328.98 L363.12 329.66 L363.76 330.35 L364.60 331.23Z" fill="none" stroke="#b4b4b4" stroke-width="0.4" opacity="0.7"/>
<path d="M362.71 332.01 L362.98 332.97 L362.96 333.84 L362.58 334.53 L361.89 334.97 L361.04 335.15 L360.22 335.19 L359.51 335.24 L358.93 335.44 L358.38 335.80 L357.76 336.25 L356.98 336.60 L356.00 336.68 L355.04 336.44 L354.35 335.93 L353.89 335.27 L353.57 334.62 L353.25 334.08 L352.80 333.68 L352.18 333.33 L351.48 332.91 L350.86 332.34 L350.50 331.62 L350.50 330.80 L350.87 329.92 L351.45 329.17 L352.06 328.65 L352.60 328.21 L353.02 327.77 L353.37 327.27 L353.73 326.73 L354.19 326.24 L354.78 325.89 L355.47 325.70 L356.23 325.67 L357.02 325.73 L357.91 325.82 L358.83 325.92 L359.67 326.04 L360.45 326.26 L361.12 326.66 L361.58 327.24 L361.79 327.95 L361.79 328.68 L361.73 329.36 L361.74 329.96 L361.94 330.53 L362.31 331.16Z" fill="none" stroke="#b4b4b4" stroke-width="0.4" opacity="0.7"/>
<path d="M360.71 331.65 L360.66 332.21 L360.44 332.64 L360.07 332.95 L359.66 333.16 L359.28 333.34 L358.96 333.56 L358.70 333.87 L358.40 334.23 L358.03 334.57 L357.55 334.78 L356.99 334.80 L356.37 334.59 L355.83 334.24 L355.47 333.85 L355.19 333.49 L354.91 333.20 L354.58 332.98 L354.21 332.78 L353.84 332.52 L353.54 332.20 L353.36 331.80 L353.30 331.35 L353.33 330.89 L353.40 330.37 L353.48 329.84 L353.56 329.36 L353.68 328.90 L353.92 328.50 L354.28 328.21 L354.76 328.07 L355.28 328.09 L355.78 328.20 L356.22 328.28 L356.61 328.27 L357.01 328.13 L357.55 327.90 L358.19 327.69 L358.82 327.60 L359.39 327.72 L359.80 328.05 L360.01 328.53 L360.04 329.06 L360.01 329.55 L360.01 329.96 L360.13 330.32 L360.34 330.68 L360.57 331.11Z" fill="none" stroke="#b4b4b4" stroke-width="0.4" opacity="0.7"/>
</g>
<g filter="url(#tex)">
<path d="M367.52 319.00 L367.52 319.51 L367.11 319.92 L366.44 320.25 L365.70 320.52 L365.03 320.78 L364.46 321.05 L363.92 321.35 L363.30 321.66 L362.49 321.92 L361.49 322.09 L360.33 322.15 L359.00 322.11 L357.73 322.01 L356.67 321.89 L355.69 321.77 L354.74 321.63 L353.86 321.45 L353.13 321.20 L352.63 320.88 L352.36 320.51 L352.24 320.14 L352.09 319.78 L351.79 319.43 L351.27 319.00 L350.67 318.51 L350.19 318.00 L350.11 317.50 L350.59 317.09 L351.61 316.82 L352.96 316.74 L354.36 316.79 L355.56 316.87 L356.46 316.88 L357.16 316.72 L357.90 316.40 L359.00 316.02 L360.40 315.69 L361.78 315.54 L363.01 315.65 L363.91 315.97 L364.41 316.42 L364.63 316.89 L364.80 317.29 L365.12 317.61 L365.68 317.88 L366.42 318.16 L367.11 318.52Z" fill="none" stroke="#c2c2c2" stroke-width="0.4" opacity="0.6"/>
<path d="M363.43 319.00 L363.42 319.26 L363.23 319.48 L362.91 319.66 L362.53 319.80 L362.14 319.93 L361.79 320.04 L361.45 320.17 L361.10 320.29 L360.68 320.41 L360.19 320.48 L359.63 320.50 L359.00 320.47 L358.41 320.40 L357.94 320.32 L357.50 320.26 L357.04 320.21 L356.51 320.19 L355.94 320.15 L355.37 320.07 L354.91 319.93 L354.63 319.74 L354.59 319.50 L354.77 319.25 L355.10 319.00 L355.47 318.79 L355.77 318.63 L355.97 318.49 L356.06 318.33 L356.11 318.15 L356.19 317.95 L356.36 317.74 L356.67 317.56 L357.12 317.43 L357.67 317.34 L358.29 317.32 L359.00 317.35 L359.67 317.42 L360.19 317.53 L360.61 317.65 L360.96 317.79 L361.26 317.92 L361.54 318.05 L361.84 318.16 L362.19 318.27 L362.58 318.40 L362.95 318.55 L363.26 318.75Z" fill="none" stroke="#c2c2c2" stroke-width="0.4" opacity="0.6"/>
</g>
<ellipse cx="344.50" cy="342.30" rx="14.50" ry="6.20" fill="#a9d8a2" opacity="0.8" filter="url(#bl1)"/>
<path d="M355.47 341.15 L355.58 341.84 L355.44 342.47 L355.06 343.07 L354.47 343.64 L353.73 344.17 L352.87 344.67 L351.89 345.13 L350.79 345.56 L349.54 345.92 L348.16 346.22 L346.66 346.43 L344.95 346.57 L343.29 346.65 L341.86 346.68 L340.51 346.69 L339.16 346.68 L337.82 346.63 L336.54 346.50 L335.42 346.24 L334.57 345.84 L334.06 345.33 L333.87 344.73 L333.92 344.09 L334.07 343.40 L334.22 342.73 L334.35 342.14 L334.47 341.57 L334.70 340.98 L335.14 340.40 L335.87 339.86 L336.88 339.38 L338.11 338.99 L339.47 338.69 L340.90 338.44 L342.37 338.23 L344.05 338.01 L345.75 337.81 L347.28 337.69 L348.72 337.66 L350.05 337.74 L351.21 337.95 L352.17 338.26 L352.95 338.63 L353.61 339.05 L354.19 339.49 L354.71 339.96 L355.16 340.49Z" fill="none" stroke="#6cb866" stroke-width="0.45" opacity="0.55"/>
<path d="M352.68 341.44 L352.54 341.97 L352.34 342.42 L352.09 342.85 L351.77 343.28 L351.33 343.68 L350.74 344.07 L350.01 344.41 L349.16 344.71 L348.22 344.98 L347.22 345.21 L346.13 345.43 L344.85 345.63 L343.53 345.78 L342.36 345.85 L341.30 345.82 L340.36 345.70 L339.59 345.49 L338.94 345.23 L338.38 344.96 L337.84 344.68 L337.29 344.39 L336.74 344.08 L336.27 343.70 L335.96 343.20 L335.90 342.66 L336.11 342.17 L336.56 341.72 L337.17 341.32 L337.83 340.95 L338.50 340.60 L339.17 340.26 L339.89 339.91 L340.72 339.58 L341.69 339.29 L342.82 339.08 L344.15 338.94 L345.45 338.90 L346.53 338.93 L347.50 339.01 L348.41 339.09 L349.31 339.18 L350.20 339.30 L351.04 339.46 L351.76 339.71 L352.30 340.04 L352.62 340.44 L352.72 340.91Z" fill="none" stroke="#6cb866" stroke-width="0.45" opacity="0.55"/>
<path d="M349.92 341.73 L349.94 342.07 L349.88 342.38 L349.73 342.68 L349.48 342.97 L349.14 343.24 L348.72 343.49 L348.22 343.73 L347.65 343.93 L347.02 344.11 L346.33 344.26 L345.58 344.36 L344.73 344.44 L343.89 344.49 L343.17 344.50 L342.50 344.50 L341.85 344.48 L341.21 344.44 L340.59 344.36 L340.02 344.24 L339.55 344.07 L339.23 343.83 L339.07 343.54 L339.06 343.22 L339.15 342.86 L339.30 342.52 L339.46 342.22 L339.61 341.94 L339.77 341.66 L339.97 341.38 L340.27 341.10 L340.69 340.84 L341.24 340.61 L341.90 340.43 L342.63 340.30 L343.41 340.21 L344.27 340.14 L345.12 340.09 L345.85 340.06 L346.54 340.06 L347.20 340.09 L347.81 340.15 L348.35 340.27 L348.81 340.43 L349.18 340.63 L349.47 340.86 L349.68 341.11 L349.83 341.40Z" fill="none" stroke="#6cb866" stroke-width="0.45" opacity="0.55"/>
<path d="M337 342.6 Q344 340.6 352 341.8 L352 345.2 Q344 346.4 337 345.6 Z" fill="#2a9632" opacity="0.65" filter="url(#bl08)"/>
<rect x="325.50" y="294.30" width="61.50" height="61.70" fill="none" stroke="#6a6a6a" stroke-width="0.65"/>
<line x1="324.30" y1="303.56" x2="325.50" y2="303.56" stroke="#777" stroke-width="0.5"/>
<line x1="324.30" y1="328.24" x2="325.50" y2="328.24" stroke="#777" stroke-width="0.5"/>
<line x1="359.32" y1="356.00" x2="359.32" y2="357.20" stroke="#777" stroke-width="0.5"/>
<line x1="377.77" y1="356.00" x2="377.77" y2="357.20" stroke="#777" stroke-width="0.5"/>
<rect x="338.42" y="355.40" width="3.8" height="1.3" rx="0.6" fill="#1a1a1a"/>
<path d="M324.20 343.04h1.2v1.6h-0.9v1.2h0.9v1.6h-1.2" fill="none" stroke="#222" stroke-width="0.8"/>
<path d="M325.50 325.0H387.00M346.2 294.30V356.00" fill="none" stroke="#555" stroke-width="0.8"/>
<text x="328.80" y="302.08" font-size="6.6" text-anchor="start" font-weight="normal" fill="#222">0.40</text>
<text x="384.50" y="302.08" font-size="6.6" text-anchor="end" font-weight="normal" fill="#222">2.30</text>
<text x="328.80" y="353.08" font-size="6.6" text-anchor="start" font-weight="normal" fill="#222">47.6</text>
<text x="384.50" y="353.08" font-size="6.6" text-anchor="end" font-weight="normal" fill="#222">49.7</text>
<g filter="url(#tex)">
<path d="M305.74 404.17 L306.47 406.13 L306.16 408.68 L305.07 411.50 L303.62 414.29 L302.20 416.88 L301.05 419.30 L300.09 421.70 L299.05 424.25 L297.61 426.99 L295.55 429.79 L292.88 432.45 L289.81 434.78 L286.61 436.72 L283.46 438.40 L280.38 440.00 L277.27 441.66 L274.02 443.36 L270.66 444.85 L267.43 445.78 L264.67 445.84 L262.67 444.96 L261.54 443.31 L261.06 441.27 L260.84 439.25 L260.46 437.51 L259.67 436.07 L258.53 434.70 L257.42 433.11 L256.80 431.06 L257.08 428.51 L258.39 425.63 L260.61 422.65 L263.42 419.81 L266.48 417.22 L269.56 414.88 L272.58 412.72 L275.57 410.71 L278.58 408.86 L281.61 407.28 L284.59 406.03 L287.47 405.11 L290.24 404.42 L292.99 403.82 L295.80 403.25 L298.70 402.77 L301.54 402.60 L304.01 403.00Z" fill="#d3d4ee" opacity="0.9"/>
<path d="M305.74 404.17 L306.47 406.13 L306.16 408.68 L305.07 411.50 L303.62 414.29 L302.20 416.88 L301.05 419.30 L300.09 421.70 L299.05 424.25 L297.61 426.99 L295.55 429.79 L292.88 432.45 L289.81 434.78 L286.61 436.72 L283.46 438.40 L280.38 440.00 L277.27 441.66 L274.02 443.36 L270.66 444.85 L267.43 445.78 L264.67 445.84 L262.67 444.96 L261.54 443.31 L261.06 441.27 L260.84 439.25 L260.46 437.51 L259.67 436.07 L258.53 434.70 L257.42 433.11 L256.80 431.06 L257.08 428.51 L258.39 425.63 L260.61 422.65 L263.42 419.81 L266.48 417.22 L269.56 414.88 L272.58 412.72 L275.57 410.71 L278.58 408.86 L281.61 407.28 L284.59 406.03 L287.47 405.11 L290.24 404.42 L292.99 403.82 L295.80 403.25 L298.70 402.77 L301.54 402.60 L304.01 403.00Z" fill="none" stroke="#9a9dd4" stroke-width="0.45" opacity="0.7"/>
<path d="M299.52 409.03 L299.69 410.75 L299.92 412.35 L300.23 413.91 L300.49 415.56 L300.47 417.42 L299.99 419.52 L298.98 421.81 L297.49 424.19 L295.65 426.58 L293.57 428.94 L291.31 431.27 L288.84 433.53 L286.15 435.63 L283.30 437.40 L280.43 438.66 L277.75 439.34 L275.38 439.48 L273.33 439.33 L271.45 439.18 L269.48 439.26 L267.24 439.61 L264.72 440.06 L262.15 440.30 L259.92 439.97 L258.44 438.89 L257.97 437.07 L258.49 434.72 L259.73 432.16 L261.32 429.65 L262.93 427.29 L264.39 425.06 L265.78 422.86 L267.27 420.62 L269.05 418.33 L271.19 416.11 L273.64 414.08 L276.25 412.30 L278.89 410.75 L281.53 409.31 L284.20 407.90 L286.98 406.50 L289.84 405.25 L292.65 404.38 L295.17 404.12 L297.15 404.58 L298.48 405.71 L299.20 407.28Z" fill="none" stroke="#9a9dd4" stroke-width="0.45" opacity="0.7"/>
<path d="M297.73 410.43 L298.38 411.64 L298.66 413.09 L298.49 414.78 L297.86 416.63 L296.86 418.55 L295.69 420.42 L294.54 422.23 L293.49 424.02 L292.50 425.92 L291.37 427.98 L289.88 430.19 L287.93 432.37 L285.57 434.26 L283.00 435.62 L280.52 436.37 L278.31 436.60 L276.40 436.59 L274.64 436.64 L272.82 436.93 L270.80 437.45 L268.62 437.99 L266.51 438.25 L264.77 437.96 L263.68 437.03 L263.31 435.57 L263.51 433.80 L264.01 431.97 L264.52 430.21 L264.92 428.52 L265.28 426.80 L265.81 424.93 L266.75 422.90 L268.23 420.82 L270.20 418.83 L272.49 417.09 L274.86 415.65 L277.15 414.43 L279.31 413.29 L281.42 412.12 L283.59 410.89 L285.86 409.68 L288.18 408.67 L290.43 408.02 L292.46 407.82 L294.20 408.04 L295.64 408.60 L296.81 409.42Z" fill="none" stroke="#9a9dd4" stroke-width="0.45" opacity="0.7"/>
<path d="M294.03 413.32 L294.85 414.05 L295.41 415.01 L295.63 416.21 L295.45 417.61 L294.90 419.16 L294.08 420.76 L293.07 422.36 L291.93 423.96 L290.66 425.53 L289.25 427.07 L287.67 428.52 L285.96 429.84 L284.18 431.00 L282.41 432.01 L280.65 432.94 L278.87 433.87 L277.02 434.83 L275.06 435.76 L273.08 436.51 L271.23 436.87 L269.73 436.70 L268.75 435.97 L268.33 434.79 L268.34 433.39 L268.54 432.00 L268.64 430.78 L268.49 429.74 L268.11 428.75 L267.71 427.65 L267.57 426.32 L267.94 424.73 L268.92 423.00 L270.44 421.28 L272.29 419.73 L274.22 418.39 L276.10 417.23 L277.87 416.12 L279.59 415.00 L281.36 413.86 L283.20 412.79 L285.07 411.92 L286.87 411.39 L288.48 411.22 L289.86 411.38 L291.04 411.74 L292.09 412.21 L293.09 412.73Z" fill="none" stroke="#9a9dd4" stroke-width="0.45" opacity="0.7"/>
<path d="M292.07 414.85 L292.40 415.72 L292.28 416.85 L291.83 418.10 L291.23 419.33 L290.63 420.49 L290.13 421.59 L289.70 422.68 L289.23 423.84 L288.58 425.09 L287.65 426.37 L286.44 427.60 L285.03 428.66 L283.55 429.52 L282.11 430.19 L280.73 430.77 L279.39 431.34 L278.03 431.95 L276.62 432.55 L275.18 433.05 L273.82 433.33 L272.65 433.28 L271.77 432.89 L271.22 432.21 L270.95 431.35 L270.87 430.41 L270.87 429.47 L270.88 428.54 L270.91 427.61 L271.01 426.62 L271.24 425.55 L271.66 424.38 L272.32 423.14 L273.20 421.86 L274.29 420.60 L275.54 419.39 L276.93 418.29 L278.39 417.34 L279.86 416.59 L281.28 416.05 L282.61 415.67 L283.84 415.41 L285.03 415.17 L286.24 414.90 L287.52 414.58 L288.86 414.30 L290.16 414.18 L291.29 414.33Z" fill="none" stroke="#9a9dd4" stroke-width="0.45" opacity="0.7"/>
</g>
<g filter="url(#tex)">
<path d="M269.33 424.60 L269.37 426.88 L269.27 429.30 L268.94 431.72 L268.34 433.92 L267.51 435.68 L266.54 436.90 L265.52 437.60 L264.56 438.01 L263.68 438.39 L262.84 438.94 L261.98 439.71 L261.05 440.53 L260.06 441.11 L259.08 441.14 L258.18 440.48 L257.47 439.14 L256.97 437.34 L256.62 435.35 L256.35 433.39 L256.07 431.53 L255.74 429.71 L255.40 427.78 L255.16 425.66 L255.11 423.35 L255.34 421.00 L255.85 418.79 L256.55 416.87 L257.35 415.26 L258.16 413.87 L258.92 412.56 L259.65 411.20 L260.40 409.76 L261.22 408.35 L262.12 407.14 L263.09 406.32 L264.07 406.00 L265.03 406.22 L265.91 406.91 L266.70 407.98 L267.37 409.34 L267.92 410.94 L268.35 412.71 L268.66 414.60 L268.86 416.55 L269.00 418.52 L269.11 420.48 L269.22 422.48Z" fill="#d0d1ec" opacity="0.85"/>
<path d="M269.33 424.60 L269.37 426.88 L269.27 429.30 L268.94 431.72 L268.34 433.92 L267.51 435.68 L266.54 436.90 L265.52 437.60 L264.56 438.01 L263.68 438.39 L262.84 438.94 L261.98 439.71 L261.05 440.53 L260.06 441.11 L259.08 441.14 L258.18 440.48 L257.47 439.14 L256.97 437.34 L256.62 435.35 L256.35 433.39 L256.07 431.53 L255.74 429.71 L255.40 427.78 L255.16 425.66 L255.11 423.35 L255.34 421.00 L255.85 418.79 L256.55 416.87 L257.35 415.26 L258.16 413.87 L258.92 412.56 L259.65 411.20 L260.40 409.76 L261.22 408.35 L262.12 407.14 L263.09 406.32 L264.07 406.00 L265.03 406.22 L265.91 406.91 L266.70 407.98 L267.37 409.34 L267.92 410.94 L268.35 412.71 L268.66 414.60 L268.86 416.55 L269.00 418.52 L269.11 420.48 L269.22 422.48Z" fill="none" stroke="#9c9fd5" stroke-width="0.45" opacity="0.7"/>
<path d="M268.20 424.50 L268.32 426.44 L268.25 428.50 L267.92 430.50 L267.33 432.19 L266.55 433.44 L265.70 434.24 L264.89 434.77 L264.16 435.26 L263.48 435.92 L262.79 436.77 L262.05 437.67 L261.24 438.40 L260.41 438.70 L259.62 438.44 L258.93 437.65 L258.36 436.46 L257.92 435.05 L257.55 433.56 L257.23 432.05 L256.96 430.49 L256.76 428.84 L256.67 427.11 L256.69 425.31 L256.83 423.50 L257.06 421.72 L257.33 419.95 L257.65 418.18 L258.02 416.40 L258.50 414.67 L259.09 413.11 L259.81 411.88 L260.60 411.09 L261.41 410.74 L262.20 410.71 L262.94 410.78 L263.66 410.79 L264.39 410.70 L265.18 410.59 L265.98 410.70 L266.74 411.25 L267.34 412.33 L267.73 413.90 L267.90 415.76 L267.91 417.67 L267.87 419.46 L267.90 421.12 L268.02 422.75Z" fill="none" stroke="#9c9fd5" stroke-width="0.45" opacity="0.7"/>
<path d="M267.53 424.44 L267.28 426.00 L266.87 427.42 L266.38 428.65 L265.88 429.75 L265.43 430.82 L264.99 431.95 L264.53 433.14 L264.01 434.25 L263.41 435.10 L262.76 435.52 L262.12 435.48 L261.53 435.06 L261.01 434.47 L260.52 433.92 L260.01 433.50 L259.45 433.18 L258.85 432.80 L258.27 432.16 L257.81 431.16 L257.54 429.81 L257.49 428.23 L257.62 426.60 L257.86 425.05 L258.12 423.62 L258.35 422.26 L258.55 420.91 L258.75 419.51 L259.02 418.10 L259.39 416.76 L259.87 415.60 L260.43 414.67 L261.02 413.95 L261.63 413.37 L262.25 412.87 L262.88 412.46 L263.53 412.22 L264.17 412.27 L264.76 412.69 L265.25 413.50 L265.63 414.58 L265.91 415.78 L266.15 416.95 L266.42 418.02 L266.73 419.04 L267.08 420.13 L267.38 421.40 L267.56 422.86Z" fill="none" stroke="#9c9fd5" stroke-width="0.45" opacity="0.7"/>
<path d="M266.06 424.31 L265.78 425.37 L265.50 426.35 L265.26 427.30 L265.02 428.28 L264.76 429.28 L264.45 430.24 L264.07 431.06 L263.63 431.66 L263.16 432.03 L262.69 432.19 L262.23 432.23 L261.78 432.22 L261.33 432.19 L260.88 432.09 L260.44 431.87 L260.02 431.46 L259.67 430.82 L259.40 429.98 L259.22 429.01 L259.11 427.97 L259.05 426.91 L259.03 425.85 L259.04 424.78 L259.09 423.70 L259.21 422.62 L259.39 421.56 L259.63 420.56 L259.92 419.61 L260.23 418.71 L260.57 417.82 L260.93 416.95 L261.34 416.13 L261.80 415.47 L262.30 415.07 L262.80 415.01 L263.26 415.30 L263.66 415.84 L264.00 416.50 L264.30 417.12 L264.62 417.62 L264.98 418.02 L265.39 418.43 L265.80 418.97 L266.14 419.73 L266.36 420.74 L266.41 421.92 L266.29 423.14Z" fill="none" stroke="#9c9fd5" stroke-width="0.45" opacity="0.7"/>
</g>
<path d="M295.82 411.25 L296.00 411.94 L296.11 412.66 L296.14 413.43 L296.07 414.27 L295.80 415.20 L295.26 416.23 L294.41 417.31 L293.28 418.40 L291.96 419.44 L290.54 420.40 L289.10 421.29 L287.68 422.14 L286.24 422.97 L284.74 423.79 L283.19 424.54 L281.64 425.13 L280.17 425.49 L278.89 425.59 L277.84 425.45 L276.99 425.16 L276.25 424.83 L275.51 424.52 L274.70 424.24 L273.86 423.93 L273.11 423.51 L272.62 422.89 L272.56 422.04 L272.98 421.01 L273.83 419.88 L274.97 418.74 L276.23 417.67 L277.47 416.68 L278.66 415.73 L279.82 414.79 L281.01 413.82 L282.31 412.84 L283.74 411.90 L285.26 411.06 L286.83 410.36 L288.38 409.83 L289.85 409.47 L291.22 409.27 L292.45 409.23 L293.52 409.35 L294.40 409.63 L295.07 410.06 L295.53 410.61Z" fill="#a9abdc" opacity="0.9" filter="url(#bl05)"/>
<path d="M295.82 411.25 L296.00 411.94 L296.11 412.66 L296.14 413.43 L296.07 414.27 L295.80 415.20 L295.26 416.23 L294.41 417.31 L293.28 418.40 L291.96 419.44 L290.54 420.40 L289.10 421.29 L287.68 422.14 L286.24 422.97 L284.74 423.79 L283.19 424.54 L281.64 425.13 L280.17 425.49 L278.89 425.59 L277.84 425.45 L276.99 425.16 L276.25 424.83 L275.51 424.52 L274.70 424.24 L273.86 423.93 L273.11 423.51 L272.62 422.89 L272.56 422.04 L272.98 421.01 L273.83 419.88 L274.97 418.74 L276.23 417.67 L277.47 416.68 L278.66 415.73 L279.82 414.79 L281.01 413.82 L282.31 412.84 L283.74 411.90 L285.26 411.06 L286.83 410.36 L288.38 409.83 L289.85 409.47 L291.22 409.27 L292.45 409.23 L293.52 409.35 L294.40 409.63 L295.07 410.06 L295.53 410.61Z" fill="none" stroke="#6f72c2" stroke-width="0.5" opacity="0.75"/>
<path d="M294.19 412.20 L294.20 412.85 L294.01 413.58 L293.69 414.33 L293.32 415.07 L292.93 415.81 L292.50 416.57 L291.98 417.36 L291.31 418.19 L290.46 419.02 L289.45 419.83 L288.32 420.57 L287.15 421.23 L285.97 421.81 L284.80 422.35 L283.62 422.86 L282.43 423.34 L281.23 423.74 L280.09 424.00 L279.07 424.09 L278.24 423.96 L277.64 423.66 L277.24 423.23 L276.98 422.75 L276.76 422.26 L276.54 421.78 L276.31 421.28 L276.15 420.73 L276.12 420.09 L276.33 419.35 L276.80 418.52 L277.52 417.65 L278.44 416.78 L279.49 415.96 L280.60 415.20 L281.74 414.49 L282.89 413.85 L284.05 413.27 L285.19 412.75 L286.33 412.31 L287.45 411.94 L288.55 411.63 L289.62 411.38 L290.68 411.20 L291.69 411.10 L292.61 411.12 L293.38 411.31 L293.92 411.67Z" fill="none" stroke="#6f72c2" stroke-width="0.5" opacity="0.75"/>
<path d="M291.18 413.93 L291.51 414.21 L291.75 414.56 L291.82 415.01 L291.68 415.55 L291.32 416.16 L290.79 416.78 L290.15 417.40 L289.46 417.99 L288.75 418.55 L288.02 419.08 L287.28 419.60 L286.50 420.10 L285.69 420.58 L284.86 421.01 L284.00 421.41 L283.13 421.74 L282.28 422.01 L281.45 422.20 L280.69 422.28 L280.04 422.24 L279.53 422.08 L279.19 421.79 L279.00 421.43 L278.91 421.02 L278.86 420.60 L278.83 420.19 L278.79 419.77 L278.78 419.31 L278.88 418.80 L279.14 418.23 L279.59 417.61 L280.24 416.98 L281.01 416.39 L281.85 415.85 L282.69 415.37 L283.51 414.91 L284.31 414.46 L285.14 414.01 L286.01 413.57 L286.90 413.19 L287.76 412.94 L288.53 412.83 L289.17 412.87 L289.68 413.02 L290.09 413.24 L290.45 413.47 L290.81 413.70Z" fill="none" stroke="#6f72c2" stroke-width="0.5" opacity="0.75"/>
<path d="M288.98 415.20 L289.10 415.43 L289.11 415.71 L289.01 416.04 L288.84 416.38 L288.63 416.73 L288.40 417.08 L288.15 417.44 L287.86 417.81 L287.49 418.20 L287.04 418.57 L286.53 418.91 L285.98 419.19 L285.43 419.41 L284.91 419.59 L284.42 419.75 L283.94 419.91 L283.43 420.10 L282.90 420.28 L282.37 420.42 L281.88 420.48 L281.50 420.43 L281.26 420.27 L281.14 420.03 L281.11 419.74 L281.13 419.46 L281.15 419.18 L281.16 418.90 L281.18 418.61 L281.27 418.29 L281.45 417.94 L281.75 417.56 L282.14 417.19 L282.60 416.83 L283.08 416.49 L283.57 416.18 L284.06 415.87 L284.56 415.56 L285.09 415.27 L285.64 415.02 L286.17 414.84 L286.67 414.73 L287.12 414.70 L287.51 414.72 L287.86 414.77 L288.18 414.84 L288.49 414.92 L288.77 415.04Z" fill="none" stroke="#6f72c2" stroke-width="0.5" opacity="0.75"/>
<path d="M289.22 414.99 L289.28 415.16 L289.25 415.39 L289.13 415.66 L288.91 415.98 L288.60 416.34 L288.20 416.73 L287.73 417.13 L287.19 417.55 L286.61 417.97 L285.99 418.39 L285.36 418.80 L284.70 419.20 L284.02 419.59 L283.33 419.96 L282.64 420.29 L281.99 420.57 L281.39 420.79 L280.84 420.96 L280.36 421.07 L279.92 421.15 L279.52 421.20 L279.16 421.21 L278.87 421.17 L278.67 421.08 L278.60 420.90 L278.66 420.65 L278.86 420.34 L279.18 419.98 L279.56 419.60 L279.99 419.22 L280.43 418.83 L280.90 418.44 L281.40 418.03 L281.97 417.60 L282.59 417.17 L283.27 416.74 L283.98 416.35 L284.69 415.99 L285.36 415.70 L285.99 415.45 L286.57 415.25 L287.11 415.09 L287.61 414.96 L288.06 414.86 L288.47 414.81 L288.81 414.81 L289.06 414.87Z" fill="#f8f8fd" opacity="0.95"/>
<path d="M289.22 414.99 L289.28 415.16 L289.25 415.39 L289.13 415.66 L288.91 415.98 L288.60 416.34 L288.20 416.73 L287.73 417.13 L287.19 417.55 L286.61 417.97 L285.99 418.39 L285.36 418.80 L284.70 419.20 L284.02 419.59 L283.33 419.96 L282.64 420.29 L281.99 420.57 L281.39 420.79 L280.84 420.96 L280.36 421.07 L279.92 421.15 L279.52 421.20 L279.16 421.21 L278.87 421.17 L278.67 421.08 L278.60 420.90 L278.66 420.65 L278.86 420.34 L279.18 419.98 L279.56 419.60 L279.99 419.22 L280.43 418.83 L280.90 418.44 L281.40 418.03 L281.97 417.60 L282.59 417.17 L283.27 416.74 L283.98 416.35 L284.69 415.99 L285.36 415.70 L285.99 415.45 L286.57 415.25 L287.11 415.09 L287.61 414.96 L288.06 414.86 L288.47 414.81 L288.81 414.81 L289.06 414.87Z" fill="none" stroke="#b9bbe3" stroke-width="0.4" opacity="0.5"/>
<path d="M271.70 431.20 L271.50 432.03 L271.18 432.82 L270.75 433.53 L270.25 434.11 L269.72 434.58 L269.19 434.95 L268.66 435.25 L268.14 435.50 L267.63 435.70 L267.11 435.84 L266.60 435.88 L266.11 435.81 L265.65 435.64 L265.22 435.38 L264.83 435.03 L264.48 434.59 L264.18 434.07 L263.95 433.46 L263.82 432.75 L263.80 431.98 L263.89 431.18 L264.06 430.39 L264.29 429.62 L264.54 428.87 L264.80 428.14 L265.08 427.41 L265.41 426.67 L265.79 425.97 L266.25 425.35 L266.77 424.86 L267.31 424.52 L267.85 424.32 L268.38 424.21 L268.89 424.15 L269.40 424.12 L269.91 424.12 L270.42 424.19 L270.89 424.40 L271.30 424.78 L271.59 425.32 L271.76 425.99 L271.83 426.73 L271.84 427.47 L271.83 428.19 L271.83 428.90 L271.83 429.62 L271.80 430.39Z" fill="#9a9dd6" opacity="0.9" filter="url(#bl05)"/>
<path d="M271.70 431.20 L271.50 432.03 L271.18 432.82 L270.75 433.53 L270.25 434.11 L269.72 434.58 L269.19 434.95 L268.66 435.25 L268.14 435.50 L267.63 435.70 L267.11 435.84 L266.60 435.88 L266.11 435.81 L265.65 435.64 L265.22 435.38 L264.83 435.03 L264.48 434.59 L264.18 434.07 L263.95 433.46 L263.82 432.75 L263.80 431.98 L263.89 431.18 L264.06 430.39 L264.29 429.62 L264.54 428.87 L264.80 428.14 L265.08 427.41 L265.41 426.67 L265.79 425.97 L266.25 425.35 L266.77 424.86 L267.31 424.52 L267.85 424.32 L268.38 424.21 L268.89 424.15 L269.40 424.12 L269.91 424.12 L270.42 424.19 L270.89 424.40 L271.30 424.78 L271.59 425.32 L271.76 425.99 L271.83 426.73 L271.84 427.47 L271.83 428.19 L271.83 428.90 L271.83 429.62 L271.80 430.39Z" fill="none" stroke="#4b4fab" stroke-width="0.6" opacity="0.85"/>
<path d="M270.82 430.91 L270.66 431.54 L270.43 432.16 L270.11 432.71 L269.73 433.17 L269.33 433.52 L268.91 433.80 L268.51 434.03 L268.11 434.25 L267.71 434.46 L267.29 434.64 L266.87 434.74 L266.47 434.71 L266.11 434.54 L265.81 434.24 L265.57 433.84 L265.39 433.40 L265.23 432.95 L265.08 432.50 L264.93 432.02 L264.81 431.51 L264.75 430.93 L264.78 430.32 L264.91 429.68 L265.12 429.06 L265.40 428.49 L265.71 427.97 L266.04 427.48 L266.37 427.02 L266.72 426.59 L267.08 426.18 L267.47 425.83 L267.88 425.57 L268.30 425.40 L268.71 425.34 L269.11 425.35 L269.49 425.42 L269.85 425.55 L270.20 425.75 L270.50 426.03 L270.76 426.40 L270.94 426.87 L271.04 427.41 L271.07 427.98 L271.05 428.56 L271.01 429.13 L270.97 429.71 L270.91 430.30Z" fill="none" stroke="#4b4fab" stroke-width="0.6" opacity="0.85"/>
<path d="M270.01 430.65 L269.87 431.09 L269.67 431.49 L269.43 431.84 L269.18 432.15 L268.91 432.42 L268.64 432.67 L268.37 432.92 L268.08 433.14 L267.78 433.33 L267.48 433.43 L267.18 433.44 L266.91 433.35 L266.68 433.17 L266.49 432.93 L266.32 432.67 L266.16 432.39 L266.02 432.11 L265.90 431.80 L265.80 431.45 L265.74 431.07 L265.74 430.65 L265.79 430.22 L265.88 429.78 L266.00 429.35 L266.15 428.93 L266.33 428.51 L266.53 428.12 L266.77 427.75 L267.04 427.45 L267.33 427.22 L267.63 427.07 L267.92 426.98 L268.20 426.93 L268.48 426.88 L268.75 426.83 L269.04 426.80 L269.33 426.81 L269.60 426.90 L269.83 427.10 L270.00 427.39 L270.11 427.75 L270.16 428.16 L270.17 428.57 L270.17 428.98 L270.16 429.38 L270.14 429.79 L270.10 430.22Z" fill="none" stroke="#4b4fab" stroke-width="0.6" opacity="0.85"/>
<path d="M269.42 430.96 L269.26 431.34 L269.09 431.70 L268.92 432.05 L268.73 432.40 L268.54 432.74 L268.32 433.05 L268.09 433.30 L267.85 433.48 L267.62 433.56 L267.41 433.56 L267.22 433.51 L267.05 433.43 L266.88 433.33 L266.72 433.22 L266.57 433.09 L266.43 432.91 L266.31 432.67 L266.24 432.38 L266.21 432.03 L266.23 431.65 L266.28 431.25 L266.36 430.84 L266.46 430.44 L266.58 430.04 L266.72 429.65 L266.88 429.27 L267.07 428.92 L267.27 428.60 L267.48 428.31 L267.70 428.06 L267.92 427.84 L268.14 427.65 L268.37 427.49 L268.60 427.38 L268.82 427.34 L269.02 427.38 L269.19 427.49 L269.33 427.67 L269.44 427.90 L269.53 428.15 L269.61 428.42 L269.68 428.71 L269.73 429.02 L269.75 429.37 L269.73 429.75 L269.66 430.15 L269.56 430.56Z" fill="#ffffff" opacity="1.0"/>
<path d="M269.42 430.96 L269.26 431.34 L269.09 431.70 L268.92 432.05 L268.73 432.40 L268.54 432.74 L268.32 433.05 L268.09 433.30 L267.85 433.48 L267.62 433.56 L267.41 433.56 L267.22 433.51 L267.05 433.43 L266.88 433.33 L266.72 433.22 L266.57 433.09 L266.43 432.91 L266.31 432.67 L266.24 432.38 L266.21 432.03 L266.23 431.65 L266.28 431.25 L266.36 430.84 L266.46 430.44 L266.58 430.04 L266.72 429.65 L266.88 429.27 L267.07 428.92 L267.27 428.60 L267.48 428.31 L267.70 428.06 L267.92 427.84 L268.14 427.65 L268.37 427.49 L268.60 427.38 L268.82 427.34 L269.02 427.38 L269.19 427.49 L269.33 427.67 L269.44 427.90 L269.53 428.15 L269.61 428.42 L269.68 428.71 L269.73 429.02 L269.75 429.37 L269.73 429.75 L269.66 430.15 L269.56 430.56Z" fill="none" stroke="#ffffff" stroke-width="0.3" opacity="0.5"/>
<rect x="252.40" y="395.90" width="60.90" height="61.30" fill="none" stroke="#6a6a6a" stroke-width="0.65"/>
<line x1="251.20" y1="405.09" x2="252.40" y2="405.09" stroke="#777" stroke-width="0.5"/>
<line x1="251.20" y1="429.62" x2="252.40" y2="429.62" stroke="#777" stroke-width="0.5"/>
<line x1="285.89" y1="457.20" x2="285.89" y2="458.40" stroke="#777" stroke-width="0.5"/>
<line x1="304.17" y1="457.20" x2="304.17" y2="458.40" stroke="#777" stroke-width="0.5"/>
<rect x="265.19" y="456.60" width="3.8" height="1.3" rx="0.6" fill="#1a1a1a"/>
<path d="M251.10 444.33h1.2v1.6h-0.9v1.2h0.9v1.6h-1.2" fill="none" stroke="#222" stroke-width="0.8"/>
<path d="M252.40 426.1H313.30M272.5 395.90V457.20" fill="none" stroke="#555" stroke-width="0.8"/>
<text x="255.00" y="403.78" font-size="6.6" text-anchor="start" font-weight="normal" fill="#222">15.4</text>
<text x="311.50" y="403.78" font-size="6.6" text-anchor="end" font-weight="normal" fill="#222">51.4</text>
<text x="255.00" y="454.18" font-size="6.6" text-anchor="start" font-weight="normal" fill="#222">23.2</text>
<text x="311.50" y="454.18" font-size="6.6" text-anchor="end" font-weight="normal" fill="#222">9.95</text>
<g filter="url(#tex)">
<path d="M375.11 407.13 L375.92 408.74 L376.86 410.29 L377.69 411.99 L378.10 414.02 L377.86 416.43 L376.93 419.09 L375.45 421.86 L373.64 424.62 L371.69 427.35 L369.62 430.10 L367.33 432.87 L364.73 435.60 L361.78 438.07 L358.61 440.08 L355.41 441.50 L352.38 442.36 L349.60 442.87 L346.96 443.29 L344.32 443.81 L341.57 444.41 L338.77 444.86 L336.16 444.85 L334.07 444.14 L332.76 442.67 L332.23 440.61 L332.27 438.26 L332.53 435.89 L332.72 433.62 L332.76 431.37 L332.86 428.96 L333.39 426.27 L334.69 423.33 L336.89 420.37 L339.83 417.67 L343.11 415.44 L346.33 413.67 L349.27 412.11 L351.95 410.42 L354.63 408.38 L357.57 405.99 L360.85 403.57 L364.33 401.60 L367.65 400.54 L370.41 400.59 L372.38 401.66 L373.63 403.38 L374.42 405.31Z" fill="#f7d3d3" opacity="0.9"/>
<path d="M375.11 407.13 L375.92 408.74 L376.86 410.29 L377.69 411.99 L378.10 414.02 L377.86 416.43 L376.93 419.09 L375.45 421.86 L373.64 424.62 L371.69 427.35 L369.62 430.10 L367.33 432.87 L364.73 435.60 L361.78 438.07 L358.61 440.08 L355.41 441.50 L352.38 442.36 L349.60 442.87 L346.96 443.29 L344.32 443.81 L341.57 444.41 L338.77 444.86 L336.16 444.85 L334.07 444.14 L332.76 442.67 L332.23 440.61 L332.27 438.26 L332.53 435.89 L332.72 433.62 L332.76 431.37 L332.86 428.96 L333.39 426.27 L334.69 423.33 L336.89 420.37 L339.83 417.67 L343.11 415.44 L346.33 413.67 L349.27 412.11 L351.95 410.42 L354.63 408.38 L357.57 405.99 L360.85 403.57 L364.33 401.60 L367.65 400.54 L370.41 400.59 L372.38 401.66 L373.63 403.38 L374.42 405.31Z" fill="none" stroke="#eba4a4" stroke-width="0.45" opacity="0.7"/>
<path d="M371.20 410.41 L372.50 411.24 L374.04 412.06 L375.46 413.17 L376.35 414.78 L376.36 416.92 L375.43 419.42 L373.74 422.04 L371.62 424.55 L369.39 426.89 L367.23 429.10 L365.14 431.30 L362.98 433.51 L360.62 435.66 L358.04 437.54 L355.35 438.96 L352.74 439.84 L350.34 440.25 L348.15 440.45 L346.01 440.68 L343.76 441.08 L341.30 441.60 L338.74 441.99 L336.37 441.93 L334.55 441.16 L333.56 439.63 L333.48 437.50 L334.13 435.05 L335.22 432.54 L336.41 430.16 L337.54 427.91 L338.60 425.72 L339.73 423.50 L341.09 421.21 L342.78 418.90 L344.80 416.66 L347.06 414.54 L349.46 412.52 L351.98 410.56 L354.64 408.65 L357.44 406.88 L360.31 405.45 L363.08 404.60 L365.50 404.53 L367.36 405.22 L368.64 406.48 L369.49 407.96 L370.24 409.33Z" fill="none" stroke="#eba4a4" stroke-width="0.45" opacity="0.7"/>
<path d="M371.37 410.26 L371.81 411.74 L371.68 413.54 L371.07 415.49 L370.24 417.42 L369.44 419.22 L368.89 420.89 L368.57 422.58 L368.31 424.44 L367.77 426.56 L366.68 428.87 L364.93 431.14 L362.63 433.09 L360.06 434.51 L357.55 435.37 L355.28 435.88 L353.25 436.31 L351.30 436.93 L349.25 437.81 L347.03 438.78 L344.76 439.55 L342.69 439.81 L341.09 439.40 L340.09 438.35 L339.62 436.91 L339.43 435.36 L339.23 433.89 L338.86 432.55 L338.35 431.19 L337.96 429.65 L338.00 427.81 L338.72 425.71 L340.17 423.51 L342.17 421.43 L344.45 419.60 L346.72 418.04 L348.83 416.65 L350.79 415.26 L352.71 413.79 L354.72 412.25 L356.89 410.76 L359.15 409.50 L361.42 408.59 L363.59 408.07 L365.60 407.90 L367.43 408.03 L369.05 408.45 L370.41 409.17Z" fill="none" stroke="#eba4a4" stroke-width="0.45" opacity="0.7"/>
<path d="M368.31 412.83 L368.22 414.36 L368.03 415.82 L367.97 417.13 L368.10 418.34 L368.25 419.61 L368.18 421.05 L367.65 422.67 L366.57 424.38 L365.04 426.01 L363.29 427.46 L361.55 428.71 L359.94 429.89 L358.44 431.13 L356.91 432.54 L355.24 434.05 L353.36 435.51 L351.37 436.67 L349.43 437.36 L347.72 437.50 L346.32 437.18 L345.23 436.55 L344.37 435.77 L343.63 434.94 L343.01 434.06 L342.52 433.10 L342.23 432.01 L342.17 430.79 L342.28 429.49 L342.49 428.14 L342.72 426.75 L342.97 425.26 L343.36 423.62 L344.08 421.81 L345.25 419.94 L346.92 418.19 L348.95 416.79 L351.07 415.86 L353.06 415.37 L354.79 415.12 L356.31 414.82 L357.80 414.23 L359.47 413.27 L361.41 412.11 L363.50 411.08 L365.49 410.53 L367.05 410.67 L367.98 411.51Z" fill="none" stroke="#eba4a4" stroke-width="0.45" opacity="0.7"/>
<path d="M364.40 416.11 L364.92 416.77 L365.33 417.52 L365.57 418.40 L365.62 419.41 L365.45 420.54 L365.05 421.75 L364.45 423.01 L363.66 424.29 L362.69 425.54 L361.57 426.74 L360.34 427.84 L359.05 428.82 L357.75 429.69 L356.46 430.50 L355.17 431.28 L353.85 432.10 L352.44 432.92 L350.96 433.68 L349.48 434.24 L348.11 434.47 L347.01 434.26 L346.28 433.65 L345.93 432.73 L345.85 431.68 L345.87 430.66 L345.80 429.77 L345.56 429.00 L345.19 428.24 L344.84 427.37 L344.71 426.30 L344.97 425.05 L345.69 423.69 L346.81 422.36 L348.17 421.15 L349.60 420.12 L350.99 419.22 L352.29 418.37 L353.54 417.51 L354.83 416.61 L356.18 415.73 L357.59 414.97 L358.98 414.44 L360.28 414.20 L361.41 414.26 L362.36 414.55 L363.14 414.99 L363.81 415.52Z" fill="none" stroke="#eba4a4" stroke-width="0.45" opacity="0.7"/>
</g>
<path d="M372.34 411.24 L373.15 411.93 L373.54 412.84 L373.37 413.94 L372.68 415.14 L371.61 416.33 L370.40 417.44 L369.23 418.47 L368.16 419.48 L367.13 420.54 L366.01 421.64 L364.68 422.72 L363.11 423.68 L361.40 424.38 L359.68 424.79 L358.08 424.94 L356.61 424.96 L355.23 424.96 L353.82 425.02 L352.33 425.14 L350.79 425.19 L349.34 425.07 L348.18 424.65 L347.45 423.93 L347.20 422.97 L347.34 421.88 L347.71 420.78 L348.14 419.71 L348.56 418.68 L348.98 417.64 L349.51 416.56 L350.25 415.45 L351.26 414.34 L352.51 413.29 L353.94 412.32 L355.46 411.45 L357.03 410.64 L358.65 409.87 L360.32 409.18 L362.03 408.62 L363.71 408.28 L365.26 408.23 L366.58 408.45 L367.65 408.88 L368.54 409.40 L369.39 409.89 L370.31 410.33 L371.33 410.74Z" fill="#f5bcbc" opacity="0.8" filter="url(#bl05)"/>
<path d="M372.34 411.24 L373.15 411.93 L373.54 412.84 L373.37 413.94 L372.68 415.14 L371.61 416.33 L370.40 417.44 L369.23 418.47 L368.16 419.48 L367.13 420.54 L366.01 421.64 L364.68 422.72 L363.11 423.68 L361.40 424.38 L359.68 424.79 L358.08 424.94 L356.61 424.96 L355.23 424.96 L353.82 425.02 L352.33 425.14 L350.79 425.19 L349.34 425.07 L348.18 424.65 L347.45 423.93 L347.20 422.97 L347.34 421.88 L347.71 420.78 L348.14 419.71 L348.56 418.68 L348.98 417.64 L349.51 416.56 L350.25 415.45 L351.26 414.34 L352.51 413.29 L353.94 412.32 L355.46 411.45 L357.03 410.64 L358.65 409.87 L360.32 409.18 L362.03 408.62 L363.71 408.28 L365.26 408.23 L366.58 408.45 L367.65 408.88 L368.54 409.40 L369.39 409.89 L370.31 410.33 L371.33 410.74Z" fill="none" stroke="#ec9a9a" stroke-width="0.45" opacity="0.65"/>
<path d="M368.76 412.92 L369.06 413.50 L369.04 414.22 L368.72 415.01 L368.23 415.79 L367.68 416.56 L367.17 417.30 L366.67 418.06 L366.12 418.86 L365.41 419.69 L364.50 420.48 L363.40 421.16 L362.18 421.68 L360.95 422.02 L359.79 422.22 L358.70 422.35 L357.67 422.48 L356.63 422.62 L355.58 422.75 L354.54 422.80 L353.58 422.71 L352.78 422.47 L352.16 422.08 L351.70 421.58 L351.37 421.02 L351.12 420.43 L350.95 419.78 L350.93 419.07 L351.13 418.30 L351.61 417.48 L352.35 416.68 L353.28 415.93 L354.29 415.26 L355.26 414.65 L356.16 414.04 L357.04 413.38 L357.98 412.66 L359.04 411.93 L360.23 411.29 L361.49 410.84 L362.70 410.66 L363.76 410.74 L364.62 411.00 L365.34 411.33 L366.01 411.66 L366.70 411.93 L367.45 412.18 L368.18 412.48Z" fill="none" stroke="#ec9a9a" stroke-width="0.45" opacity="0.65"/>
<path d="M365.05 414.65 L365.20 414.99 L365.20 415.40 L365.06 415.84 L364.81 416.30 L364.49 416.74 L364.14 417.17 L363.76 417.60 L363.36 418.02 L362.90 418.44 L362.39 418.85 L361.82 419.23 L361.20 419.58 L360.55 419.87 L359.87 420.12 L359.20 420.31 L358.53 420.44 L357.90 420.50 L357.32 420.48 L356.82 420.37 L356.41 420.20 L356.08 419.97 L355.81 419.71 L355.58 419.44 L355.35 419.17 L355.12 418.88 L354.93 418.56 L354.83 418.18 L354.87 417.75 L355.08 417.28 L355.47 416.81 L355.97 416.36 L356.55 415.95 L357.14 415.58 L357.71 415.24 L358.28 414.89 L358.86 414.55 L359.47 414.21 L360.13 413.92 L360.80 413.69 L361.46 413.57 L362.07 413.54 L362.62 413.60 L363.10 413.71 L363.55 413.84 L363.99 413.98 L364.40 414.15 L364.77 414.37Z" fill="none" stroke="#ec9a9a" stroke-width="0.45" opacity="0.65"/>
<path d="M344.30 437.91 L343.63 439.04 L342.91 440.12 L342.14 441.11 L341.35 441.95 L340.58 442.65 L339.83 443.22 L339.11 443.71 L338.41 444.16 L337.70 444.58 L336.99 444.93 L336.32 445.13 L335.75 445.09 L335.34 444.77 L335.10 444.17 L335.04 443.38 L335.10 442.47 L335.23 441.52 L335.39 440.58 L335.56 439.62 L335.77 438.63 L336.06 437.56 L336.46 436.41 L337.00 435.23 L337.65 434.07 L338.37 432.97 L339.13 431.95 L339.89 431.00 L340.65 430.09 L341.43 429.23 L342.22 428.44 L343.01 427.78 L343.76 427.31 L344.44 427.08 L345.01 427.08 L345.47 427.27 L345.86 427.59 L346.19 427.96 L346.49 428.39 L346.76 428.87 L346.96 429.47 L347.05 430.21 L346.99 431.11 L346.78 432.15 L346.44 433.27 L345.99 434.43 L345.48 435.59 L344.92 436.75Z" fill="#f19a9a" opacity="0.9" filter="url(#bl05)"/>
<path d="M344.30 437.91 L343.63 439.04 L342.91 440.12 L342.14 441.11 L341.35 441.95 L340.58 442.65 L339.83 443.22 L339.11 443.71 L338.41 444.16 L337.70 444.58 L336.99 444.93 L336.32 445.13 L335.75 445.09 L335.34 444.77 L335.10 444.17 L335.04 443.38 L335.10 442.47 L335.23 441.52 L335.39 440.58 L335.56 439.62 L335.77 438.63 L336.06 437.56 L336.46 436.41 L337.00 435.23 L337.65 434.07 L338.37 432.97 L339.13 431.95 L339.89 431.00 L340.65 430.09 L341.43 429.23 L342.22 428.44 L343.01 427.78 L343.76 427.31 L344.44 427.08 L345.01 427.08 L345.47 427.27 L345.86 427.59 L346.19 427.96 L346.49 428.39 L346.76 428.87 L346.96 429.47 L347.05 430.21 L346.99 431.11 L346.78 432.15 L346.44 433.27 L345.99 434.43 L345.48 435.59 L344.92 436.75Z" fill="none" stroke="#e25a5a" stroke-width="0.6" opacity="0.8"/>
<path d="M343.53 437.46 L342.98 438.29 L342.41 439.06 L341.83 439.75 L341.26 440.39 L340.68 440.99 L340.10 441.54 L339.53 442.02 L338.96 442.41 L338.44 442.66 L337.96 442.77 L337.55 442.72 L337.22 442.54 L336.97 442.24 L336.78 441.84 L336.66 441.37 L336.60 440.82 L336.61 440.20 L336.67 439.53 L336.80 438.80 L336.99 438.01 L337.25 437.18 L337.58 436.31 L337.98 435.42 L338.45 434.53 L338.99 433.68 L339.56 432.90 L340.16 432.21 L340.74 431.62 L341.31 431.11 L341.86 430.66 L342.41 430.23 L342.96 429.82 L343.52 429.46 L344.06 429.20 L344.54 429.09 L344.94 429.18 L345.22 429.47 L345.37 429.95 L345.41 430.55 L345.38 431.20 L345.30 431.88 L345.21 432.57 L345.10 433.27 L344.96 434.01 L344.74 434.82 L344.43 435.69 L344.02 436.58Z" fill="none" stroke="#e25a5a" stroke-width="0.6" opacity="0.8"/>
<path d="M342.65 436.95 L342.31 437.51 L341.94 438.03 L341.56 438.50 L341.17 438.94 L340.79 439.34 L340.40 439.73 L340.00 440.08 L339.61 440.36 L339.25 440.55 L338.93 440.61 L338.68 440.53 L338.49 440.34 L338.36 440.08 L338.28 439.78 L338.21 439.46 L338.15 439.13 L338.10 438.77 L338.10 438.37 L338.14 437.90 L338.26 437.38 L338.45 436.80 L338.70 436.21 L339.00 435.61 L339.33 435.03 L339.68 434.48 L340.05 433.95 L340.43 433.46 L340.83 433.02 L341.21 432.64 L341.59 432.34 L341.95 432.10 L342.30 431.92 L342.63 431.78 L342.95 431.66 L343.26 431.60 L343.54 431.60 L343.78 431.69 L343.96 431.90 L344.05 432.22 L344.07 432.64 L344.01 433.12 L343.90 433.64 L343.76 434.16 L343.61 434.69 L343.43 435.24 L343.21 435.80 L342.96 436.38Z" fill="none" stroke="#e25a5a" stroke-width="0.6" opacity="0.8"/>
<path d="M342.14 436.66 L341.72 437.31 L341.30 437.91 L340.90 438.49 L340.49 439.04 L340.09 439.58 L339.68 440.10 L339.29 440.57 L338.92 440.94 L338.60 441.18 L338.34 441.29 L338.15 441.28 L338.01 441.18 L337.90 441.03 L337.83 440.82 L337.79 440.56 L337.81 440.22 L337.89 439.78 L338.05 439.26 L338.27 438.66 L338.55 438.01 L338.87 437.35 L339.20 436.69 L339.54 436.03 L339.90 435.36 L340.28 434.68 L340.68 433.99 L341.11 433.33 L341.54 432.73 L341.96 432.21 L342.35 431.80 L342.70 431.48 L343.01 431.23 L343.30 431.04 L343.56 430.90 L343.79 430.83 L343.98 430.84 L344.11 430.96 L344.17 431.18 L344.17 431.49 L344.12 431.88 L344.03 432.32 L343.91 432.80 L343.74 433.33 L343.53 433.92 L343.26 434.57 L342.93 435.26 L342.55 435.97Z" fill="#fff6f0" opacity="1.0"/>
<path d="M342.14 436.66 L341.72 437.31 L341.30 437.91 L340.90 438.49 L340.49 439.04 L340.09 439.58 L339.68 440.10 L339.29 440.57 L338.92 440.94 L338.60 441.18 L338.34 441.29 L338.15 441.28 L338.01 441.18 L337.90 441.03 L337.83 440.82 L337.79 440.56 L337.81 440.22 L337.89 439.78 L338.05 439.26 L338.27 438.66 L338.55 438.01 L338.87 437.35 L339.20 436.69 L339.54 436.03 L339.90 435.36 L340.28 434.68 L340.68 433.99 L341.11 433.33 L341.54 432.73 L341.96 432.21 L342.35 431.80 L342.70 431.48 L343.01 431.23 L343.30 431.04 L343.56 430.90 L343.79 430.83 L343.98 430.84 L344.11 430.96 L344.17 431.18 L344.17 431.49 L344.12 431.88 L344.03 432.32 L343.91 432.80 L343.74 433.33 L343.53 433.92 L343.26 434.57 L342.93 435.26 L342.55 435.97Z" fill="none" stroke="#ffffff" stroke-width="0.3" opacity="0.5"/>
<rect x="325.20" y="395.60" width="62.00" height="61.60" fill="none" stroke="#6a6a6a" stroke-width="0.65"/>
<line x1="324.00" y1="404.84" x2="325.20" y2="404.84" stroke="#777" stroke-width="0.5"/>
<line x1="324.00" y1="429.48" x2="325.20" y2="429.48" stroke="#777" stroke-width="0.5"/>
<line x1="359.30" y1="457.20" x2="359.30" y2="458.40" stroke="#777" stroke-width="0.5"/>
<line x1="377.90" y1="457.20" x2="377.90" y2="458.40" stroke="#777" stroke-width="0.5"/>
<rect x="338.22" y="456.60" width="3.8" height="1.3" rx="0.6" fill="#1a1a1a"/>
<path d="M323.90 444.26h1.2v1.6h-0.9v1.2h0.9v1.6h-1.2" fill="none" stroke="#222" stroke-width="0.8"/>
<path d="M325.20 426.1H387.20M346.2 395.60V457.20" fill="none" stroke="#555" stroke-width="0.8"/>
<text x="328.80" y="403.78" font-size="6.6" text-anchor="start" font-weight="normal" fill="#222">9.23</text>
<text x="384.50" y="403.78" font-size="6.6" text-anchor="end" font-weight="normal" fill="#222">40.9</text>
<text x="328.80" y="454.18" font-size="6.6" text-anchor="start" font-weight="normal" fill="#222">32.6</text>
<text x="384.50" y="454.18" font-size="6.6" text-anchor="end" font-weight="normal" fill="#222">17.3</text>
<path d="M243.3 466.1V445.5M243.3 466.1H261" fill="none" stroke="#222" stroke-width="0.9"/>
<path d="M243.3 442.9L241.6 446.6L245.0 446.6Z M263.7 466.1L260.0 464.4L260.0 467.8Z" fill="#222"/>
<text transform="translate(239.34,454.20) rotate(-90)" x="0" y="0" font-size="7.6" text-anchor="middle" font-weight="normal" fill="#333" textLength="14.40" lengthAdjust="spacingAndGlyphs" stroke="#333" stroke-width="0.2">IFNγ</text>
<text x="255.60" y="475.74" font-size="7.6" text-anchor="middle" font-weight="normal" fill="#333" textLength="10.70" lengthAdjust="spacingAndGlyphs" stroke="#333" stroke-width="0.2">TNF</text>
<text x="467.30" y="264.24" font-size="9" text-anchor="middle" font-weight="normal" fill="#333">Blood</text>
<rect x="445.80" y="344.48" width="8.70" height="10.82" fill="#a1a3b4" stroke="#9093a6" stroke-width="0.5"/>
<rect x="457.40" y="347.67" width="8.20" height="7.63" fill="#abd99c" stroke="#98cc88" stroke-width="0.5"/>
<rect x="468.80" y="317.12" width="7.90" height="38.18" fill="#8494c6" stroke="#7385ba" stroke-width="0.5"/>
<rect x="479.70" y="326.03" width="8.40" height="29.27" fill="#f08878" stroke="#e67a6a" stroke-width="0.5"/>
<line x1="450.15" y1="344.48" x2="450.15" y2="344.17" stroke="#45454f" stroke-width="0.6"/>
<line x1="448.55" y1="344.17" x2="451.75" y2="344.17" stroke="#45454f" stroke-width="0.6"/>
<path d="M448.65 343.02L449.80 345.09L447.50 345.09Z" fill="#45454f"/>
<path d="M450.15 343.33L451.30 345.40L449.00 345.40Z" fill="#45454f"/>
<path d="M451.65 343.21L452.80 345.28L450.50 345.28Z" fill="#45454f"/>
<line x1="461.50" y1="347.67" x2="461.50" y2="345.12" stroke="#3a8332" stroke-width="0.6"/>
<line x1="459.90" y1="345.12" x2="463.10" y2="345.12" stroke="#3a8332" stroke-width="0.6"/>
<path d="M461.50 340.67L462.65 338.60L460.35 338.60Z" fill="#3a8332"/>
<path d="M459.00 343.34L460.15 341.27L457.85 341.27Z" fill="#3a8332"/>
<path d="M464.00 343.34L465.15 341.27L462.85 341.27Z" fill="#3a8332"/>
<path d="M461.50 346.91L462.65 344.84L460.35 344.84Z" fill="#3a8332"/>
<path d="M459.00 354.86L460.15 352.79L457.85 352.79Z" fill="#3a8332"/>
<path d="M461.50 354.86L462.65 352.79L460.35 352.79Z" fill="#3a8332"/>
<path d="M464.00 354.86L465.15 352.79L462.85 352.79Z" fill="#3a8332"/>
<line x1="472.75" y1="317.12" x2="472.75" y2="312.03" stroke="#1a3673" stroke-width="0.6"/>
<line x1="471.15" y1="312.03" x2="474.35" y2="312.03" stroke="#1a3673" stroke-width="0.6"/>
<rect x="471.77" y="306.73" width="1.95" height="1.95" fill="#1a3673"/>
<rect x="471.77" y="316.91" width="1.95" height="1.95" fill="#1a3673"/>
<rect x="471.77" y="322.32" width="1.95" height="1.95" fill="#1a3673"/>
<line x1="483.90" y1="326.03" x2="483.90" y2="321.90" stroke="#c0102a" stroke-width="0.6"/>
<line x1="482.30" y1="321.90" x2="485.50" y2="321.90" stroke="#c0102a" stroke-width="0.6"/>
<circle cx="486.90" cy="312.42" r="1.09" fill="#c0102a"/>
<circle cx="483.90" cy="314.77" r="1.09" fill="#c0102a"/>
<circle cx="480.90" cy="326.67" r="1.09" fill="#c0102a"/>
<circle cx="482.90" cy="326.67" r="1.09" fill="#c0102a"/>
<circle cx="484.90" cy="326.03" r="1.09" fill="#c0102a"/>
<circle cx="486.90" cy="326.67" r="1.09" fill="#c0102a"/>
<circle cx="481.40" cy="331.12" r="1.09" fill="#c0102a"/>
<circle cx="483.90" cy="331.76" r="1.09" fill="#c0102a"/>
<circle cx="486.40" cy="332.39" r="1.09" fill="#c0102a"/>
<line x1="441.60" y1="303.90" x2="441.60" y2="355.30" stroke="#222" stroke-width="1.2"/>
<line x1="439.60" y1="355.30" x2="490.30" y2="355.30" stroke="#222" stroke-width="1.3"/>
<line x1="438.80" y1="355.30" x2="441.60" y2="355.30" stroke="#222" stroke-width="0.7"/>
<text x="436.00" y="357.68" font-size="6.6" text-anchor="end" font-weight="normal" fill="#333" stroke="#333" stroke-width="0.05">0</text>
<line x1="438.80" y1="342.57" x2="441.60" y2="342.57" stroke="#222" stroke-width="0.7"/>
<text x="436.00" y="344.95" font-size="6.6" text-anchor="end" font-weight="normal" fill="#333" stroke="#333" stroke-width="0.05">20</text>
<line x1="438.80" y1="329.85" x2="441.60" y2="329.85" stroke="#222" stroke-width="0.7"/>
<text x="436.00" y="332.23" font-size="6.6" text-anchor="end" font-weight="normal" fill="#333" stroke="#333" stroke-width="0.05">40</text>
<line x1="438.80" y1="317.12" x2="441.60" y2="317.12" stroke="#222" stroke-width="0.7"/>
<text x="436.00" y="319.50" font-size="6.6" text-anchor="end" font-weight="normal" fill="#333" stroke="#333" stroke-width="0.05">60</text>
<line x1="438.80" y1="304.40" x2="441.60" y2="304.40" stroke="#222" stroke-width="0.7"/>
<text x="436.00" y="306.78" font-size="6.6" text-anchor="end" font-weight="normal" fill="#333" stroke="#333" stroke-width="0.05">80</text>
<path d="M450.30 277.50V273.80H483.90V277.50" fill="none" stroke="#555" stroke-width="0.6"/>
<circle cx="465.74" cy="270.80" r="0.89" fill="#2a2a2a"/>
<circle cx="468.46" cy="270.80" r="0.89" fill="#2a2a2a"/>
<path d="M450.30 288.00V284.70H472.70V288.00" fill="none" stroke="#555" stroke-width="0.6"/>
<circle cx="458.88" cy="281.40" r="0.89" fill="#2a2a2a"/>
<circle cx="461.60" cy="281.40" r="0.89" fill="#2a2a2a"/>
<circle cx="464.32" cy="281.40" r="0.89" fill="#2a2a2a"/>
<path d="M461.30 304.40V296.40H479.40V301.30M472.40 304.40V301.30H485.40V304.40" fill="none" stroke="#555" stroke-width="0.6"/>
<circle cx="466.42" cy="293.60" r="0.89" fill="#2a2a2a"/>
<circle cx="469.14" cy="293.60" r="0.89" fill="#2a2a2a"/>
<circle cx="471.86" cy="293.60" r="0.89" fill="#2a2a2a"/>
<circle cx="474.58" cy="293.60" r="0.89" fill="#2a2a2a"/>
<text transform="translate(412.08,328.80) rotate(-90)" x="0" y="0" font-size="8.0" text-anchor="middle" font-weight="normal" fill="#333" textLength="48.00" lengthAdjust="spacingAndGlyphs" stroke="#333" stroke-width="0.12">% of IFNγ<tspan font-size="5" dy="-2.5">+</tspan><tspan dy="2.5">TNF</tspan><tspan font-size="5" dy="-2.5">+</tspan></text>
<text transform="translate(421.78,329.80) rotate(-90)" x="0" y="0" font-size="8.0" text-anchor="middle" font-weight="normal" fill="#333" textLength="56.00" lengthAdjust="spacingAndGlyphs" stroke="#333" stroke-width="0.12">in blood CD8 T cell</text>
<text x="467.20" y="378.54" font-size="9" text-anchor="middle" font-weight="normal" fill="#333" textLength="25.60" lengthAdjust="spacingAndGlyphs">Spleen</text>
<rect x="445.80" y="450.73" width="9.20" height="6.37" fill="#a1a3b4" stroke="#9093a6" stroke-width="0.5"/>
<rect x="457.40" y="451.90" width="8.90" height="5.20" fill="#abd99c" stroke="#98cc88" stroke-width="0.5"/>
<rect x="468.80" y="427.00" width="8.40" height="30.10" fill="#8494c6" stroke="#7385ba" stroke-width="0.5"/>
<rect x="479.70" y="435.20" width="8.90" height="21.90" fill="#f08878" stroke="#e67a6a" stroke-width="0.5"/>
<line x1="450.40" y1="450.73" x2="450.40" y2="449.43" stroke="#45454f" stroke-width="0.6"/>
<line x1="448.80" y1="449.43" x2="452.00" y2="449.43" stroke="#45454f" stroke-width="0.6"/>
<path d="M447.40 445.55L448.55 447.62L446.25 447.62Z" fill="#45454f"/>
<path d="M450.40 445.55L451.55 447.62L449.25 447.62Z" fill="#45454f"/>
<path d="M449.40 447.63L450.55 449.70L448.25 449.70Z" fill="#45454f"/>
<path d="M452.40 447.63L453.55 449.70L451.25 449.70Z" fill="#45454f"/>
<path d="M448.40 450.10L449.55 452.17L447.25 452.17Z" fill="#45454f"/>
<path d="M451.40 450.10L452.55 452.17L450.25 452.17Z" fill="#45454f"/>
<path d="M453.40 449.45L454.55 451.52L452.25 451.52Z" fill="#45454f"/>
<line x1="461.85" y1="451.90" x2="461.85" y2="450.60" stroke="#3a8332" stroke-width="0.6"/>
<line x1="460.25" y1="450.60" x2="463.45" y2="450.60" stroke="#3a8332" stroke-width="0.6"/>
<path d="M459.35 448.18L460.50 446.11L458.20 446.11Z" fill="#3a8332"/>
<path d="M463.35 450.45L464.50 448.38L462.20 448.38Z" fill="#3a8332"/>
<path d="M460.85 453.05L462.00 450.98L459.70 450.98Z" fill="#3a8332"/>
<path d="M463.85 454.35L465.00 452.28L462.70 452.28Z" fill="#3a8332"/>
<path d="M461.85 455.65L463.00 453.58L460.70 453.58Z" fill="#3a8332"/>
<line x1="473.00" y1="427.00" x2="473.00" y2="422.20" stroke="#1a3673" stroke-width="0.6"/>
<line x1="471.40" y1="422.20" x2="474.60" y2="422.20" stroke="#1a3673" stroke-width="0.6"/>
<rect x="472.02" y="418.23" width="1.95" height="1.95" fill="#1a3673"/>
<rect x="472.02" y="424.27" width="1.95" height="1.95" fill="#1a3673"/>
<rect x="472.02" y="430.51" width="1.95" height="1.95" fill="#1a3673"/>
<rect x="472.02" y="434.80" width="1.95" height="1.95" fill="#1a3673"/>
<line x1="484.15" y1="435.20" x2="484.15" y2="433.25" stroke="#c0102a" stroke-width="0.6"/>
<line x1="482.55" y1="433.25" x2="485.75" y2="433.25" stroke="#c0102a" stroke-width="0.6"/>
<circle cx="484.15" cy="427.85" r="1.09" fill="#c0102a"/>
<circle cx="484.15" cy="430.91" r="1.09" fill="#c0102a"/>
<circle cx="481.65" cy="433.05" r="1.09" fill="#c0102a"/>
<circle cx="484.15" cy="433.05" r="1.09" fill="#c0102a"/>
<circle cx="486.65" cy="433.05" r="1.09" fill="#c0102a"/>
<circle cx="481.15" cy="436.50" r="1.09" fill="#c0102a"/>
<circle cx="484.15" cy="436.50" r="1.09" fill="#c0102a"/>
<circle cx="487.15" cy="436.50" r="1.09" fill="#c0102a"/>
<circle cx="484.15" cy="445.08" r="1.09" fill="#c0102a"/>
<line x1="440.80" y1="404.60" x2="440.80" y2="457.10" stroke="#222" stroke-width="1.2"/>
<line x1="438.40" y1="457.10" x2="493.60" y2="457.10" stroke="#222" stroke-width="1.3"/>
<line x1="438.00" y1="457.10" x2="440.80" y2="457.10" stroke="#222" stroke-width="0.7"/>
<text x="435.20" y="459.48" font-size="6.6" text-anchor="end" font-weight="normal" fill="#333" stroke="#333" stroke-width="0.05">0</text>
<line x1="438.00" y1="444.10" x2="440.80" y2="444.10" stroke="#222" stroke-width="0.7"/>
<text x="435.20" y="446.48" font-size="6.6" text-anchor="end" font-weight="normal" fill="#333" stroke="#333" stroke-width="0.05">20</text>
<line x1="438.00" y1="431.10" x2="440.80" y2="431.10" stroke="#222" stroke-width="0.7"/>
<text x="435.20" y="433.48" font-size="6.6" text-anchor="end" font-weight="normal" fill="#333" stroke="#333" stroke-width="0.05">40</text>
<line x1="438.00" y1="418.10" x2="440.80" y2="418.10" stroke="#222" stroke-width="0.7"/>
<text x="435.20" y="420.48" font-size="6.6" text-anchor="end" font-weight="normal" fill="#333" stroke="#333" stroke-width="0.05">60</text>
<line x1="438.00" y1="405.10" x2="440.80" y2="405.10" stroke="#222" stroke-width="0.7"/>
<text x="435.20" y="407.48" font-size="6.6" text-anchor="end" font-weight="normal" fill="#333" stroke="#333" stroke-width="0.05">80</text>
<path d="M450.00 398.40V389.80H479.70V394.20M473.00 397.40V394.20H486.60V397.40" fill="none" stroke="#555" stroke-width="0.6"/>
<circle cx="460.82" cy="386.00" r="0.89" fill="#2a2a2a"/>
<circle cx="463.54" cy="386.00" r="0.89" fill="#2a2a2a"/>
<circle cx="466.26" cy="386.00" r="0.89" fill="#2a2a2a"/>
<circle cx="468.98" cy="386.00" r="0.89" fill="#2a2a2a"/>
<path d="M458.90 414.50V407.60H479.70V411.50M473.00 414.60V411.50H486.60V414.60" fill="none" stroke="#555" stroke-width="0.6"/>
<circle cx="465.72" cy="404.10" r="0.89" fill="#2a2a2a"/>
<circle cx="468.44" cy="404.10" r="0.89" fill="#2a2a2a"/>
<circle cx="471.16" cy="404.10" r="0.89" fill="#2a2a2a"/>
<circle cx="473.88" cy="404.10" r="0.89" fill="#2a2a2a"/>
<text transform="translate(411.88,432.20) rotate(-90)" x="0" y="0" font-size="8.0" text-anchor="middle" font-weight="normal" fill="#333" textLength="48.00" lengthAdjust="spacingAndGlyphs" stroke="#333" stroke-width="0.12">% of IFNγ<tspan font-size="5" dy="-2.5">+</tspan><tspan dy="2.5">TNF</tspan><tspan font-size="5" dy="-2.5">+</tspan></text>
<text transform="translate(422.18,430.00) rotate(-90)" x="0" y="0" font-size="8.0" text-anchor="middle" font-weight="normal" fill="#333" textLength="58.40" lengthAdjust="spacingAndGlyphs" stroke="#333" stroke-width="0.12">in spleen CD8 T cell</text>
<rect x="0.5" y="0.5" width="519" height="484" fill="none" stroke="#505050" stroke-width="1"/>
</svg></body></html>
